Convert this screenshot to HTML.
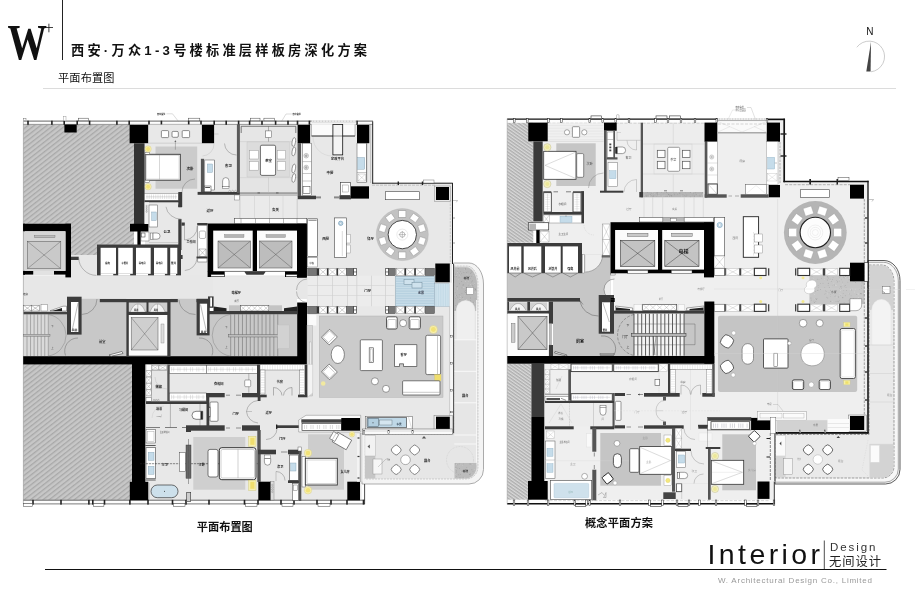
<!DOCTYPE html>
<html lang="zh"><head><meta charset="utf-8"><title>西安·万众1-3号楼标准层样板房深化方案</title>
<style>
html,body{margin:0;padding:0;background:#fff;}
body{width:923px;height:600px;overflow:hidden;font-family:"Liberation Sans","Noto Sans CJK SC",sans-serif;}
svg{display:block;}
#wrap{will-change:transform;width:923px;height:600px;}
svg text{font-family:"Liberation Sans","Noto Sans CJK SC",sans-serif;}
</style></head><body>
<div id="wrap"><svg width="923" height="600" viewBox="0 0 923 600">
<rect width="923" height="600" fill="#fff"/>
<defs>
<pattern id="hL" width="3.85" height="3.85" patternUnits="userSpaceOnUse" patternTransform="rotate(-38)">
<rect width="3.85" height="3.85" fill="#c7c7c7"/><line x1="0" y1="0.7" x2="3.85" y2="0.7" stroke="#a1a1a1" stroke-width="1.05"/></pattern>
<pattern id="hR" width="2.7" height="2.7" patternUnits="userSpaceOnUse" patternTransform="rotate(35)">
<rect width="2.7" height="2.7" fill="#d9d9d9"/><line x1="0" y1="0.7" x2="2.7" y2="0.7" stroke="#adadad" stroke-width="1.35"/></pattern>
</defs>
<g id="p00_header">
<text x="7.5" y="59.3" font-size="50" fill="#111" font-weight="bold" style="font-family:'Liberation Serif',serif" textLength="39.5" lengthAdjust="spacingAndGlyphs">W</text>
<line x1="45" y1="27.5" x2="53" y2="27.5" stroke="#111" stroke-width="0.8"/>
<line x1="48.9" y1="23.7" x2="48.9" y2="32.3" stroke="#111" stroke-width="0.8"/>
<line x1="62.5" y1="0" x2="62.5" y2="60" stroke="#222" stroke-width="1"/>
<text x="71" y="54.5" font-size="13.2" fill="#111" font-weight="bold" textLength="296" lengthAdjust="spacing">西安·万众1-3号楼标准层样板房深化方案</text>
<text x="58" y="82" font-size="11.2" fill="#111" textLength="56.5" lengthAdjust="spacing">平面布置图</text>
<line x1="43" y1="88.5" x2="896" y2="88.5" stroke="#dcdcdc" stroke-width="1"/>
<text x="866.2" y="34.8" font-size="10" fill="#111">N</text>
<path d="M 856.8 47.3 A 15.4 15.4 0 1 1 871 71.8" fill="none" stroke="#999" stroke-width="0.5"/>
<polygon points="871,42 870.6,71.5 866.3,71.5" fill="#444"/>
<text x="196.8" y="530.5" font-size="11.2" fill="#111" font-weight="bold" textLength="56" lengthAdjust="spacing">平面布置图</text>
<text x="585" y="527.3" font-size="11.2" fill="#111" font-weight="bold" textLength="68" lengthAdjust="spacing">概念平面方案</text>
<text x="707.5" y="564.3" font-size="28.5" fill="#111" textLength="112.5" lengthAdjust="spacing">Interior</text>
<line x1="45" y1="569.5" x2="886.5" y2="569.5" stroke="#111" stroke-width="1.2"/>
<line x1="824.3" y1="540.5" x2="824.3" y2="569" stroke="#222" stroke-width="0.8"/>
<text x="830" y="551" font-size="11.5" fill="#333" textLength="45.5" lengthAdjust="spacing">Design</text>
<text x="829" y="565.8" font-size="12.3" fill="#222" textLength="52" lengthAdjust="spacing">无间设计</text>
<text x="718" y="582.5" font-size="8" fill="#999" textLength="154" lengthAdjust="spacing">W. Architectural Design Co., Limited</text>
</g>
<g id="p10_left_base">
<rect x="145" y="122.5" width="228" height="101.5" fill="#e8e8e8"/>
<rect x="145" y="224" width="62.6" height="21" fill="#e8e8e8"/>
<rect x="181" y="244" width="26.6" height="32" fill="#e8e8e8"/>
<rect x="306.8" y="183" width="145.2" height="250" fill="#e8e8e8"/>
<rect x="145" y="364" width="216.5" height="138" fill="#e8e8e8"/>
<rect x="306" y="396" width="56" height="37" fill="#e8e8e8"/>
<rect x="129" y="124.4" width="20" height="0.8" fill="#dedede"/>
<rect x="23.5" y="275.4" width="283.5" height="23.6" fill="#e7e7e7"/>
<rect x="23.5" y="298" width="44.5" height="14" fill="#e7e7e7"/>
<rect x="213" y="277" width="84" height="35" fill="#e9e9e9"/>
<rect x="71" y="255" width="26" height="21" fill="#e7e7e7"/>
<polygon points="23.5,124.6 134,124.6 134,244.7 97,244.7 97,255 71,255 71,223.7 23.5,223.7" fill="url(#hL)"/>
<rect x="23.5" y="364" width="108.5" height="135.9" fill="url(#hL)"/>
<rect x="23.5" y="314" width="24.8" height="42.4" fill="#dadada"/>
<rect x="48.3" y="314" width="20.3" height="42.4" fill="#c8c8c8"/>
<rect x="68" y="298.8" width="58.3" height="57.6" fill="#c8c8c8"/>
<rect x="170.6" y="298.8" width="39.4" height="57.6" fill="#c8c8c8"/>
<rect x="209.6" y="314.3" width="87.7" height="42.1" fill="#c8c8c8"/>
<rect x="307.7" y="275.7" width="86.8" height="30.6" fill="#ececec"/>
<line x1="317.5" y1="275.7" x2="317.5" y2="306.3" stroke="#c4c4c4" stroke-width="0.5"/>
<line x1="332.5" y1="275.7" x2="332.5" y2="306.3" stroke="#c4c4c4" stroke-width="0.5"/>
<line x1="347.5" y1="275.7" x2="347.5" y2="306.3" stroke="#c4c4c4" stroke-width="0.5"/>
<line x1="356.8" y1="275.7" x2="356.8" y2="306.3" stroke="#c4c4c4" stroke-width="0.5"/>
<line x1="371.5" y1="275.7" x2="371.5" y2="306.3" stroke="#c4c4c4" stroke-width="0.5"/>
<line x1="385.5" y1="275.7" x2="385.5" y2="306.3" stroke="#c4c4c4" stroke-width="0.5"/>
<line x1="307.7" y1="285.5" x2="394.5" y2="285.5" stroke="#cfcfcf" stroke-width="0.5"/>
<line x1="307.7" y1="295.5" x2="394.5" y2="295.5" stroke="#cfcfcf" stroke-width="0.5"/>
<rect x="240" y="195.7" width="57.7" height="22.8" fill="#eaeaea"/>
<line x1="254.5" y1="195.7" x2="254.5" y2="218.5" stroke="#c4c4c4" stroke-width="0.4"/>
<line x1="269.5" y1="195.7" x2="269.5" y2="218.5" stroke="#c4c4c4" stroke-width="0.4"/>
<line x1="283" y1="195.7" x2="283" y2="218.5" stroke="#c4c4c4" stroke-width="0.4"/>
<rect x="240" y="124.5" width="57.7" height="71.2" fill="#e4e4e4"/>
<rect x="155.5" y="146.5" width="41.7" height="42.2" fill="#cbcbcb"/>
<rect x="319.3" y="316" width="123.7" height="81.4" fill="#cbcbcb" stroke="#aaa" stroke-width="0.4"/>
<rect x="193.3" y="437" width="52" height="52.7" fill="#cfcfcf"/>
<rect x="308" y="434.3" width="36" height="55.4" fill="#cdcdcd"/>
<path d="M 453.5 263 L 469 263 A 14.5 21 0 0 1 483.5 284 L 483.5 469.5 A 14.5 14.5 0 0 1 469 484 L 362 484 L 362 433.5 L 453.5 433.5 Z" fill="#f4f4f4" stroke="#8a8a8a" stroke-width="0.7"/>
<path d="M 453.7 266 L 467 266 A 11 18 0 0 1 478 284 L 478 467 A 12 12 0 0 1 466 479 L 364.5 479 L 364.5 434.5 L 453.7 434.5 Z" fill="#e6e6e6" stroke="#999" stroke-width="0.4" stroke-dasharray="2 1"/>
<path d="M 454.3 267.3 L 466 267.3 A 11 17 0 0 1 477 284 L 477 311 L 475 311 L 475 310 A 9.3 9.5 0 0 0 456.3 310 L 456.3 311 L 454.3 311 Z" fill="#b9b9b9"/>
<path d="M 456.3 340 L 456.3 310 A 9.3 9.5 0 0 1 475 310 L 475 340 Z" fill="#efefef" stroke="#ddd" stroke-width="0.4"/>
<rect x="466.8" y="287.5" width="6.7" height="6.8" fill="#fff" stroke="#777" stroke-width="0.4"/>
<circle cx="464.66" cy="291.87" r="0.44" fill="#9c9c9c"/>
<circle cx="458.94" cy="302.37" r="0.37" fill="#d6d6d6"/>
<circle cx="472.09" cy="271.85" r="0.35" fill="#8f8f8f"/>
<circle cx="463.44" cy="287.28" r="0.41" fill="#d6d6d6"/>
<circle cx="458.23" cy="268.45" r="0.38" fill="#8f8f8f"/>
<circle cx="455.58" cy="305.62" r="0.39" fill="#9c9c9c"/>
<circle cx="461.91" cy="293.21" r="0.33" fill="#8f8f8f"/>
<circle cx="476.51" cy="303.93" r="0.41" fill="#9c9c9c"/>
<circle cx="455.45" cy="292.02" r="0.32" fill="#8f8f8f"/>
<circle cx="473.26" cy="284.42" r="0.44" fill="#d6d6d6"/>
<circle cx="454.81" cy="276.82" r="0.44" fill="#9c9c9c"/>
<circle cx="462.99" cy="298.28" r="0.36" fill="#d6d6d6"/>
<circle cx="460.68" cy="271.55" r="0.35" fill="#9c9c9c"/>
<circle cx="471.33" cy="272.87" r="0.34" fill="#8f8f8f"/>
<circle cx="455.04" cy="287.79" r="0.37" fill="#d6d6d6"/>
<circle cx="458.96" cy="299.27" r="0.32" fill="#d6d6d6"/>
<circle cx="463.17" cy="284.78" r="0.45" fill="#8f8f8f"/>
<circle cx="472.31" cy="280.88" r="0.43" fill="#8f8f8f"/>
<circle cx="455.72" cy="274.09" r="0.37" fill="#8f8f8f"/>
<circle cx="471.64" cy="281.95" r="0.34" fill="#8f8f8f"/>
<circle cx="456.42" cy="276.78" r="0.4" fill="#8f8f8f"/>
<circle cx="467.91" cy="283.78" r="0.37" fill="#d6d6d6"/>
<circle cx="465.35" cy="292.51" r="0.43" fill="#8f8f8f"/>
<circle cx="468.47" cy="281.16" r="0.33" fill="#d6d6d6"/>
<circle cx="460.24" cy="275.96" r="0.41" fill="#d6d6d6"/>
<circle cx="463.99" cy="272.27" r="0.31" fill="#9c9c9c"/>
<circle cx="460" cy="298.1" r="0.34" fill="#d6d6d6"/>
<circle cx="465.5" cy="290.16" r="0.44" fill="#8f8f8f"/>
<circle cx="457.56" cy="288.41" r="0.4" fill="#d6d6d6"/>
<circle cx="468.19" cy="279.85" r="0.44" fill="#8f8f8f"/>
<circle cx="471.13" cy="270.77" r="0.36" fill="#8f8f8f"/>
<circle cx="456.12" cy="275.38" r="0.36" fill="#d6d6d6"/>
<circle cx="457.82" cy="287.16" r="0.35" fill="#d6d6d6"/>
<circle cx="457.86" cy="269.31" r="0.3" fill="#9c9c9c"/>
<circle cx="455.26" cy="295.16" r="0.37" fill="#d6d6d6"/>
<circle cx="461.58" cy="273.67" r="0.31" fill="#9c9c9c"/>
<circle cx="466.7" cy="299.49" r="0.44" fill="#d6d6d6"/>
<circle cx="470.87" cy="273.37" r="0.44" fill="#9c9c9c"/>
<circle cx="462.47" cy="297.26" r="0.44" fill="#9c9c9c"/>
<circle cx="465.7" cy="268.42" r="0.4" fill="#9c9c9c"/>
<circle cx="456.55" cy="295.29" r="0.45" fill="#9c9c9c"/>
<circle cx="470.67" cy="284.5" r="0.41" fill="#d6d6d6"/>
<circle cx="464.78" cy="287.69" r="0.38" fill="#d6d6d6"/>
<circle cx="459.82" cy="297.83" r="0.37" fill="#d6d6d6"/>
<circle cx="474.34" cy="283.62" r="0.32" fill="#d6d6d6"/>
<circle cx="459.22" cy="275.09" r="0.44" fill="#d6d6d6"/>
<circle cx="475.08" cy="289.23" r="0.34" fill="#9c9c9c"/>
<circle cx="469.32" cy="276.34" r="0.36" fill="#8f8f8f"/>
<circle cx="473.99" cy="284.33" r="0.39" fill="#9c9c9c"/>
<circle cx="459.38" cy="273.59" r="0.35" fill="#8f8f8f"/>
<circle cx="460.83" cy="275.07" r="0.37" fill="#9c9c9c"/>
<circle cx="474.98" cy="303.53" r="0.36" fill="#d6d6d6"/>
<circle cx="465.57" cy="281.36" r="0.43" fill="#d6d6d6"/>
<circle cx="464.66" cy="271.01" r="0.3" fill="#d6d6d6"/>
<circle cx="455.7" cy="298.27" r="0.39" fill="#9c9c9c"/>
<circle cx="468.77" cy="285.22" r="0.33" fill="#9c9c9c"/>
<circle cx="459.98" cy="273.86" r="0.31" fill="#d6d6d6"/>
<circle cx="457.31" cy="272.49" r="0.38" fill="#d6d6d6"/>
<circle cx="469.72" cy="276.37" r="0.37" fill="#8f8f8f"/>
<circle cx="470.37" cy="300.27" r="0.38" fill="#8f8f8f"/>
<circle cx="458.7" cy="279.51" r="0.35" fill="#d6d6d6"/>
<circle cx="475.44" cy="289.32" r="0.45" fill="#8f8f8f"/>
<circle cx="475.13" cy="298.86" r="0.32" fill="#9c9c9c"/>
<circle cx="454.95" cy="291.45" r="0.4" fill="#d6d6d6"/>
<circle cx="464.91" cy="295.81" r="0.33" fill="#d6d6d6"/>
<circle cx="473.68" cy="302.13" r="0.44" fill="#8f8f8f"/>
<circle cx="476.17" cy="309.83" r="0.38" fill="#9c9c9c"/>
<circle cx="460.51" cy="298.69" r="0.3" fill="#d6d6d6"/>
<circle cx="456.6" cy="286.76" r="0.38" fill="#9c9c9c"/>
<circle cx="465.43" cy="269.02" r="0.42" fill="#8f8f8f"/>
<circle cx="464.15" cy="269.31" r="0.38" fill="#d6d6d6"/>
<circle cx="471.98" cy="273.84" r="0.32" fill="#d6d6d6"/>
<circle cx="474.43" cy="290.08" r="0.4" fill="#9c9c9c"/>
<circle cx="475.42" cy="288.98" r="0.44" fill="#8f8f8f"/>
<circle cx="471.32" cy="286.7" r="0.38" fill="#d6d6d6"/>
<circle cx="467.04" cy="274.87" r="0.38" fill="#d6d6d6"/>
<circle cx="460.39" cy="296.67" r="0.44" fill="#d6d6d6"/>
<circle cx="475.91" cy="290.34" r="0.39" fill="#8f8f8f"/>
<circle cx="463.76" cy="272.71" r="0.3" fill="#9c9c9c"/>
<circle cx="455.41" cy="309.48" r="0.38" fill="#9c9c9c"/>
<circle cx="457.46" cy="271.81" r="0.33" fill="#d6d6d6"/>
<circle cx="472.25" cy="285.18" r="0.34" fill="#9c9c9c"/>
<circle cx="457.57" cy="286.45" r="0.42" fill="#9c9c9c"/>
<circle cx="466.24" cy="272.47" r="0.36" fill="#8f8f8f"/>
<circle cx="459.03" cy="277.57" r="0.4" fill="#9c9c9c"/>
<circle cx="470.57" cy="278.31" r="0.37" fill="#9c9c9c"/>
<circle cx="470.73" cy="273.08" r="0.38" fill="#9c9c9c"/>
<circle cx="470.45" cy="297.96" r="0.43" fill="#8f8f8f"/>
<circle cx="462.99" cy="285.58" r="0.38" fill="#8f8f8f"/>
<circle cx="466.44" cy="277.19" r="0.33" fill="#d6d6d6"/>
<circle cx="459.87" cy="299.65" r="0.42" fill="#8f8f8f"/>
<circle cx="461.69" cy="281.34" r="0.44" fill="#8f8f8f"/>
<circle cx="471.77" cy="276.17" r="0.31" fill="#8f8f8f"/>
<circle cx="457.69" cy="271.59" r="0.36" fill="#9c9c9c"/>
<circle cx="472.94" cy="285.93" r="0.42" fill="#8f8f8f"/>
<circle cx="459.17" cy="294.8" r="0.42" fill="#8f8f8f"/>
<circle cx="459.18" cy="297.14" r="0.44" fill="#9c9c9c"/>
<circle cx="457.32" cy="289.54" r="0.41" fill="#d6d6d6"/>
<circle cx="476.57" cy="303.62" r="0.42" fill="#9c9c9c"/>
<circle cx="457.11" cy="269.41" r="0.38" fill="#d6d6d6"/>
<circle cx="474.53" cy="288.49" r="0.33" fill="#8f8f8f"/>
<circle cx="476.39" cy="307.66" r="0.31" fill="#8f8f8f"/>
<circle cx="457.73" cy="297.08" r="0.31" fill="#8f8f8f"/>
<circle cx="461.92" cy="287.88" r="0.38" fill="#9c9c9c"/>
<circle cx="459.38" cy="283.85" r="0.4" fill="#8f8f8f"/>
<circle cx="473.2" cy="275.59" r="0.37" fill="#d6d6d6"/>
<circle cx="467.99" cy="271.88" r="0.42" fill="#9c9c9c"/>
<circle cx="474.27" cy="302.27" r="0.41" fill="#d6d6d6"/>
<circle cx="475.28" cy="292.3" r="0.33" fill="#d6d6d6"/>
<circle cx="476.22" cy="302.41" r="0.34" fill="#8f8f8f"/>
<line x1="454.3" y1="339.8" x2="476.5" y2="339.8" stroke="#fafafa" stroke-width="0.9"/>
<line x1="454.3" y1="371.3" x2="476.5" y2="371.3" stroke="#fafafa" stroke-width="0.9"/>
<line x1="454.3" y1="402.8" x2="476.5" y2="402.8" stroke="#fafafa" stroke-width="0.9"/>
<line x1="454.3" y1="435" x2="476.5" y2="435" stroke="#fafafa" stroke-width="0.9"/>
<line x1="454.3" y1="444" x2="476.5" y2="444" stroke="#fafafa" stroke-width="0.9"/>
<line x1="454.3" y1="462.8" x2="476.5" y2="462.8" stroke="#fafafa" stroke-width="0.9"/>
<line x1="476.5" y1="300" x2="476.5" y2="465" stroke="#fafafa" stroke-width="0.8"/>
<path d="M 454.5 462.8 L 476.5 462.8 L 476.5 467 A 11.5 11.5 0 0 1 465 478.5 L 454.5 478.5 Z" fill="#bcbcbc"/>
<circle cx="470.63" cy="474.71" r="0.42" fill="#9c9c9c"/>
<circle cx="457.8" cy="468.08" r="0.38" fill="#9c9c9c"/>
<circle cx="471.11" cy="474.53" r="0.36" fill="#d6d6d6"/>
<circle cx="458.88" cy="475" r="0.35" fill="#8f8f8f"/>
<circle cx="455.22" cy="468.46" r="0.4" fill="#d6d6d6"/>
<circle cx="456.04" cy="467.24" r="0.44" fill="#9c9c9c"/>
<circle cx="462.09" cy="472.96" r="0.39" fill="#d6d6d6"/>
<circle cx="456.61" cy="470.82" r="0.37" fill="#8f8f8f"/>
<circle cx="469.73" cy="474.47" r="0.45" fill="#8f8f8f"/>
<circle cx="457.41" cy="464.8" r="0.34" fill="#9c9c9c"/>
<circle cx="463.43" cy="463.95" r="0.33" fill="#9c9c9c"/>
<circle cx="455.23" cy="467.03" r="0.34" fill="#9c9c9c"/>
<circle cx="466.55" cy="470.72" r="0.45" fill="#d6d6d6"/>
<circle cx="472.77" cy="464.67" r="0.37" fill="#d6d6d6"/>
<circle cx="456.6" cy="472.04" r="0.41" fill="#8f8f8f"/>
<circle cx="463.11" cy="477.09" r="0.36" fill="#8f8f8f"/>
<circle cx="472.97" cy="471.22" r="0.39" fill="#9c9c9c"/>
<circle cx="474.85" cy="469.43" r="0.38" fill="#d6d6d6"/>
<circle cx="461.56" cy="471.05" r="0.37" fill="#9c9c9c"/>
<circle cx="466.77" cy="467.4" r="0.41" fill="#9c9c9c"/>
<circle cx="455.56" cy="474.63" r="0.39" fill="#d6d6d6"/>
<circle cx="458.29" cy="474.37" r="0.36" fill="#9c9c9c"/>
<circle cx="470.72" cy="463.94" r="0.45" fill="#9c9c9c"/>
<circle cx="456.54" cy="476.6" r="0.36" fill="#9c9c9c"/>
<circle cx="460.27" cy="474.38" r="0.31" fill="#8f8f8f"/>
<circle cx="464.84" cy="477.69" r="0.42" fill="#d6d6d6"/>
<circle cx="469.83" cy="463.95" r="0.36" fill="#8f8f8f"/>
<circle cx="459.28" cy="463.97" r="0.38" fill="#8f8f8f"/>
<circle cx="462.63" cy="465.27" r="0.36" fill="#d6d6d6"/>
<circle cx="460.5" cy="471.82" r="0.36" fill="#d6d6d6"/>
<circle cx="460.01" cy="464.89" r="0.43" fill="#d6d6d6"/>
<circle cx="468.12" cy="468.52" r="0.34" fill="#d6d6d6"/>
<circle cx="470.23" cy="473.55" r="0.33" fill="#9c9c9c"/>
<circle cx="470.82" cy="466.01" r="0.34" fill="#d6d6d6"/>
<circle cx="455.83" cy="464.1" r="0.34" fill="#9c9c9c"/>
<circle cx="455.56" cy="463.76" r="0.33" fill="#9c9c9c"/>
<circle cx="456.52" cy="464.48" r="0.4" fill="#d6d6d6"/>
<circle cx="459.93" cy="477.73" r="0.37" fill="#9c9c9c"/>
<circle cx="459.42" cy="468.29" r="0.41" fill="#8f8f8f"/>
<circle cx="471.85" cy="469.82" r="0.42" fill="#8f8f8f"/>
<circle cx="369.44" cy="472.57" r="0.3" fill="#a5a5a5"/>
<circle cx="373.1" cy="464.43" r="0.3" fill="#ddd"/>
<circle cx="373.36" cy="469.33" r="0.3" fill="#a5a5a5"/>
<circle cx="370.49" cy="472.54" r="0.3" fill="#999"/>
<circle cx="369.28" cy="464.44" r="0.3" fill="#999"/>
<circle cx="369.62" cy="463.47" r="0.3" fill="#ddd"/>
<circle cx="365.83" cy="468.63" r="0.3" fill="#a5a5a5"/>
<circle cx="373.15" cy="466.47" r="0.3" fill="#999"/>
<circle cx="365.76" cy="461.09" r="0.3" fill="#ddd"/>
<circle cx="371.04" cy="471.44" r="0.3" fill="#a5a5a5"/>
<circle cx="372.25" cy="471.42" r="0.3" fill="#a5a5a5"/>
<circle cx="373.82" cy="461.2" r="0.3" fill="#ddd"/>
<circle cx="372.26" cy="464.38" r="0.3" fill="#999"/>
<circle cx="368.22" cy="465.98" r="0.3" fill="#ddd"/>
<circle cx="374.19" cy="476.71" r="0.3" fill="#a5a5a5"/>
<circle cx="369.38" cy="473.77" r="0.3" fill="#a5a5a5"/>
<circle cx="369.58" cy="461.26" r="0.3" fill="#ddd"/>
<circle cx="373.95" cy="461.84" r="0.3" fill="#a5a5a5"/>
<circle cx="373.29" cy="457.02" r="0.3" fill="#ddd"/>
<circle cx="368.96" cy="464.83" r="0.3" fill="#999"/>
<circle cx="372.39" cy="464.42" r="0.3" fill="#a5a5a5"/>
<circle cx="370.41" cy="474.48" r="0.3" fill="#ddd"/>
<circle cx="366.77" cy="458.43" r="0.3" fill="#a5a5a5"/>
<circle cx="373.81" cy="462.55" r="0.3" fill="#999"/>
<circle cx="367.21" cy="457.74" r="0.3" fill="#999"/>
<circle cx="370.67" cy="477.28" r="0.3" fill="#ddd"/>
<circle cx="373.42" cy="465.59" r="0.3" fill="#ddd"/>
<circle cx="370.47" cy="473.44" r="0.3" fill="#999"/>
<circle cx="368.35" cy="462.38" r="0.3" fill="#999"/>
<circle cx="373.99" cy="458.32" r="0.3" fill="#ddd"/>
<rect x="364.7" y="456" width="10.6" height="22.5" fill="#c6c6c6"/>
<rect x="364.9" y="435.8" width="10.4" height="20.2" fill="#f2f2f2" stroke="#aaa" stroke-width="0.4"/>
<rect x="373" y="459" width="9" height="15" fill="#f6f6f6" stroke="#888" stroke-width="0.4"/>
<circle cx="460" cy="460" r="13.5" fill="none" stroke="#bbb" stroke-width="0.4" stroke-dasharray="0.8 0.8"/>
<rect x="395.5" y="276.3" width="39" height="30" fill="#b7d1e0" stroke="#7f97a6" stroke-width="0.4"/>
<line x1="396" y1="277.6" x2="434" y2="277.6" stroke="#d3e4ee" stroke-width="0.7"/>
<line x1="396" y1="280.05" x2="434" y2="280.05" stroke="#d3e4ee" stroke-width="0.7"/>
<line x1="396" y1="282.5" x2="434" y2="282.5" stroke="#d3e4ee" stroke-width="0.7"/>
<line x1="396" y1="284.95" x2="434" y2="284.95" stroke="#d3e4ee" stroke-width="0.7"/>
<line x1="396" y1="287.4" x2="434" y2="287.4" stroke="#d3e4ee" stroke-width="0.7"/>
<line x1="396" y1="289.85" x2="434" y2="289.85" stroke="#d3e4ee" stroke-width="0.7"/>
<line x1="396" y1="292.3" x2="434" y2="292.3" stroke="#d3e4ee" stroke-width="0.7"/>
<line x1="396" y1="294.75" x2="434" y2="294.75" stroke="#d3e4ee" stroke-width="0.7"/>
<line x1="396" y1="297.2" x2="434" y2="297.2" stroke="#d3e4ee" stroke-width="0.7"/>
<line x1="396" y1="299.65" x2="434" y2="299.65" stroke="#d3e4ee" stroke-width="0.7"/>
<line x1="396" y1="302.1" x2="434" y2="302.1" stroke="#d3e4ee" stroke-width="0.7"/>
<line x1="396" y1="304.55" x2="434" y2="304.55" stroke="#d3e4ee" stroke-width="0.7"/>
<rect x="434.5" y="283.8" width="15" height="22.5" fill="#cfe2ed" stroke="#8ea9b9" stroke-width="0.4"/>
<line x1="436" y1="283.8" x2="436" y2="306.3" stroke="#b6d0df" stroke-width="0.5"/>
<line x1="438.4" y1="283.8" x2="438.4" y2="306.3" stroke="#b6d0df" stroke-width="0.5"/>
<line x1="440.8" y1="283.8" x2="440.8" y2="306.3" stroke="#b6d0df" stroke-width="0.5"/>
<line x1="443.2" y1="283.8" x2="443.2" y2="306.3" stroke="#b6d0df" stroke-width="0.5"/>
<line x1="445.6" y1="283.8" x2="445.6" y2="306.3" stroke="#b6d0df" stroke-width="0.5"/>
<line x1="448" y1="283.8" x2="448" y2="306.3" stroke="#b6d0df" stroke-width="0.5"/>
<rect x="404" y="279.5" width="10" height="5" fill="#cfe2ed" stroke="#6f8b9c" stroke-width="0.5"/>
<rect x="412" y="282.5" width="10" height="5.5" fill="#cfe2ed" stroke="#6f8b9c" stroke-width="0.5"/>
</g>
<g id="p20_left_walls">
<rect x="23.3" y="120.6" width="349.7" height="4" fill="#fdfdfd"/>
<line x1="23.3" y1="121.1" x2="373" y2="121.1" stroke="#333" stroke-width="0.75"/>
<line x1="23.3" y1="124.4" x2="373" y2="124.4" stroke="#555" stroke-width="0.6"/>
<rect x="27.2" y="120.7" width="1.6" height="4.1" fill="#222"/>
<rect x="51.1" y="120.7" width="1.6" height="4.1" fill="#222"/>
<rect x="63.4" y="120.7" width="1.6" height="4.1" fill="#222"/>
<rect x="76.4" y="120.7" width="1.6" height="4.1" fill="#222"/>
<rect x="88.8" y="120.7" width="1.6" height="4.1" fill="#222"/>
<rect x="116.1" y="120.7" width="1.6" height="4.1" fill="#222"/>
<rect x="128.4" y="120.7" width="1.6" height="4.1" fill="#222"/>
<rect x="148.2" y="120.7" width="1.6" height="4.1" fill="#222"/>
<rect x="160.6" y="120.7" width="1.6" height="4.1" fill="#222"/>
<rect x="187.9" y="120.7" width="1.6" height="4.1" fill="#222"/>
<rect x="200.2" y="120.7" width="1.6" height="4.1" fill="#222"/>
<rect x="213.4" y="120.7" width="1.6" height="4.1" fill="#222"/>
<rect x="225.4" y="120.7" width="1.6" height="4.1" fill="#222"/>
<rect x="237.8" y="120.7" width="1.6" height="4.1" fill="#222"/>
<rect x="248.8" y="120.7" width="1.6" height="4.1" fill="#222"/>
<rect x="261.2" y="120.7" width="1.6" height="4.1" fill="#222"/>
<rect x="274.8" y="120.7" width="1.6" height="4.1" fill="#222"/>
<rect x="287.2" y="120.7" width="1.6" height="4.1" fill="#222"/>
<rect x="296.7" y="120.7" width="1.6" height="4.1" fill="#222"/>
<rect x="308.6" y="120.7" width="1.6" height="4.1" fill="#222"/>
<rect x="356.2" y="120.7" width="1.6" height="4.1" fill="#222"/>
<rect x="78.5" y="118.2" width="9.8" height="2.6" fill="#fff" stroke="#444" stroke-width="0.5"/>
<rect x="188.7" y="118.2" width="11.1" height="2.6" fill="#fff" stroke="#444" stroke-width="0.5"/>
<rect x="250.3" y="118.2" width="9.7" height="2.6" fill="#fff" stroke="#444" stroke-width="0.5"/>
<rect x="263.9" y="118.2" width="10.4" height="2.6" fill="#fff" stroke="#444" stroke-width="0.5"/>
<rect x="23.3" y="118.6" width="2.7" height="2.2" fill="#fff" stroke="#555" stroke-width="0.4"/>
<rect x="63.6" y="116.6" width="2.4" height="4.2" fill="#fff" stroke="#777" stroke-width="0.35"/>
<rect x="311.5" y="120.2" width="44.7" height="4.4" fill="#fff"/>
<line x1="311.5" y1="121.2" x2="356.2" y2="121.2" stroke="#777" stroke-width="0.5" stroke-dasharray="1 0.5"/>
<line x1="311.5" y1="122.8" x2="356.2" y2="122.8" stroke="#999" stroke-width="0.4"/>
<line x1="372.7" y1="121.4" x2="372.7" y2="183.6" stroke="#222" stroke-width="1"/>
<line x1="370.6" y1="124" x2="370.6" y2="183" stroke="#888" stroke-width="0.4"/>
<line x1="372.2" y1="183.2" x2="452.8" y2="183.2" stroke="#222" stroke-width="1"/>
<line x1="372" y1="185.2" x2="436" y2="185.2" stroke="#888" stroke-width="0.4" stroke-dasharray="3 1"/>
<rect x="397.6" y="181.5" width="1.4" height="3.5" fill="#222"/>
<rect x="421.8" y="181.5" width="1.4" height="3.5" fill="#222"/>
<rect x="423.3" y="180" width="10.7" height="3" fill="#fff" stroke="#555" stroke-width="0.4"/>
<line x1="452.5" y1="183" x2="452.5" y2="264" stroke="#222" stroke-width="1"/>
<line x1="450.3" y1="200" x2="450.3" y2="264" stroke="#999" stroke-width="0.4" stroke-dasharray="2.5 1"/>
<rect x="449.6" y="282.6" width="4.1" height="133.4" fill="#f6f6f6"/>
<line x1="453.6" y1="264" x2="453.6" y2="433" stroke="#222" stroke-width="0.8"/>
<line x1="449.6" y1="306" x2="449.6" y2="416" stroke="#999" stroke-width="0.4"/>
<rect x="450.6" y="335.5" width="2" height="1.6" fill="#fff" stroke="#333" stroke-width="0.4"/>
<rect x="450.6" y="362.5" width="2" height="1.6" fill="#fff" stroke="#333" stroke-width="0.4"/>
<rect x="450.6" y="389.5" width="2" height="1.6" fill="#fff" stroke="#333" stroke-width="0.4"/>
<rect x="450.6" y="411.2" width="2" height="1.6" fill="#fff" stroke="#333" stroke-width="0.4"/>
<rect x="23.3" y="499.9" width="341.5" height="4.3" fill="#fdfdfd"/>
<line x1="23.3" y1="500.2" x2="364.8" y2="500.2" stroke="#333" stroke-width="0.75"/>
<line x1="23.3" y1="503.9" x2="364.8" y2="503.9" stroke="#444" stroke-width="0.7"/>
<rect x="32.2" y="499.8" width="1.6" height="4.8" fill="#222"/>
<rect x="60.2" y="499.8" width="1.6" height="4.8" fill="#222"/>
<rect x="88.1" y="499.8" width="1.6" height="4.8" fill="#222"/>
<rect x="92" y="499.8" width="1.6" height="4.8" fill="#222"/>
<rect x="103.7" y="499.8" width="1.6" height="4.8" fill="#222"/>
<rect x="129.1" y="499.8" width="1.6" height="4.8" fill="#222"/>
<rect x="147.2" y="499.8" width="1.6" height="4.8" fill="#222"/>
<rect x="171.7" y="499.8" width="1.6" height="4.8" fill="#222"/>
<rect x="185.2" y="499.8" width="1.6" height="4.8" fill="#222"/>
<rect x="208.2" y="499.8" width="1.6" height="4.8" fill="#222"/>
<rect x="243.7" y="499.8" width="1.6" height="4.8" fill="#222"/>
<rect x="257.2" y="499.8" width="1.6" height="4.8" fill="#222"/>
<rect x="280.2" y="499.8" width="1.6" height="4.8" fill="#222"/>
<rect x="293.2" y="499.8" width="1.6" height="4.8" fill="#222"/>
<rect x="316.2" y="499.8" width="1.6" height="4.8" fill="#222"/>
<rect x="330.2" y="499.8" width="1.6" height="4.8" fill="#222"/>
<rect x="346.2" y="499.8" width="1.6" height="4.8" fill="#222"/>
<rect x="362.7" y="499.8" width="1.6" height="4.8" fill="#222"/>
<rect x="23.3" y="503.6" width="9.1" height="2.7" fill="#fff" stroke="#444" stroke-width="0.5"/>
<rect x="93.5" y="503.6" width="10.4" height="2.7" fill="#fff" stroke="#444" stroke-width="0.5"/>
<rect x="173.5" y="503.6" width="11.5" height="2.7" fill="#fff" stroke="#444" stroke-width="0.5"/>
<rect x="245.5" y="503.6" width="11.5" height="2.7" fill="#fff" stroke="#444" stroke-width="0.5"/>
<rect x="282" y="503.6" width="11" height="2.7" fill="#fff" stroke="#444" stroke-width="0.5"/>
<rect x="318" y="503.6" width="12" height="2.7" fill="#fff" stroke="#444" stroke-width="0.5"/>
<line x1="364.6" y1="484" x2="364.6" y2="504.2" stroke="#222" stroke-width="0.8"/>
<line x1="23.4" y1="121.5" x2="23.4" y2="504" stroke="#666" stroke-width="0.4"/>
<rect x="129.6" y="125" width="18.8" height="18.2" fill="#000"/>
<rect x="64.4" y="124.5" width="12.3" height="8" fill="#000"/>
<rect x="201.7" y="125" width="12.4" height="18.2" fill="#000"/>
<rect x="297.6" y="125" width="12.5" height="18.2" fill="#000"/>
<rect x="357" y="125" width="12.3" height="18.2" fill="#000"/>
<rect x="350.8" y="186.3" width="18.2" height="12.3" fill="#000"/>
<rect x="436" y="187" width="13" height="13" fill="#000"/>
<rect x="435.3" y="263.5" width="14.5" height="18.8" fill="#000"/>
<rect x="436" y="416.7" width="13.8" height="13.8" fill="#000"/>
<rect x="341.3" y="418" width="18.7" height="12.7" fill="#000"/>
<rect x="129.8" y="481.8" width="18.5" height="18.4" fill="#000"/>
<rect x="258.3" y="481.7" width="12.4" height="18.6" fill="#000"/>
<rect x="347.3" y="481.7" width="12.7" height="18.6" fill="#000"/>
<rect x="434" y="415.5" width="18.5" height="16.5" fill="none" stroke="#666" stroke-width="0.4"/>
<rect x="434.6" y="186" width="15.9" height="15.3" fill="none" stroke="#777" stroke-width="0.4"/>
<rect x="134" y="143.2" width="10.6" height="80.8" fill="#333"/>
<rect x="130" y="223.8" width="18.4" height="7.7" fill="#000"/>
<rect x="137.4" y="231" width="3.3" height="14" fill="#000"/>
<rect x="132" y="364" width="13.3" height="118" fill="#000"/>
<rect x="23.2" y="356.2" width="284.1" height="8.2" fill="#000"/>
<rect x="297.2" y="302.5" width="9.8" height="61.5" fill="#000"/>
<rect x="23.2" y="223.7" width="47.7" height="7.6" fill="#000"/>
<rect x="65.4" y="223.7" width="5.6" height="53.7" fill="#000"/>
<rect x="23.2" y="223.7" width="1.8" height="51.1" fill="#000"/>
<rect x="23.2" y="270.9" width="10.3" height="3.7" fill="#000"/>
<rect x="54" y="270.9" width="17" height="3.7" fill="#000"/>
<rect x="23.2" y="231.3" width="42.3" height="39.6" fill="#d5d5d5"/>
<rect x="33.5" y="270.9" width="20.5" height="4.1" fill="#e2e2e2"/>
<rect x="27.4" y="241.3" width="33.4" height="27.4" fill="#c9c9c9" stroke="#555" stroke-width="0.5"/>
<line x1="27.4" y1="241.3" x2="60.8" y2="268.7" stroke="#555" stroke-width="0.4"/>
<line x1="27.4" y1="268.7" x2="60.8" y2="241.3" stroke="#555" stroke-width="0.4"/>
<rect x="34.5" y="235.6" width="20.5" height="2.2" fill="#bbb" stroke="#555" stroke-width="0.3"/>
<rect x="71" y="256.7" width="7.7" height="3.3" fill="#3c3c3c"/>
<rect x="207.6" y="223.5" width="99.2" height="47.9" fill="#000"/>
<rect x="297" y="223.5" width="9.8" height="54.3" fill="#000"/>
<rect x="207.6" y="271" width="17.1" height="6" fill="#000"/>
<rect x="285" y="271" width="21.8" height="6" fill="#000"/>
<rect x="213.2" y="230.6" width="39.5" height="40.6" fill="#fbfbfb"/>
<rect x="257" y="230.6" width="40" height="40.6" fill="#fbfbfb"/>
<polygon points="244,271.2 266,271.2 263.5,274.8 246.5,274.8" fill="#3a3a3a"/>
<rect x="211" y="274.6" width="13.2" height="1.9" fill="#fff" stroke="#333" stroke-width="0.3"/>
<rect x="286" y="274.6" width="11" height="1.9" fill="#fff" stroke="#333" stroke-width="0.3"/>
<line x1="224.7" y1="271.4" x2="244" y2="271.4" stroke="#555" stroke-width="0.5"/>
<line x1="266" y1="271.4" x2="285" y2="271.4" stroke="#555" stroke-width="0.5"/>
<rect x="218" y="241" width="32.5" height="27" fill="#bdbdbd" stroke="#444" stroke-width="0.5"/>
<line x1="218" y1="241" x2="250.5" y2="268" stroke="#444" stroke-width="0.4"/>
<line x1="218" y1="268" x2="250.5" y2="241" stroke="#444" stroke-width="0.4"/>
<rect x="224.5" y="234.5" width="19.5" height="3" fill="#b5b5b5" stroke="#666" stroke-width="0.3"/>
<rect x="259.5" y="241" width="32.5" height="27" fill="#bdbdbd" stroke="#444" stroke-width="0.5"/>
<line x1="259.5" y1="241" x2="292" y2="268" stroke="#444" stroke-width="0.4"/>
<line x1="259.5" y1="268" x2="292" y2="241" stroke="#444" stroke-width="0.4"/>
<rect x="266" y="234.5" width="19.5" height="3" fill="#b5b5b5" stroke="#666" stroke-width="0.3"/>
<rect x="97" y="244.5" width="84" height="30.9" fill="#3c3c3c"/>
<rect x="100.6" y="247.8" width="15.4" height="26" fill="#fff"/>
<rect x="100.6" y="273.8" width="12.63" height="1.8" fill="#fff"/>
<rect x="118.2" y="247.8" width="14.6" height="26" fill="#fff"/>
<rect x="118.2" y="273.8" width="11.97" height="1.8" fill="#fff"/>
<rect x="136" y="247.8" width="14.7" height="26" fill="#fff"/>
<rect x="136" y="273.8" width="12.05" height="1.8" fill="#fff"/>
<rect x="154" y="247.8" width="13.3" height="26" fill="#fff"/>
<rect x="154" y="273.8" width="10.91" height="1.8" fill="#fff"/>
<rect x="170.2" y="247.8" width="7.1" height="26" fill="#fff"/>
<rect x="170.2" y="273.8" width="5.82" height="1.8" fill="#fff"/>
<rect x="67.3" y="299" width="13.7" height="3.2" fill="#3c3c3c"/>
<rect x="99.8" y="299" width="78" height="3.2" fill="#3c3c3c"/>
<rect x="196.5" y="299" width="12.3" height="3.2" fill="#3c3c3c"/>
<rect x="23.5" y="311.8" width="45.1" height="2.5" fill="#444"/>
<rect x="67" y="296.7" width="14.6" height="37.9" fill="#3c3c3c"/>
<rect x="71" y="302" width="7.4" height="30" fill="#fff"/>
<line x1="78" y1="303" x2="72" y2="331" stroke="#555" stroke-width="0.4"/>
<rect x="196.6" y="298.8" width="13" height="36.6" fill="#3c3c3c"/>
<rect x="199.8" y="303.7" width="7.3" height="29.3" fill="#fff"/>
<line x1="200.5" y1="304.5" x2="206.5" y2="332" stroke="#555" stroke-width="0.4"/>
<rect x="208" y="296.4" width="5.6" height="11.4" fill="#3c3c3c"/>
<rect x="210.2" y="297.5" width="1.8" height="9" fill="#fff"/>
<rect x="126.3" y="299" width="44.3" height="57.4" fill="#3c3c3c"/>
<rect x="128.8" y="315" width="38.5" height="40.7" fill="#fafafa"/>
<rect x="128.8" y="302.5" width="17.7" height="9.3" fill="#cfcfcf"/>
<rect x="148.5" y="302.5" width="18.8" height="9.3" fill="#cfcfcf"/>
<rect x="131.2" y="317.5" width="26.8" height="32.5" fill="#cfcfcf" stroke="#555" stroke-width="0.5"/>
<line x1="131.2" y1="317.5" x2="158" y2="350" stroke="#555" stroke-width="0.4"/>
<line x1="131.2" y1="350" x2="158" y2="317.5" stroke="#555" stroke-width="0.4"/>
<rect x="161" y="324" width="3" height="19" fill="#ddd" stroke="#666" stroke-width="0.3"/>
<path d="M 130.3 311.8 Q 133.8 303.5 137.8 304 Q 141.8 303.5 145.3 311.8" fill="#f2f2f2" stroke="#555" stroke-width="0.3"/>
<line x1="137.8" y1="304" x2="137.8" y2="311.8" stroke="#555" stroke-width="0.3"/>
<text x="134" y="311.2" font-size="2.2" fill="#111" font-weight="bold">风井</text>
<path d="M 150.0 311.8 Q 153.5 303.5 157.5 304 Q 161.5 303.5 165.0 311.8" fill="#f2f2f2" stroke="#555" stroke-width="0.3"/>
<line x1="157.5" y1="304" x2="157.5" y2="311.8" stroke="#555" stroke-width="0.3"/>
<text x="153.7" y="311.2" font-size="2.2" fill="#111" font-weight="bold">风井</text>
<text x="72" y="331.3" font-size="2.3" fill="#111" font-weight="bold" textLength="5.4" lengthAdjust="spacingAndGlyphs">风井</text>
<text x="200.8" y="332.5" font-size="2.3" fill="#111" font-weight="bold" textLength="5.4" lengthAdjust="spacingAndGlyphs">风井</text>
<rect x="208.8" y="311" width="88.5" height="3.3" fill="#3c3c3c"/>
<rect x="229" y="305.3" width="11.4" height="5.7" fill="#c4c4c4"/>
<rect x="269.7" y="305.3" width="12.3" height="5.7" fill="#c4c4c4"/>
<rect x="240.4" y="305.3" width="28.5" height="5.7" fill="#fff" stroke="#333" stroke-width="0.5"/>
<line x1="240.4" y1="305.3" x2="246.1" y2="311" stroke="#777" stroke-width="0.3"/>
<line x1="240.4" y1="311" x2="246.1" y2="305.3" stroke="#777" stroke-width="0.3"/>
<line x1="246.1" y1="305.3" x2="251.8" y2="311" stroke="#777" stroke-width="0.3"/>
<line x1="246.1" y1="311" x2="251.8" y2="305.3" stroke="#777" stroke-width="0.3"/>
<line x1="251.8" y1="305.3" x2="257.5" y2="311" stroke="#777" stroke-width="0.3"/>
<line x1="251.8" y1="311" x2="257.5" y2="305.3" stroke="#777" stroke-width="0.3"/>
<line x1="257.5" y1="305.3" x2="263.2" y2="311" stroke="#777" stroke-width="0.3"/>
<line x1="257.5" y1="311" x2="263.2" y2="305.3" stroke="#777" stroke-width="0.3"/>
<line x1="263.2" y1="305.3" x2="268.9" y2="311" stroke="#777" stroke-width="0.3"/>
<line x1="263.2" y1="311" x2="268.9" y2="305.3" stroke="#777" stroke-width="0.3"/>
<polygon points="213.6,306.5 226.5,308.2 226.5,311 213.6,311" fill="#222"/>
<polygon points="297,306.5 284,308.2 284,311 297,311" fill="#222"/>
<line x1="230.7" y1="314.3" x2="230.7" y2="356" stroke="#555" stroke-width="0.45"/>
<line x1="234.62" y1="314.3" x2="234.62" y2="356" stroke="#555" stroke-width="0.45"/>
<line x1="238.54" y1="314.3" x2="238.54" y2="356" stroke="#555" stroke-width="0.45"/>
<line x1="242.46" y1="314.3" x2="242.46" y2="356" stroke="#555" stroke-width="0.45"/>
<line x1="246.38" y1="314.3" x2="246.38" y2="356" stroke="#555" stroke-width="0.45"/>
<line x1="250.3" y1="314.3" x2="250.3" y2="356" stroke="#555" stroke-width="0.45"/>
<line x1="254.22" y1="314.3" x2="254.22" y2="356" stroke="#555" stroke-width="0.45"/>
<line x1="258.14" y1="314.3" x2="258.14" y2="356" stroke="#555" stroke-width="0.45"/>
<line x1="262.06" y1="314.3" x2="262.06" y2="356" stroke="#555" stroke-width="0.45"/>
<line x1="265.98" y1="314.3" x2="265.98" y2="356" stroke="#555" stroke-width="0.45"/>
<line x1="269.9" y1="314.3" x2="269.9" y2="356" stroke="#555" stroke-width="0.45"/>
<line x1="273.82" y1="314.3" x2="273.82" y2="356" stroke="#555" stroke-width="0.45"/>
<line x1="277.74" y1="314.3" x2="277.74" y2="356" stroke="#555" stroke-width="0.45"/>
<rect x="228.5" y="334.6" width="51.5" height="2.4" fill="#bdbdbd" stroke="#555" stroke-width="0.4"/>
<rect x="277.8" y="325" width="11.4" height="23.5" fill="#d2d2d2" stroke="#bbb" stroke-width="0.3"/>
<path d="M 230 314.5 A 21 21 0 0 0 230 356" fill="none" stroke="#777" stroke-width="0.4"/>
<line x1="27" y1="314.3" x2="27" y2="356" stroke="#666" stroke-width="0.45"/>
<line x1="30.55" y1="314.3" x2="30.55" y2="356" stroke="#666" stroke-width="0.45"/>
<line x1="34.1" y1="314.3" x2="34.1" y2="356" stroke="#666" stroke-width="0.45"/>
<line x1="37.65" y1="314.3" x2="37.65" y2="356" stroke="#666" stroke-width="0.45"/>
<line x1="41.2" y1="314.3" x2="41.2" y2="356" stroke="#666" stroke-width="0.45"/>
<line x1="44.75" y1="314.3" x2="44.75" y2="356" stroke="#666" stroke-width="0.45"/>
<line x1="48.3" y1="314.3" x2="48.3" y2="356" stroke="#666" stroke-width="0.45"/>
<rect x="23.5" y="334.2" width="26.5" height="2.2" fill="#bdbdbd" stroke="#666" stroke-width="0.4"/>
<path d="M 48.3 314.5 A 21 21 0 0 1 48.3 356" fill="none" stroke="#777" stroke-width="0.4"/>
<rect x="23.5" y="305.3" width="7.8" height="5.7" fill="#fff" stroke="#555" stroke-width="0.4"/>
<line x1="23.5" y1="305.3" x2="31.3" y2="311" stroke="#555" stroke-width="0.32"/>
<line x1="23.5" y1="311" x2="31.3" y2="305.3" stroke="#555" stroke-width="0.32"/>
<rect x="31.3" y="305.3" width="8.1" height="5.7" fill="#fff" stroke="#555" stroke-width="0.4"/>
<line x1="31.3" y1="305.3" x2="39.4" y2="311" stroke="#555" stroke-width="0.32"/>
<line x1="31.3" y1="311" x2="39.4" y2="305.3" stroke="#555" stroke-width="0.32"/>
<rect x="41" y="304.5" width="6.5" height="6.5" fill="#fff" stroke="#666" stroke-width="0.4"/>
<polygon points="50,310.8 63,306.2 66.5,306.2 66.5,311" fill="#fff" stroke="#333" stroke-width="0.4"/>
<polygon points="52,311 62,308 62,311" fill="#222"/>
</g>
<g id="p30_left_rooms_a">
<rect x="148.4" y="124.6" width="53.3" height="18.6" fill="#e8e8e8"/>
<line x1="148.4" y1="143.2" x2="201.7" y2="143.2" stroke="#aaa" stroke-width="0.4"/>
<rect x="161.4" y="130.6" width="7.2" height="7" fill="#fff" stroke="#444" stroke-width="0.6" rx="1"/>
<rect x="172" y="131.4" width="6.3" height="5.9" fill="#fff" stroke="#444" stroke-width="0.6" rx="1.2"/>
<rect x="182.2" y="130.6" width="7.4" height="7" fill="#fff" stroke="#444" stroke-width="0.6" rx="1"/>
<line x1="175.4" y1="140.6" x2="175.4" y2="149.7" stroke="#666" stroke-width="0.4"/>
<polygon points="174.4,142 175.4,140.2 176.4,142" fill="#666"/>
<rect x="145.2" y="154.3" width="35.1" height="25.9" fill="#fff" stroke="#333" stroke-width="0.9"/>
<rect x="146.8" y="155.6" width="32.2" height="23.4" fill="none" stroke="#999" stroke-width="0.3"/>
<line x1="159.5" y1="155" x2="159.5" y2="179.5" stroke="#999" stroke-width="0.4"/>
<rect x="145" y="152.3" width="4.5" height="2" fill="#fff" stroke="#444" stroke-width="0.4"/>
<rect x="145" y="180.2" width="4.5" height="2" fill="#fff" stroke="#444" stroke-width="0.4"/>
<circle cx="148.1" cy="149" r="3.2" fill="#f7efae" stroke="#cbbf66" stroke-width="0.3"/>
<circle cx="148.1" cy="149" r="1.98" fill="#f2e277"/>
<circle cx="148.1" cy="186.7" r="3.2" fill="#f7efae" stroke="#cbbf66" stroke-width="0.3"/>
<circle cx="148.1" cy="186.7" r="1.98" fill="#f2e277"/>
<text x="186.5" y="169.5" font-size="3.6" fill="#222" font-weight="bold">次卧</text>
<rect x="144.6" y="193.2" width="33.7" height="7.2" fill="#fff" stroke="#555" stroke-width="0.4"/>
<line x1="147" y1="194.5" x2="147" y2="199" stroke="#aaa" stroke-width="0.35"/>
<line x1="149.2" y1="194.5" x2="149.2" y2="199" stroke="#aaa" stroke-width="0.35"/>
<line x1="151.4" y1="194.5" x2="151.4" y2="199" stroke="#aaa" stroke-width="0.35"/>
<line x1="153.6" y1="194.5" x2="153.6" y2="199" stroke="#aaa" stroke-width="0.35"/>
<line x1="155.8" y1="194.5" x2="155.8" y2="199" stroke="#aaa" stroke-width="0.35"/>
<line x1="158" y1="194.5" x2="158" y2="199" stroke="#aaa" stroke-width="0.35"/>
<line x1="160.2" y1="194.5" x2="160.2" y2="199" stroke="#aaa" stroke-width="0.35"/>
<line x1="162.4" y1="194.5" x2="162.4" y2="199" stroke="#aaa" stroke-width="0.35"/>
<line x1="164.6" y1="194.5" x2="164.6" y2="199" stroke="#aaa" stroke-width="0.35"/>
<line x1="166.8" y1="194.5" x2="166.8" y2="199" stroke="#aaa" stroke-width="0.35"/>
<line x1="169" y1="194.5" x2="169" y2="199" stroke="#aaa" stroke-width="0.35"/>
<line x1="171.2" y1="194.5" x2="171.2" y2="199" stroke="#aaa" stroke-width="0.35"/>
<line x1="173.4" y1="194.5" x2="173.4" y2="199" stroke="#aaa" stroke-width="0.35"/>
<line x1="175.6" y1="194.5" x2="175.6" y2="199" stroke="#aaa" stroke-width="0.35"/>
<line x1="146" y1="196.8" x2="177" y2="196.8" stroke="#999" stroke-width="0.3"/>
<rect x="144.6" y="200.4" width="36.9" height="1.9" fill="#3c3c3c"/>
<rect x="178.3" y="192" width="3.9" height="15" fill="#3c3c3c"/>
<path d="M 182 192 A 13 13 0 0 1 195 179" fill="none" stroke="#666" stroke-width="0.4"/>
<rect x="144.6" y="202.3" width="4.4" height="21.7" fill="#f2f2f2"/>
<rect x="149" y="205" width="8.5" height="22" fill="#fff" stroke="#555" stroke-width="0.5"/>
<rect x="151.7" y="212" width="4.5" height="8.5" fill="#c5dcea" stroke="#7f9db0" stroke-width="0.4"/>
<circle cx="146.6" cy="206" r="0.7" fill="none" stroke="#555" stroke-width="0.3"/>
<circle cx="146.6" cy="207.9" r="0.7" fill="none" stroke="#555" stroke-width="0.3"/>
<circle cx="146.6" cy="209.8" r="0.7" fill="none" stroke="#555" stroke-width="0.3"/>
<circle cx="146.6" cy="211.7" r="0.7" fill="none" stroke="#555" stroke-width="0.3"/>
<path d="M 181.5 219.2 A 15.5 14 0 0 1 166 206.8" fill="none" stroke="#666" stroke-width="0.4"/>
<rect x="178.3" y="219.2" width="3.2" height="30.8" fill="#3c3c3c"/>
<rect x="178.3" y="204.5" width="3.5" height="2.8" fill="#3c3c3c"/>
<rect x="150.4" y="233" width="2.6" height="6.2" fill="#fff" stroke="#444" stroke-width="0.4"/>
<path d="M 153 233 L 157 233 A 3.1 3.1 0 0 1 157 239.2 L 153 239.2 Z" fill="#fff" stroke="#444" stroke-width="0.5"/>
<rect x="141" y="232" width="8" height="9" fill="#fff" stroke="#555" stroke-width="0.4"/>
<rect x="141.5" y="233" width="3.5" height="4" fill="#fff" stroke="#333" stroke-width="0.5"/>
<text x="163.5" y="233" font-size="3.4" fill="#222" font-weight="bold">公卫</text>
<line x1="149" y1="242.6" x2="178.3" y2="242.6" stroke="#999" stroke-width="0.4"/>
<text x="206.5" y="211.5" font-size="3.4" fill="#222" font-weight="bold">过厅</text>
<rect x="181.5" y="222.5" width="3.3" height="3.2" fill="#3c3c3c"/>
<rect x="197.2" y="223" width="10.4" height="2" fill="#3c3c3c"/>
<path d="M 184.5 240 A 13 13 0 0 0 197.2 226" fill="none" stroke="#666" stroke-width="0.4"/>
<line x1="184.5" y1="226" x2="184.5" y2="240" stroke="#666" stroke-width="0.4"/>
<rect x="197.8" y="225.7" width="9.2" height="36.3" fill="#fff" stroke="#555" stroke-width="0.5"/>
<rect x="199.3" y="231" width="6.3" height="7.5" fill="#fff" stroke="#777" stroke-width="0.5" rx="1.5"/>
<rect x="199" y="249" width="7" height="7.5" fill="#fff" stroke="#666" stroke-width="0.4"/>
<line x1="199" y1="249" x2="206" y2="256.5" stroke="#666" stroke-width="0.32"/>
<line x1="199" y1="256.5" x2="206" y2="249" stroke="#666" stroke-width="0.32"/>
<rect x="196.5" y="256.5" width="11.1" height="2" fill="#3c3c3c"/>
<path d="M 184.8 270.5 A 13 13 0 0 0 197 258.5" fill="none" stroke="#666" stroke-width="0.4"/>
<text x="186.4" y="243" font-size="3" fill="#222" font-weight="bold">工作间</text>
<rect x="181" y="255" width="1.6" height="4" fill="#3c3c3c"/>
<text x="105" y="263.5" font-size="2.6" fill="#111" font-weight="bold" textLength="5" lengthAdjust="spacingAndGlyphs">强电</text>
<text x="121.5" y="263.5" font-size="2.6" fill="#111" font-weight="bold" textLength="6.5" lengthAdjust="spacingAndGlyphs">水管井</text>
<text x="138.8" y="263.5" font-size="2.6" fill="#111" font-weight="bold" textLength="6.5" lengthAdjust="spacingAndGlyphs">弱电间</text>
<text x="156" y="263.5" font-size="2.6" fill="#111" font-weight="bold" textLength="6.5" lengthAdjust="spacingAndGlyphs">弱电间</text>
<text x="171" y="263.5" font-size="2.6" fill="#111" font-weight="bold" textLength="5" lengthAdjust="spacingAndGlyphs">管井</text>
<path d="M 78.7 258 A 18 18 0 0 0 96.5 275.4" fill="none" stroke="#666" stroke-width="0.4"/>
<rect x="200.9" y="158.8" width="3.2" height="33.2" fill="#555"/>
<rect x="197.6" y="191.9" width="42.3" height="2.9" fill="#3c3c3c"/>
<rect x="236.9" y="124.4" width="3" height="68.6" fill="#5a5a5a"/>
<rect x="204.8" y="160" width="9.7" height="30" fill="#fff" stroke="#555" stroke-width="0.5"/>
<rect x="207.4" y="164" width="5.1" height="8.4" fill="#c5dcea" stroke="#7f9db0" stroke-width="0.4"/>
<line x1="214.5" y1="160" x2="214.5" y2="190" stroke="#777" stroke-width="0.4"/>
<rect x="204.5" y="186" width="6.5" height="5.8" fill="#fff" stroke="#333" stroke-width="0.5"/>
<line x1="205.2" y1="187.5" x2="210" y2="187.5" stroke="#222" stroke-width="0.8"/>
<path d="M 222.6 187 L 222.6 181 A 3.2 3.4 0 0 1 229 181 L 229 187 Z" fill="#fff" stroke="#444" stroke-width="0.5"/>
<rect x="222.6" y="186.5" width="6.4" height="2.1" fill="#fff" stroke="#444" stroke-width="0.4"/>
<circle cx="229.7" cy="191.2" r="0.9" fill="#fff" stroke="#444" stroke-width="0.3"/>
<circle cx="232.6" cy="191.2" r="0.9" fill="#fff" stroke="#444" stroke-width="0.3"/>
<circle cx="235.5" cy="191.2" r="0.9" fill="#fff" stroke="#444" stroke-width="0.3"/>
<text x="225" y="166.5" font-size="3.4" fill="#222" font-weight="bold">客卫</text>
<path d="M 224.5 143.5 A 12 12 0 0 0 236.5 155" fill="none" stroke="#666" stroke-width="0.4"/>
<path d="M 214 143.5 A 12 12 0 0 1 202.5 156" fill="none" stroke="#aaa" stroke-width="0.3"/>
<line x1="214.2" y1="134" x2="218.5" y2="134" stroke="#888" stroke-width="0.3"/>
<rect x="234.7" y="195" width="4.6" height="5" fill="#fff" stroke="#666" stroke-width="0.4"/>
<rect x="241.2" y="126.3" width="54.6" height="15.3" fill="#e6e6e6"/>
<path d="M 241.2 133 L 241.2 126.3 L 295.8 126.3 L 295.8 133" fill="none" stroke="#333" stroke-width="0.6"/>
<rect x="247" y="141.9" width="42.3" height="35.1" fill="#dcdcdc" stroke="#c2c2c2" stroke-width="0.4"/>
<line x1="240" y1="141.6" x2="297.7" y2="141.6" stroke="#c2c2c2" stroke-width="0.4"/>
<line x1="240" y1="177.6" x2="297.7" y2="177.6" stroke="#c8c8c8" stroke-width="0.4"/>
<line x1="268.5" y1="126.3" x2="268.5" y2="131" stroke="#555" stroke-width="0.4"/>
<line x1="268.5" y1="137.4" x2="268.5" y2="141.6" stroke="#555" stroke-width="0.4"/>
<rect x="265.6" y="130.9" width="6.1" height="6.5" fill="#fff" stroke="#555" stroke-width="0.5"/>
<rect x="260.4" y="145.2" width="15.2" height="30.2" fill="#fff" stroke="#333" stroke-width="0.7" rx="1.5"/>
<rect x="249.6" y="150.4" width="8.8" height="8.6" fill="#fff" stroke="#999" stroke-width="0.5"/>
<rect x="249.6" y="161.4" width="8.8" height="8.8" fill="#fff" stroke="#999" stroke-width="0.5"/>
<rect x="277.2" y="150.4" width="8.4" height="8.6" fill="#fff" stroke="#999" stroke-width="0.5"/>
<rect x="277.2" y="161.4" width="8.4" height="8.8" fill="#fff" stroke="#999" stroke-width="0.5"/>
<text x="265.2" y="162.2" font-size="3.4" fill="#222" font-weight="bold">茶室</text>
<ellipse cx="293.8" cy="142" rx="1.7" ry="4.4" fill="#fff" stroke="#444" stroke-width="0.5" transform="rotate(8 293.8 142)"/>
<ellipse cx="293.8" cy="151.5" rx="1.7" ry="4.4" fill="#fff" stroke="#444" stroke-width="0.5" transform="rotate(8 293.8 151.5)"/>
<ellipse cx="293.8" cy="168.5" rx="1.7" ry="4.4" fill="#fff" stroke="#444" stroke-width="0.5" transform="rotate(8 293.8 168.5)"/>
<ellipse cx="293.8" cy="178" rx="1.7" ry="4.4" fill="#fff" stroke="#444" stroke-width="0.5" transform="rotate(8 293.8 178)"/>
<rect x="297.7" y="143.2" width="2.7" height="53.2" fill="#5a5a5a"/>
<rect x="297.7" y="195.7" width="18.3" height="3.5" fill="#3c3c3c"/>
<rect x="240" y="192.3" width="57.7" height="3.6" fill="#999"/>
<rect x="240" y="193.8" width="57.7" height="2.1" fill="#c4c4c4"/>
<line x1="257.5" y1="192.9" x2="260" y2="192.9" stroke="#333" stroke-width="0.6"/>
<line x1="276" y1="192.9" x2="278.5" y2="192.9" stroke="#333" stroke-width="0.6"/>
<line x1="268.5" y1="177.6" x2="268.5" y2="192.5" stroke="#bbb" stroke-width="0.4"/>
<line x1="239.9" y1="194.8" x2="239.9" y2="222" stroke="#888" stroke-width="0.3"/>
<line x1="297.2" y1="199" x2="297.2" y2="222" stroke="#888" stroke-width="0.3"/>
<text x="272" y="211" font-size="3.4" fill="#222" font-weight="bold">玄关</text>
<rect x="234.7" y="218.5" width="72.1" height="4.8" fill="#fff" stroke="#333" stroke-width="0.5"/>
<line x1="241" y1="218.5" x2="241" y2="223.3" stroke="#555" stroke-width="0.4"/>
<line x1="255.5" y1="218.5" x2="255.5" y2="223.3" stroke="#555" stroke-width="0.4"/>
<line x1="269.5" y1="218.5" x2="269.5" y2="223.3" stroke="#555" stroke-width="0.4"/>
<line x1="283.5" y1="218.5" x2="283.5" y2="223.3" stroke="#555" stroke-width="0.4"/>
<line x1="297" y1="218.5" x2="297" y2="223.3" stroke="#555" stroke-width="0.4"/>
<rect x="311.5" y="124.4" width="43.5" height="11.6" fill="#fbfbfb"/>
<line x1="311.5" y1="136" x2="355" y2="136" stroke="#111" stroke-width="0.9"/>
<rect x="332.9" y="124.4" width="9.8" height="30.5" fill="#f4f4f4" stroke="#111" stroke-width="0.8"/>
<line x1="332.9" y1="136" x2="342.7" y2="136" stroke="#222" stroke-width="0.5"/>
<line x1="311.5" y1="124.4" x2="311.5" y2="136" stroke="#666" stroke-width="0.4"/>
<line x1="355" y1="124.4" x2="355" y2="136" stroke="#666" stroke-width="0.4"/>
<path d="M 313 137 A 19 19 0 0 0 332 156" fill="none" stroke="#c8c8c8" stroke-width="0.4"/>
<rect x="302.4" y="143.2" width="9.1" height="52.2" fill="#fff" stroke="#555" stroke-width="0.5"/>
<rect x="297.8" y="143.2" width="3.2" height="52.8" fill="#5a5a5a"/>
<circle cx="306.2" cy="155.7" r="2.3" fill="#eee" stroke="#777" stroke-width="0.4"/>
<circle cx="306.2" cy="155.7" r="1" fill="#bbb" stroke="#666" stroke-width="0.3"/>
<circle cx="306.2" cy="167.5" r="2.3" fill="#eee" stroke="#777" stroke-width="0.4"/>
<circle cx="306.2" cy="167.5" r="1" fill="#bbb" stroke="#666" stroke-width="0.3"/>
<line x1="302.4" y1="161.6" x2="311.5" y2="161.6" stroke="#777" stroke-width="0.4"/>
<line x1="302.4" y1="173.5" x2="311.5" y2="173.5" stroke="#777" stroke-width="0.4"/>
<line x1="302.4" y1="181" x2="311.5" y2="181" stroke="#777" stroke-width="0.4"/>
<rect x="303" y="186.5" width="7" height="7" fill="#fff" stroke="#333" stroke-width="0.5"/>
<rect x="357" y="143.2" width="9.7" height="39.2" fill="#fff" stroke="#555" stroke-width="0.5"/>
<rect x="357.8" y="157.5" width="7" height="11.7" fill="#c5dcea" stroke="#7f9db0" stroke-width="0.4"/>
<line x1="357" y1="172.5" x2="366.7" y2="172.5" stroke="#777" stroke-width="0.4"/>
<rect x="358" y="174" width="7.5" height="7" fill="#fff" stroke="#888" stroke-width="0.3"/>
<line x1="358" y1="174" x2="365.5" y2="181" stroke="#888" stroke-width="0.24"/>
<line x1="358" y1="181" x2="365.5" y2="174" stroke="#888" stroke-width="0.24"/>
<line x1="366.7" y1="143" x2="366.7" y2="182.4" stroke="#555" stroke-width="0.5"/>
<rect x="340.4" y="182.4" width="10.1" height="13" fill="#fff" stroke="#333" stroke-width="0.6"/>
<rect x="342.5" y="185" width="6" height="7" fill="#fff" stroke="#777" stroke-width="0.4"/>
<rect x="339.4" y="195.4" width="11.6" height="3.9" fill="#3c3c3c"/>
<rect x="316" y="196.4" width="5" height="2" fill="#888"/>
<rect x="334" y="196.4" width="5.4" height="2" fill="#888"/>
<text x="331" y="160.3" font-size="3.2" fill="#222" font-weight="bold" textLength="13" lengthAdjust="spacingAndGlyphs">家政平台</text>
<text x="326.5" y="174.4" font-size="3.4" fill="#222" font-weight="bold">中厨</text>
<rect x="307.7" y="218.8" width="9.7" height="37.5" fill="#fff" stroke="#444" stroke-width="0.6"/>
<line x1="308.5" y1="220.3" x2="316.6" y2="220.3" stroke="#333" stroke-width="0.6"/>
<rect x="307.7" y="257.7" width="9.7" height="9.3" fill="#fff" stroke="#555" stroke-width="0.4"/>
<text x="309.2" y="263.6" font-size="2.4" fill="#333">冰箱</text>
<rect x="334.3" y="217.9" width="12.4" height="39.5" fill="#fff" stroke="#444" stroke-width="0.6"/>
<circle cx="340.7" cy="223.3" r="2.2" fill="#cfe3ee" stroke="#4d7fa0" stroke-width="0.5"/>
<circle cx="340.7" cy="223.3" r="1" fill="#fff" stroke="#4d7fa0" stroke-width="0.3"/>
<line x1="342.3" y1="231" x2="342.3" y2="256" stroke="#999" stroke-width="0.35"/>
<rect x="346.7" y="234.3" width="3.6" height="8.7" fill="#fff" stroke="#888" stroke-width="0.4"/>
<rect x="346.7" y="245" width="3.6" height="8" fill="#fff" stroke="#888" stroke-width="0.4"/>
<text x="322.2" y="240.4" font-size="3.4" fill="#222" font-weight="bold">西厨</text>
<text x="367" y="240.4" font-size="3.4" fill="#222" font-weight="bold">餐厅</text>
<rect x="385.3" y="191.7" width="34.3" height="8" fill="#fff" stroke="#444" stroke-width="0.6"/>
<circle cx="402.3" cy="234.6" r="26" fill="#c2c2c2" stroke="#b0b0b0" stroke-width="0.4"/>
<rect x="398.70" y="210.80" width="7.2" height="6.4" fill="#fff" stroke="#888" stroke-width="0.4" transform="rotate(0 402.30 214.00)"/>
<rect x="410.81" y="214.73" width="7.2" height="6.4" fill="#fff" stroke="#888" stroke-width="0.4" transform="rotate(36 414.41 217.93)"/>
<rect x="418.29" y="225.03" width="7.2" height="6.4" fill="#fff" stroke="#888" stroke-width="0.4" transform="rotate(72 421.89 228.23)"/>
<rect x="418.29" y="237.77" width="7.2" height="6.4" fill="#fff" stroke="#888" stroke-width="0.4" transform="rotate(108 421.89 240.97)"/>
<rect x="410.81" y="248.07" width="7.2" height="6.4" fill="#fff" stroke="#888" stroke-width="0.4" transform="rotate(144 414.41 251.27)"/>
<rect x="398.70" y="252.00" width="7.2" height="6.4" fill="#fff" stroke="#888" stroke-width="0.4" transform="rotate(180 402.30 255.20)"/>
<rect x="386.59" y="248.07" width="7.2" height="6.4" fill="#fff" stroke="#888" stroke-width="0.4" transform="rotate(216 390.19 251.27)"/>
<rect x="379.11" y="237.77" width="7.2" height="6.4" fill="#fff" stroke="#888" stroke-width="0.4" transform="rotate(252 382.71 240.97)"/>
<rect x="379.11" y="225.03" width="7.2" height="6.4" fill="#fff" stroke="#888" stroke-width="0.4" transform="rotate(288 382.71 228.23)"/>
<rect x="386.59" y="214.73" width="7.2" height="6.4" fill="#fff" stroke="#888" stroke-width="0.4" transform="rotate(324 390.19 217.93)"/>
<circle cx="402.3" cy="234.6" r="14.2" fill="#fff" stroke="#333" stroke-width="0.9"/>
<circle cx="402.3" cy="234.6" r="5.5" fill="none" stroke="#ccc" stroke-width="0.4"/>
<circle cx="402.3" cy="234.6" r="2.6" fill="none" stroke="#666" stroke-width="0.4"/>
<line x1="398.7" y1="234.6" x2="405.9" y2="234.6" stroke="#666" stroke-width="0.35"/>
<line x1="402.3" y1="231" x2="402.3" y2="238.2" stroke="#666" stroke-width="0.35"/>
<rect x="307.7" y="268.3" width="9.3" height="7.3" fill="#777" stroke="#333" stroke-width="0.4"/>
<rect x="319" y="268.3" width="8" height="7.3" fill="#fff" stroke="#777" stroke-width="0.4"/>
<line x1="319" y1="268.3" x2="327" y2="275.6" stroke="#777" stroke-width="0.32"/>
<line x1="319" y1="275.6" x2="327" y2="268.3" stroke="#777" stroke-width="0.32"/>
<rect x="328.3" y="268.3" width="8.3" height="7.3" fill="#fff" stroke="#777" stroke-width="0.4"/>
<line x1="328.3" y1="268.3" x2="336.6" y2="275.6" stroke="#777" stroke-width="0.32"/>
<line x1="328.3" y1="275.6" x2="336.6" y2="268.3" stroke="#777" stroke-width="0.32"/>
<rect x="338" y="268.3" width="8.3" height="7.3" fill="#fff" stroke="#777" stroke-width="0.4"/>
<line x1="338" y1="268.3" x2="346.3" y2="275.6" stroke="#777" stroke-width="0.32"/>
<line x1="338" y1="275.6" x2="346.3" y2="268.3" stroke="#777" stroke-width="0.32"/>
<rect x="317" y="268.3" width="2" height="7.3" fill="#333"/>
<rect x="327" y="268.3" width="1.3" height="7.3" fill="#333"/>
<rect x="336.6" y="268.3" width="1.4" height="7.3" fill="#333"/>
<rect x="346.3" y="268.3" width="7.4" height="7.3" fill="#777" stroke="#333" stroke-width="0.4"/>
<rect x="353.7" y="268.3" width="2.9" height="7.3" fill="#fff" stroke="#222" stroke-width="0.6"/>
<line x1="353.7" y1="271.95" x2="356.6" y2="271.95" stroke="#222" stroke-width="0.6"/>
<rect x="385.7" y="268.3" width="2.9" height="7.3" fill="#fff" stroke="#222" stroke-width="0.6"/>
<line x1="385.7" y1="271.95" x2="388.6" y2="271.95" stroke="#222" stroke-width="0.6"/>
<rect x="388.6" y="268.3" width="6.6" height="7.3" fill="#777" stroke="#333" stroke-width="0.4"/>
<rect x="396.3" y="268.3" width="8.2" height="7.3" fill="#fff" stroke="#777" stroke-width="0.4"/>
<line x1="396.3" y1="268.3" x2="404.5" y2="275.6" stroke="#777" stroke-width="0.32"/>
<line x1="396.3" y1="275.6" x2="404.5" y2="268.3" stroke="#777" stroke-width="0.32"/>
<rect x="406" y="268.3" width="8.3" height="7.3" fill="#fff" stroke="#777" stroke-width="0.4"/>
<line x1="406" y1="268.3" x2="414.3" y2="275.6" stroke="#777" stroke-width="0.32"/>
<line x1="406" y1="275.6" x2="414.3" y2="268.3" stroke="#777" stroke-width="0.32"/>
<rect x="415.8" y="268.3" width="8.5" height="7.3" fill="#fff" stroke="#777" stroke-width="0.4"/>
<line x1="415.8" y1="268.3" x2="424.3" y2="275.6" stroke="#777" stroke-width="0.32"/>
<line x1="415.8" y1="275.6" x2="424.3" y2="268.3" stroke="#777" stroke-width="0.32"/>
<rect x="404.5" y="268.3" width="1.5" height="7.3" fill="#333"/>
<rect x="414.3" y="268.3" width="1.5" height="7.3" fill="#333"/>
<rect x="425.2" y="268.3" width="9.3" height="7.3" fill="#777" stroke="#333" stroke-width="0.4"/>
<rect x="307.7" y="306.3" width="9.3" height="7.3" fill="#777" stroke="#333" stroke-width="0.4"/>
<rect x="319" y="306.3" width="8" height="7.3" fill="#fff" stroke="#777" stroke-width="0.4"/>
<line x1="319" y1="306.3" x2="327" y2="313.6" stroke="#777" stroke-width="0.32"/>
<line x1="319" y1="313.6" x2="327" y2="306.3" stroke="#777" stroke-width="0.32"/>
<rect x="328.3" y="306.3" width="8.3" height="7.3" fill="#fff" stroke="#777" stroke-width="0.4"/>
<line x1="328.3" y1="306.3" x2="336.6" y2="313.6" stroke="#777" stroke-width="0.32"/>
<line x1="328.3" y1="313.6" x2="336.6" y2="306.3" stroke="#777" stroke-width="0.32"/>
<rect x="338" y="306.3" width="8.3" height="7.3" fill="#fff" stroke="#777" stroke-width="0.4"/>
<line x1="338" y1="306.3" x2="346.3" y2="313.6" stroke="#777" stroke-width="0.32"/>
<line x1="338" y1="313.6" x2="346.3" y2="306.3" stroke="#777" stroke-width="0.32"/>
<rect x="317" y="306.3" width="2" height="7.3" fill="#333"/>
<rect x="327" y="306.3" width="1.3" height="7.3" fill="#333"/>
<rect x="336.6" y="306.3" width="1.4" height="7.3" fill="#333"/>
<rect x="346.3" y="306.3" width="7.4" height="7.3" fill="#777" stroke="#333" stroke-width="0.4"/>
<rect x="353.7" y="306.3" width="2.9" height="7.3" fill="#fff" stroke="#222" stroke-width="0.6"/>
<line x1="353.7" y1="309.95" x2="356.6" y2="309.95" stroke="#222" stroke-width="0.6"/>
<rect x="385.7" y="306.3" width="2.9" height="7.3" fill="#fff" stroke="#222" stroke-width="0.6"/>
<line x1="385.7" y1="309.95" x2="388.6" y2="309.95" stroke="#222" stroke-width="0.6"/>
<rect x="388.6" y="306.3" width="6.6" height="7.3" fill="#777" stroke="#333" stroke-width="0.4"/>
<rect x="396.3" y="306.3" width="8.2" height="7.3" fill="#fff" stroke="#777" stroke-width="0.4"/>
<line x1="396.3" y1="306.3" x2="404.5" y2="313.6" stroke="#777" stroke-width="0.32"/>
<line x1="396.3" y1="313.6" x2="404.5" y2="306.3" stroke="#777" stroke-width="0.32"/>
<rect x="406" y="306.3" width="8.3" height="7.3" fill="#fff" stroke="#777" stroke-width="0.4"/>
<line x1="406" y1="306.3" x2="414.3" y2="313.6" stroke="#777" stroke-width="0.32"/>
<line x1="406" y1="313.6" x2="414.3" y2="306.3" stroke="#777" stroke-width="0.32"/>
<rect x="415.8" y="306.3" width="8.5" height="7.3" fill="#fff" stroke="#777" stroke-width="0.4"/>
<line x1="415.8" y1="306.3" x2="424.3" y2="313.6" stroke="#777" stroke-width="0.32"/>
<line x1="415.8" y1="313.6" x2="424.3" y2="306.3" stroke="#777" stroke-width="0.32"/>
<rect x="404.5" y="306.3" width="1.5" height="7.3" fill="#333"/>
<rect x="414.3" y="306.3" width="1.5" height="7.3" fill="#333"/>
<rect x="425.2" y="306.3" width="9.3" height="7.3" fill="#777" stroke="#333" stroke-width="0.4"/>
<text x="364.3" y="292.3" font-size="3.4" fill="#222" font-weight="bold">门厅</text>
<text x="418" y="294" font-size="3" fill="#223" font-weight="bold">水景</text>
<text x="231.5" y="293.5" font-size="3.2" fill="#222" font-weight="bold">电梯厅</text>
<text x="234.5" y="301.5" font-size="2.2" fill="#555">前厅</text>
<path d="M 307 279 A 11 11 0 0 0 296.5 290" fill="none" stroke="#666" stroke-width="0.4"/>
<path d="M 307 302.5 A 11 11 0 0 1 296.5 291.5" fill="none" stroke="#666" stroke-width="0.4"/>
<text x="89" y="295" font-size="2.6" fill="#333" transform="translate(-66 0)">走廊</text>
<text x="99" y="343" font-size="3.2" fill="#222" font-weight="bold">前室</text>
<path d="M 81.6 314.5 A 15.5 15.5 0 0 0 97 299" fill="none" stroke="#555" stroke-width="0.4"/>
<path d="M 65.5 355.5 A 13 13 0 0 1 78 338" fill="none" stroke="#555" stroke-width="0.4"/>
<polygon points="109,355 122,351.5 123,353.5 111,356.2" fill="#fff" stroke="#222" stroke-width="0.5"/>
<path d="M 179 300 A 16 16 0 0 0 195.5 314.5" fill="none" stroke="#555" stroke-width="0.4"/>
<path d="M 199 338 A 13 13 0 0 1 212 355.5" fill="none" stroke="#555" stroke-width="0.4"/>
<text x="225" y="328" font-size="2.6" fill="#555">下</text>
<text x="225" y="348" font-size="2.6" fill="#555">上</text>
<text x="51" y="327" font-size="2.6" fill="#555">下</text>
<text x="51" y="348.5" font-size="2.6" fill="#555">上</text>
</g>
<g id="p31_left_rooms_b">
<rect x="308.3" y="315" width="8" height="10.5" fill="#fafafa"/>
<rect x="307" y="325.5" width="5.8" height="70.5" fill="#d6d6d6" stroke="#aaa" stroke-width="0.4"/>
<rect x="309.5" y="342" width="2" height="30" fill="#eee" stroke="#999" stroke-width="0.3"/>
<rect x="386.5" y="316.8" width="10.7" height="12.2" fill="#fff" stroke="#333" stroke-width="0.8" rx="1.5"/>
<rect x="387.8" y="319.5" width="8.1" height="9.5" fill="none" stroke="#777" stroke-width="0.4" rx="1"/>
<rect x="409.2" y="316.8" width="11.2" height="12.2" fill="#fff" stroke="#333" stroke-width="0.8" rx="1.5"/>
<rect x="410.5" y="319.5" width="8.6" height="9.5" fill="none" stroke="#777" stroke-width="0.4" rx="1"/>
<circle cx="403.1" cy="323.2" r="3.5" fill="#fff" stroke="#444" stroke-width="0.5"/>
<circle cx="433.4" cy="329.6" r="4" fill="#f7efae" stroke="#cbbf66" stroke-width="0.3"/>
<circle cx="433.4" cy="329.6" r="2.48" fill="#f2e277"/>
<rect x="425.8" y="335.3" width="14.8" height="39.3" fill="#fff" stroke="#444" stroke-width="0.7" rx="1.5"/>
<line x1="437.5" y1="336" x2="437.5" y2="374" stroke="#777" stroke-width="0.4"/>
<rect x="434.7" y="374.6" width="6.3" height="6.2" fill="#f0de6e" stroke="#d9c95a" stroke-width="0.3"/>
<rect x="402.6" y="380.8" width="37.4" height="14.2" fill="#fff" stroke="#444" stroke-width="0.7" rx="1"/>
<line x1="403" y1="392.3" x2="439.5" y2="392.3" stroke="#777" stroke-width="0.4"/>
<rect x="360.3" y="339.8" width="22.1" height="30.8" fill="#fff" stroke="#444" stroke-width="0.7" rx="1"/>
<rect x="369.2" y="347.8" width="4.3" height="14.6" fill="#fff" stroke="#444" stroke-width="0.6"/>
<rect x="370.4" y="349" width="1.9" height="12.2" fill="none" stroke="#777" stroke-width="0.3"/>
<path d="M 394.5 344.6 L 416.8 344.6 L 416.8 366.5 L 403.5 366.5 L 403.5 363.8 L 399.5 363.8 L 399.5 366.5 L 394.5 366.5 Z" fill="#fff" stroke="#444" stroke-width="0.7"/>
<text x="400.5" y="355.5" font-size="3.2" fill="#222" font-weight="bold">客厅</text>
<ellipse cx="337.8" cy="354.6" rx="6.6" ry="8.9" fill="#fff" stroke="#444" stroke-width="0.6"/>
<g transform="rotate(-45 329.40 337.10)"><rect x="323.65" y="331.60" width="11.50" height="11.00" rx="1" fill="#fff" stroke="#444" stroke-width="0.6"/><rect x="324.85" y="332.80" width="9.10" height="7.60" fill="none" stroke="#777" stroke-width="0.4"/></g>
<g transform="rotate(-135 329.40 371.90)"><rect x="323.65" y="366.40" width="11.50" height="11.00" rx="1" fill="#fff" stroke="#444" stroke-width="0.6"/><rect x="324.85" y="367.60" width="9.10" height="7.60" fill="none" stroke="#777" stroke-width="0.4"/></g>
<circle cx="374.9" cy="381.3" r="3.5" fill="#fff" stroke="#444" stroke-width="0.5"/>
<circle cx="386" cy="388.8" r="3.5" fill="#fff" stroke="#444" stroke-width="0.5"/>
<circle cx="323.2" cy="383.5" r="2.3" fill="#f1e9a0"/>
<rect x="146" y="364.7" width="21.3" height="36.6" fill="#e6e6e6"/>
<rect x="146" y="370.7" width="5.3" height="5.9" fill="#fff" stroke="#777" stroke-width="0.35"/>
<line x1="146" y1="370.7" x2="151.3" y2="376.6" stroke="#777" stroke-width="0.28"/>
<line x1="146" y1="376.6" x2="151.3" y2="370.7" stroke="#777" stroke-width="0.28"/>
<rect x="146" y="377.1" width="5.3" height="5.9" fill="#fff" stroke="#777" stroke-width="0.35"/>
<line x1="146" y1="377.1" x2="151.3" y2="383" stroke="#777" stroke-width="0.28"/>
<line x1="146" y1="383" x2="151.3" y2="377.1" stroke="#777" stroke-width="0.28"/>
<rect x="146" y="383.5" width="5.3" height="5.9" fill="#fff" stroke="#777" stroke-width="0.35"/>
<line x1="146" y1="383.5" x2="151.3" y2="389.4" stroke="#777" stroke-width="0.28"/>
<line x1="146" y1="389.4" x2="151.3" y2="383.5" stroke="#777" stroke-width="0.28"/>
<rect x="146" y="389.9" width="5.3" height="5.9" fill="#fff" stroke="#777" stroke-width="0.35"/>
<line x1="146" y1="389.9" x2="151.3" y2="395.8" stroke="#777" stroke-width="0.28"/>
<line x1="146" y1="395.8" x2="151.3" y2="389.9" stroke="#777" stroke-width="0.28"/>
<rect x="152" y="365.3" width="6.5" height="4.7" fill="#fff" stroke="#777" stroke-width="0.35"/>
<line x1="152" y1="365.3" x2="158.5" y2="370" stroke="#777" stroke-width="0.28"/>
<line x1="152" y1="370" x2="158.5" y2="365.3" stroke="#777" stroke-width="0.28"/>
<rect x="159" y="365.3" width="7.5" height="4.7" fill="#fff" stroke="#777" stroke-width="0.35"/>
<line x1="159" y1="365.3" x2="166.5" y2="370" stroke="#777" stroke-width="0.28"/>
<line x1="159" y1="370" x2="166.5" y2="365.3" stroke="#777" stroke-width="0.28"/>
<rect x="146" y="364.7" width="5.3" height="5.8" fill="#fff" stroke="#777" stroke-width="0.35"/>
<rect x="167.3" y="364.7" width="2.3" height="36.6" fill="#555"/>
<line x1="152" y1="370.2" x2="167" y2="370.2" stroke="#777" stroke-width="0.4"/>
<line x1="151.5" y1="370" x2="151.5" y2="397" stroke="#777" stroke-width="0.4"/>
<path d="M 155 377 A 12 12 0 0 0 167 389" fill="none" stroke="#aaa" stroke-width="0.3"/>
<text x="155.5" y="388" font-size="3.2" fill="#222" font-weight="bold">储藏</text>
<rect x="146" y="397.3" width="5.3" height="4" fill="#fff" stroke="#444" stroke-width="0.4"/>
<circle cx="154" cy="400.2" r="0.8" fill="#fff" stroke="#444" stroke-width="0.3"/>
<circle cx="156.2" cy="400.2" r="0.8" fill="#fff" stroke="#444" stroke-width="0.3"/>
<circle cx="158.4" cy="400.2" r="0.8" fill="#fff" stroke="#444" stroke-width="0.3"/>
<rect x="169.6" y="365.3" width="36.7" height="8" fill="#fff" stroke="#444" stroke-width="0.5"/>
<line x1="171.1" y1="369.3" x2="204.8" y2="369.3" stroke="#aaa" stroke-width="0.3"/>
<line x1="171.6" y1="367.1" x2="171.6" y2="371.5" stroke="#b5b5b5" stroke-width="0.35"/>
<line x1="173.7" y1="367.1" x2="173.7" y2="371.5" stroke="#b5b5b5" stroke-width="0.35"/>
<line x1="177.9" y1="367.1" x2="177.9" y2="371.5" stroke="#b5b5b5" stroke-width="0.35"/>
<line x1="180" y1="367.1" x2="180" y2="371.5" stroke="#b5b5b5" stroke-width="0.35"/>
<line x1="184.2" y1="367.1" x2="184.2" y2="371.5" stroke="#b5b5b5" stroke-width="0.35"/>
<line x1="186.3" y1="367.1" x2="186.3" y2="371.5" stroke="#b5b5b5" stroke-width="0.35"/>
<line x1="190.5" y1="367.1" x2="190.5" y2="371.5" stroke="#b5b5b5" stroke-width="0.35"/>
<line x1="192.6" y1="367.1" x2="192.6" y2="371.5" stroke="#b5b5b5" stroke-width="0.35"/>
<line x1="196.8" y1="367.1" x2="196.8" y2="371.5" stroke="#b5b5b5" stroke-width="0.35"/>
<line x1="198.9" y1="367.1" x2="198.9" y2="371.5" stroke="#b5b5b5" stroke-width="0.35"/>
<line x1="203.1" y1="367.1" x2="203.1" y2="371.5" stroke="#b5b5b5" stroke-width="0.35"/>
<rect x="206.3" y="365.3" width="51" height="8" fill="#fff" stroke="#444" stroke-width="0.5"/>
<line x1="207.8" y1="369.3" x2="255.8" y2="369.3" stroke="#aaa" stroke-width="0.3"/>
<line x1="208.3" y1="367.1" x2="208.3" y2="371.5" stroke="#b5b5b5" stroke-width="0.35"/>
<line x1="210.4" y1="367.1" x2="210.4" y2="371.5" stroke="#b5b5b5" stroke-width="0.35"/>
<line x1="214.6" y1="367.1" x2="214.6" y2="371.5" stroke="#b5b5b5" stroke-width="0.35"/>
<line x1="216.7" y1="367.1" x2="216.7" y2="371.5" stroke="#b5b5b5" stroke-width="0.35"/>
<line x1="220.9" y1="367.1" x2="220.9" y2="371.5" stroke="#b5b5b5" stroke-width="0.35"/>
<line x1="223" y1="367.1" x2="223" y2="371.5" stroke="#b5b5b5" stroke-width="0.35"/>
<line x1="227.2" y1="367.1" x2="227.2" y2="371.5" stroke="#b5b5b5" stroke-width="0.35"/>
<line x1="229.3" y1="367.1" x2="229.3" y2="371.5" stroke="#b5b5b5" stroke-width="0.35"/>
<line x1="233.5" y1="367.1" x2="233.5" y2="371.5" stroke="#b5b5b5" stroke-width="0.35"/>
<line x1="235.6" y1="367.1" x2="235.6" y2="371.5" stroke="#b5b5b5" stroke-width="0.35"/>
<line x1="239.8" y1="367.1" x2="239.8" y2="371.5" stroke="#b5b5b5" stroke-width="0.35"/>
<line x1="241.9" y1="367.1" x2="241.9" y2="371.5" stroke="#b5b5b5" stroke-width="0.35"/>
<line x1="246.1" y1="367.1" x2="246.1" y2="371.5" stroke="#b5b5b5" stroke-width="0.35"/>
<line x1="248.2" y1="367.1" x2="248.2" y2="371.5" stroke="#b5b5b5" stroke-width="0.35"/>
<line x1="252.4" y1="367.1" x2="252.4" y2="371.5" stroke="#b5b5b5" stroke-width="0.35"/>
<rect x="169.6" y="393" width="36.7" height="8" fill="#fff" stroke="#444" stroke-width="0.5"/>
<line x1="171.1" y1="397" x2="204.8" y2="397" stroke="#aaa" stroke-width="0.3"/>
<line x1="171.6" y1="394.8" x2="171.6" y2="399.2" stroke="#b5b5b5" stroke-width="0.35"/>
<line x1="173.7" y1="394.8" x2="173.7" y2="399.2" stroke="#b5b5b5" stroke-width="0.35"/>
<line x1="177.9" y1="394.8" x2="177.9" y2="399.2" stroke="#b5b5b5" stroke-width="0.35"/>
<line x1="180" y1="394.8" x2="180" y2="399.2" stroke="#b5b5b5" stroke-width="0.35"/>
<line x1="184.2" y1="394.8" x2="184.2" y2="399.2" stroke="#b5b5b5" stroke-width="0.35"/>
<line x1="186.3" y1="394.8" x2="186.3" y2="399.2" stroke="#b5b5b5" stroke-width="0.35"/>
<line x1="190.5" y1="394.8" x2="190.5" y2="399.2" stroke="#b5b5b5" stroke-width="0.35"/>
<line x1="192.6" y1="394.8" x2="192.6" y2="399.2" stroke="#b5b5b5" stroke-width="0.35"/>
<line x1="196.8" y1="394.8" x2="196.8" y2="399.2" stroke="#b5b5b5" stroke-width="0.35"/>
<line x1="198.9" y1="394.8" x2="198.9" y2="399.2" stroke="#b5b5b5" stroke-width="0.35"/>
<line x1="203.1" y1="394.8" x2="203.1" y2="399.2" stroke="#b5b5b5" stroke-width="0.35"/>
<line x1="248.8" y1="373.3" x2="248.8" y2="392.7" stroke="#666" stroke-width="0.4"/>
<rect x="244.7" y="380" width="6" height="6.7" fill="#fff" stroke="#555" stroke-width="0.5" rx="1"/>
<text x="214" y="384.5" font-size="3.2" fill="#222" font-weight="bold">衣帽间</text>
<rect x="206.3" y="393" width="18.4" height="4.3" fill="#3c3c3c"/>
<rect x="242" y="393" width="16.7" height="4.3" fill="#3c3c3c"/>
<rect x="257" y="364.7" width="1.7" height="32.3" fill="#3c3c3c"/>
<line x1="226" y1="395.2" x2="230" y2="395.2" stroke="#333" stroke-width="0.5"/>
<line x1="236" y1="395.2" x2="241" y2="395.2" stroke="#333" stroke-width="0.5"/>
<rect x="206.3" y="393" width="3" height="35.7" fill="#3c3c3c"/>
<rect x="146" y="401.3" width="61" height="2.7" fill="#3c3c3c"/>
<rect x="146" y="404" width="60.3" height="23.3" fill="#e8e8e8"/>
<line x1="170.4" y1="404" x2="170.4" y2="427.3" stroke="#666" stroke-width="0.4"/>
<line x1="200" y1="404" x2="200" y2="427.3" stroke="#777" stroke-width="0.4"/>
<path d="M 202.7 411.3 L 196 411.3 A 4 4 0 0 0 196 419.3 L 202.7 419.3 Z" fill="#fff" stroke="#333" stroke-width="0.6"/>
<rect x="200.5" y="411.3" width="2.2" height="8" fill="#222"/>
<text x="156" y="410" font-size="3" fill="#222" font-weight="bold">淋浴</text>
<text x="179" y="411" font-size="3" fill="#222" font-weight="bold">马桶间</text>
<text x="156.5" y="417" font-size="1.8" fill="#666">3.08㎡</text>
<path d="M 152 418 A 12 12 0 0 1 164 406" fill="none" stroke="#bbb" stroke-width="0.3"/>
<line x1="146" y1="427.5" x2="160" y2="427.5" stroke="#333" stroke-width="0.6"/>
<line x1="165" y1="427.5" x2="177" y2="427.5" stroke="#333" stroke-width="0.6"/>
<line x1="182" y1="427.5" x2="190" y2="427.5" stroke="#333" stroke-width="0.6"/>
<rect x="186" y="425.3" width="38.7" height="5.4" fill="#3c3c3c"/>
<rect x="242" y="425.3" width="18" height="5.4" fill="#3c3c3c"/>
<rect x="186" y="428" width="5" height="4" fill="#3c3c3c"/>
<line x1="226" y1="428" x2="230" y2="428" stroke="#333" stroke-width="0.5"/>
<line x1="236" y1="428" x2="241" y2="428" stroke="#333" stroke-width="0.5"/>
<rect x="210" y="402" width="8" height="19.3" fill="#fff" stroke="#444" stroke-width="0.6" rx="1"/>
<rect x="209" y="407" width="1.6" height="10" fill="#ddd" stroke="#444" stroke-width="0.4"/>
<text x="232.5" y="414.5" font-size="3.2" fill="#222" font-weight="bold">门厅</text>
<path d="M 258 400.5 A 12.5 12.5 0 0 0 246.5 411.5 A 12.5 12.5 0 0 0 258 423" fill="none" stroke="#666" stroke-width="0.4"/>
<line x1="246.5" y1="411.5" x2="252" y2="411.5" stroke="#666" stroke-width="0.3"/>
<rect x="146" y="429.7" width="9.3" height="13.3" fill="#fff" stroke="#444" stroke-width="0.5"/>
<rect x="147.3" y="431.5" width="6.7" height="10" fill="#fff" stroke="#999" stroke-width="0.4"/>
<rect x="146" y="447.7" width="9.7" height="30.6" fill="#fff" stroke="#444" stroke-width="0.6"/>
<rect x="148.3" y="452.3" width="5.7" height="8" fill="#c5dcea" stroke="#7f9db0" stroke-width="0.4"/>
<rect x="148.3" y="466.3" width="5.7" height="8" fill="#c5dcea" stroke="#7f9db0" stroke-width="0.4"/>
<line x1="145.3" y1="445.5" x2="155.7" y2="445.5" stroke="#333" stroke-width="0.8"/>
<line x1="145.3" y1="480" x2="155.7" y2="480" stroke="#333" stroke-width="0.8"/>
<text x="160" y="432.5" font-size="1.9" fill="#555">主卧淋浴间</text>
<line x1="140" y1="463.7" x2="260" y2="463.7" stroke="#222" stroke-width="0.5" stroke-dasharray="2.2 0.8"/>
<text x="161.5" y="466.3" font-size="3.2" fill="#222" font-weight="bold">主卫</text>
<text x="198.5" y="466.3" font-size="3.2" fill="#222" font-weight="bold">主卧</text>
<rect x="151" y="485" width="27" height="12.7" fill="#cde0eb" stroke="#333" stroke-width="0.7" rx="6.3"/>
<circle cx="164.5" cy="491.3" r="0.5" fill="#222"/>
<line x1="149.5" y1="483" x2="149.5" y2="499" stroke="#999" stroke-width="0.3"/>
<rect x="186" y="445" width="5" height="33.3" fill="#666" stroke="#333" stroke-width="0.4"/>
<line x1="188.5" y1="445.5" x2="188.5" y2="478" stroke="#333" stroke-width="0.3" stroke-dasharray="0.6 0.6"/>
<line x1="188.5" y1="439" x2="188.5" y2="445" stroke="#333" stroke-width="0.4"/>
<line x1="188.5" y1="478.3" x2="188.5" y2="484" stroke="#333" stroke-width="0.4"/>
<rect x="179.3" y="452.3" width="6" height="19.4" fill="#fff" stroke="#444" stroke-width="0.5"/>
<rect x="186.7" y="492.3" width="4" height="9.4" fill="#ccc" stroke="#333" stroke-width="0.6"/>
<rect x="208" y="449.4" width="10" height="27.6" fill="#fff" stroke="#444" stroke-width="0.7" rx="2"/>
<rect x="219.3" y="447.7" width="36.7" height="32" fill="#fff" stroke="#333" stroke-width="1" rx="2.5"/>
<rect x="221" y="449.5" width="33.5" height="28.5" fill="none" stroke="#888" stroke-width="0.4" rx="1.5"/>
<line x1="238" y1="449.5" x2="238" y2="478" stroke="#888" stroke-width="0.4"/>
<rect x="248.7" y="436.3" width="7.3" height="10" fill="#f6efb0" stroke="#cfc56a" stroke-width="0.4"/>
<rect x="250.3" y="437.8" width="4.2" height="7" fill="#f0de6e"/>
<rect x="248.7" y="480.3" width="7.3" height="10" fill="#f6efb0" stroke="#cfc56a" stroke-width="0.4"/>
<rect x="250.3" y="481.8" width="4.2" height="7" fill="#f0de6e"/>
<rect x="257.3" y="430" width="3.4" height="52" fill="#555"/>
<rect x="257.7" y="364.7" width="2.3" height="32.3" fill="#3c3c3c"/>
<rect x="260" y="364.7" width="44.7" height="5.3" fill="#fff" stroke="#555" stroke-width="0.4"/>
<rect x="260.4" y="370" width="4.6" height="24" fill="#fff" stroke="#555" stroke-width="0.4"/>
<rect x="299.6" y="370" width="5.1" height="24.7" fill="#fff" stroke="#555" stroke-width="0.4"/>
<line x1="262.5" y1="364.7" x2="262.5" y2="370" stroke="#bbb" stroke-width="0.3"/>
<line x1="265" y1="364.7" x2="265" y2="370" stroke="#bbb" stroke-width="0.3"/>
<line x1="267.5" y1="364.7" x2="267.5" y2="370" stroke="#bbb" stroke-width="0.3"/>
<line x1="270" y1="364.7" x2="270" y2="370" stroke="#bbb" stroke-width="0.3"/>
<line x1="272.5" y1="364.7" x2="272.5" y2="370" stroke="#bbb" stroke-width="0.3"/>
<line x1="275" y1="364.7" x2="275" y2="370" stroke="#bbb" stroke-width="0.3"/>
<line x1="277.5" y1="364.7" x2="277.5" y2="370" stroke="#bbb" stroke-width="0.3"/>
<line x1="280" y1="364.7" x2="280" y2="370" stroke="#bbb" stroke-width="0.3"/>
<line x1="282.5" y1="364.7" x2="282.5" y2="370" stroke="#bbb" stroke-width="0.3"/>
<line x1="285" y1="364.7" x2="285" y2="370" stroke="#bbb" stroke-width="0.3"/>
<line x1="287.5" y1="364.7" x2="287.5" y2="370" stroke="#bbb" stroke-width="0.3"/>
<line x1="290" y1="364.7" x2="290" y2="370" stroke="#bbb" stroke-width="0.3"/>
<line x1="292.5" y1="364.7" x2="292.5" y2="370" stroke="#bbb" stroke-width="0.3"/>
<line x1="295" y1="364.7" x2="295" y2="370" stroke="#bbb" stroke-width="0.3"/>
<line x1="297.5" y1="364.7" x2="297.5" y2="370" stroke="#bbb" stroke-width="0.3"/>
<line x1="300" y1="364.7" x2="300" y2="370" stroke="#bbb" stroke-width="0.3"/>
<line x1="302.5" y1="364.7" x2="302.5" y2="370" stroke="#bbb" stroke-width="0.3"/>
<line x1="260.4" y1="372.5" x2="265" y2="372.5" stroke="#bbb" stroke-width="0.3"/>
<line x1="299.6" y1="372.5" x2="304.7" y2="372.5" stroke="#bbb" stroke-width="0.3"/>
<line x1="260.4" y1="375" x2="265" y2="375" stroke="#bbb" stroke-width="0.3"/>
<line x1="299.6" y1="375" x2="304.7" y2="375" stroke="#bbb" stroke-width="0.3"/>
<line x1="260.4" y1="377.5" x2="265" y2="377.5" stroke="#bbb" stroke-width="0.3"/>
<line x1="299.6" y1="377.5" x2="304.7" y2="377.5" stroke="#bbb" stroke-width="0.3"/>
<line x1="260.4" y1="380" x2="265" y2="380" stroke="#bbb" stroke-width="0.3"/>
<line x1="299.6" y1="380" x2="304.7" y2="380" stroke="#bbb" stroke-width="0.3"/>
<line x1="260.4" y1="382.5" x2="265" y2="382.5" stroke="#bbb" stroke-width="0.3"/>
<line x1="299.6" y1="382.5" x2="304.7" y2="382.5" stroke="#bbb" stroke-width="0.3"/>
<line x1="260.4" y1="385" x2="265" y2="385" stroke="#bbb" stroke-width="0.3"/>
<line x1="299.6" y1="385" x2="304.7" y2="385" stroke="#bbb" stroke-width="0.3"/>
<line x1="260.4" y1="387.5" x2="265" y2="387.5" stroke="#bbb" stroke-width="0.3"/>
<line x1="299.6" y1="387.5" x2="304.7" y2="387.5" stroke="#bbb" stroke-width="0.3"/>
<line x1="260.4" y1="390" x2="265" y2="390" stroke="#bbb" stroke-width="0.3"/>
<line x1="299.6" y1="390" x2="304.7" y2="390" stroke="#bbb" stroke-width="0.3"/>
<line x1="260.4" y1="392.5" x2="265" y2="392.5" stroke="#bbb" stroke-width="0.3"/>
<line x1="299.6" y1="392.5" x2="304.7" y2="392.5" stroke="#bbb" stroke-width="0.3"/>
<rect x="305" y="364.7" width="2.6" height="32" fill="#3c3c3c"/>
<rect x="260" y="394.7" width="6.7" height="2.6" fill="#3c3c3c"/>
<rect x="298" y="394.7" width="9.6" height="2.6" fill="#3c3c3c"/>
<rect x="257.7" y="397" width="2.8" height="4" fill="#3c3c3c"/>
<text x="276.5" y="383" font-size="3.2" fill="#222" font-weight="bold">书房</text>
<path d="M 273.5 395.5 L 273.5 387.5 A 8.5 8.5 0 0 1 282 395.5" fill="none" stroke="#555" stroke-width="0.4"/>
<path d="M 292 395.5 L 292 387.5 A 8.5 8.5 0 0 0 283.5 395.5" fill="none" stroke="#555" stroke-width="0.4"/>
<polygon points="307.6,364.4 312.7,364.4 312.7,393 307.6,397" fill="#f4f4f4" stroke="#bbb" stroke-width="0.3"/>
<text x="265.5" y="413.5" font-size="3.2" fill="#222" font-weight="bold">过厅</text>
<polygon points="298.7,420 306,415.3 360.7,415.3 360.7,432 298.7,432" fill="#fbfbfb" stroke="#666" stroke-width="0.4"/>
<rect x="301.3" y="419.3" width="40.7" height="3.4" fill="#444"/>
<rect x="302" y="423.3" width="39.3" height="7.4" fill="#fff" stroke="#222" stroke-width="0.6"/>
<line x1="304.5" y1="425" x2="304.5" y2="429" stroke="#999" stroke-width="0.35"/>
<line x1="306.65" y1="425" x2="306.65" y2="429" stroke="#999" stroke-width="0.35"/>
<line x1="310.95" y1="425" x2="310.95" y2="429" stroke="#999" stroke-width="0.35"/>
<line x1="313.1" y1="425" x2="313.1" y2="429" stroke="#999" stroke-width="0.35"/>
<line x1="317.4" y1="425" x2="317.4" y2="429" stroke="#999" stroke-width="0.35"/>
<line x1="319.55" y1="425" x2="319.55" y2="429" stroke="#999" stroke-width="0.35"/>
<line x1="323.85" y1="425" x2="323.85" y2="429" stroke="#999" stroke-width="0.35"/>
<line x1="326" y1="425" x2="326" y2="429" stroke="#999" stroke-width="0.35"/>
<line x1="330.3" y1="425" x2="330.3" y2="429" stroke="#999" stroke-width="0.35"/>
<line x1="332.45" y1="425" x2="332.45" y2="429" stroke="#999" stroke-width="0.35"/>
<line x1="336.75" y1="425" x2="336.75" y2="429" stroke="#999" stroke-width="0.35"/>
<line x1="338.9" y1="425" x2="338.9" y2="429" stroke="#999" stroke-width="0.35"/>
<rect x="341.3" y="418" width="18.7" height="12.7" fill="#000"/>
<rect x="276" y="425.3" width="22.7" height="2.7" fill="#3c3c3c"/>
<rect x="276" y="424.5" width="1.3" height="4.5" fill="#222"/>
<path d="M 277 428.5 A 11 11 0 0 1 266 439.5" fill="none" stroke="#666" stroke-width="0.4"/>
<text x="279" y="440" font-size="3.2" fill="#222" font-weight="bold">门厅</text>
<rect x="258" y="449.7" width="18" height="4.6" fill="#3c3c3c"/>
<rect x="288" y="449.7" width="13.3" height="4.6" fill="#3c3c3c"/>
<line x1="281" y1="452" x2="287.5" y2="452" stroke="#333" stroke-width="0.5"/>
<rect x="264.4" y="455" width="6.3" height="3.5" fill="#fff" stroke="#444" stroke-width="0.4"/>
<path d="M 264.4 458.5 L 264.4 462 A 3.15 3.2 0 0 0 270.7 462 L 270.7 458.5 Z" fill="#fff" stroke="#444" stroke-width="0.5"/>
<rect x="270.7" y="481.7" width="3.3" height="18.3" fill="#ddd" stroke="#555" stroke-width="0.3"/>
<circle cx="272.3" cy="485" r="0.7" fill="#fff" stroke="#444" stroke-width="0.3"/>
<circle cx="272.3" cy="487.3" r="0.7" fill="#fff" stroke="#444" stroke-width="0.3"/>
<circle cx="272.3" cy="489.6" r="0.7" fill="#fff" stroke="#444" stroke-width="0.3"/>
<circle cx="272.3" cy="491.9" r="0.7" fill="#fff" stroke="#444" stroke-width="0.3"/>
<text x="277" y="467.5" font-size="3.2" fill="#222" font-weight="bold">次卫</text>
<path d="M 276 471.5 A 9 9 0 0 1 285 480.5" fill="none" stroke="#666" stroke-width="0.4"/>
<line x1="276" y1="471.5" x2="276" y2="481" stroke="#666" stroke-width="0.3"/>
<rect x="289.3" y="455" width="9.4" height="25.3" fill="#fff" stroke="#444" stroke-width="0.6"/>
<rect x="290.7" y="463" width="5.3" height="8" fill="#c5dcea" stroke="#7f9db0" stroke-width="0.4"/>
<rect x="288" y="480.3" width="13" height="2.7" fill="#3c3c3c"/>
<rect x="292.7" y="483.7" width="6" height="16.6" fill="#fff" stroke="#444" stroke-width="0.5"/>
<rect x="293.8" y="485" width="3.7" height="5.5" fill="#fff" stroke="#555" stroke-width="0.4"/>
<rect x="298.7" y="447.7" width="2.6" height="53.3" fill="#555"/>
<rect x="298" y="447" width="3.8" height="4" fill="#fff" stroke="#444" stroke-width="0.4"/>
<rect x="302" y="456.3" width="3.3" height="30.7" fill="#fff" stroke="#555" stroke-width="0.5"/>
<rect x="305.3" y="458.3" width="32" height="26.7" fill="#fff" stroke="#333" stroke-width="0.9"/>
<rect x="307" y="460" width="29" height="23.3" fill="none" stroke="#999" stroke-width="0.4"/>
<circle cx="308" cy="453" r="3.7" fill="#f7efae" stroke="#cbbf66" stroke-width="0.3"/>
<circle cx="308" cy="453" r="2.29" fill="#f2e277"/>
<circle cx="308" cy="490.3" r="3.7" fill="#f7efae" stroke="#cbbf66" stroke-width="0.3"/>
<circle cx="308" cy="490.3" r="2.29" fill="#f2e277"/>
<text x="340.5" y="472.5" font-size="3" fill="#222" font-weight="bold">女儿房</text>
<g transform="rotate(30 342 441)"><rect x="334" y="435.5" width="16" height="11" fill="#fff" stroke="#444" stroke-width="0.6"/><rect x="330" y="437" width="6" height="8" fill="#fff" stroke="#444" stroke-width="0.5"/><line x1="333" y1="437" x2="333" y2="445" stroke="#666" stroke-width="0.3"/></g>
<circle cx="352" cy="434.3" r="2.7" fill="#f7efae" stroke="#cbbf66" stroke-width="0.3"/>
<circle cx="352" cy="434.3" r="1.67" fill="#f2e277"/>
<rect x="357" y="434" width="7.7" height="47.7" fill="#f3f3f3"/>
<line x1="360.3" y1="433" x2="360.3" y2="482" stroke="#555" stroke-width="0.5"/>
<line x1="361.8" y1="433" x2="361.8" y2="482" stroke="#999" stroke-width="0.4"/>
<rect x="357.5" y="437.4" width="2" height="1.2" fill="#333"/>
<rect x="357.5" y="455.9" width="2" height="1.2" fill="#333"/>
<rect x="357.5" y="477.4" width="2" height="1.2" fill="#333"/>
<rect x="365.5" y="416.3" width="47.2" height="12.7" fill="#fff" stroke="#555" stroke-width="0.5"/>
<rect x="367" y="417.7" width="39.7" height="9.8" fill="#bfd8e7" stroke="#333" stroke-width="0.6"/>
<rect x="368" y="418.6" width="10.5" height="8" fill="#b3cfe0" stroke="#4a5a66" stroke-width="0.5"/>
<rect x="379.5" y="420" width="12.5" height="5" fill="#d5e6f0" stroke="#5a6a76" stroke-width="0.4"/>
<circle cx="373" cy="422.7" r="0.5" fill="#222"/>
<text x="396.5" y="424.5" font-size="2.6" fill="#123" font-weight="bold">水景</text>
<line x1="408.5" y1="417" x2="411.5" y2="428" stroke="#999" stroke-width="0.3"/>
<rect x="362.5" y="429" width="90" height="5.3" fill="#fafafa" stroke="#555" stroke-width="0.5"/>
<line x1="362.5" y1="431" x2="452.5" y2="431" stroke="#888" stroke-width="0.3"/>
<rect x="363.2" y="430.3" width="1.6" height="3.5" fill="#fff" stroke="#333" stroke-width="0.4"/>
<rect x="387.9" y="430.3" width="1.6" height="3.5" fill="#fff" stroke="#333" stroke-width="0.4"/>
<rect x="411.9" y="430.3" width="1.6" height="3.5" fill="#fff" stroke="#333" stroke-width="0.4"/>
<polygon points="421.8,438.5 424,436 426.2,438.5" fill="#555"/>
<polygon points="367.5,446.5 369.8,444.5 369.8,448.5" fill="#555"/>
<circle cx="405.5" cy="459.8" r="4.8" fill="#fff" stroke="#666" stroke-width="0.5"/>
<rect x="392.00" y="445.80" width="8.4" height="8.4" rx="2.6" fill="#fff" stroke="#444" stroke-width="0.6" transform="rotate(45 396.20 450.00)"/>
<rect x="410.50" y="445.80" width="8.4" height="8.4" rx="2.6" fill="#fff" stroke="#444" stroke-width="0.6" transform="rotate(45 414.70 450.00)"/>
<rect x="392.00" y="465.30" width="8.4" height="8.4" rx="2.6" fill="#fff" stroke="#444" stroke-width="0.6" transform="rotate(45 396.20 469.50)"/>
<rect x="410.50" y="465.30" width="8.4" height="8.4" rx="2.6" fill="#fff" stroke="#444" stroke-width="0.6" transform="rotate(45 414.70 469.50)"/>
<text x="424" y="461.5" font-size="3.2" fill="#222" font-weight="bold">露台</text>
<text x="462.5" y="471.5" font-size="2.8" fill="#222" font-weight="bold">花池</text>
<text x="462" y="396.5" font-size="3.2" fill="#222" font-weight="bold">露台</text>
<text x="463.5" y="279" font-size="2.8" fill="#222" font-weight="bold">花池</text>
<path d="M 378 467 L 386 459 L 389 459" fill="none" stroke="#777" stroke-width="0.3"/>
<text x="387" y="459.5" font-size="1.6" fill="#555">洗衣</text>
</g>
<g id="p40_right_base">
<rect x="542.7" y="121" width="241.3" height="101.7" fill="#efefef"/>
<rect x="542.7" y="222" width="68" height="21" fill="#efefef"/>
<rect x="582" y="243" width="28.7" height="31" fill="#efefef"/>
<rect x="714" y="182" width="154" height="251" fill="#efefef"/>
<rect x="544.3" y="363.6" width="230.2" height="137.4" fill="#efefef"/>
<rect x="714" y="391" width="61" height="42" fill="#efefef"/>
<rect x="507.3" y="273.3" width="103.4" height="24.9" fill="#c6c6c6"/>
<rect x="582" y="254.7" width="28.7" height="19.3" fill="#c6c6c6"/>
<path d="M 585.3 254.7 L 602.6 254.7 A 17.3 17.3 0 0 1 585.3 272 Z" fill="#efefef"/>
<rect x="613" y="273.3" width="101" height="37.7" fill="#efefef"/>
<path d="M 610.7 274 L 614.5 274 L 614.5 279 A 10.5 10.5 0 0 0 604 289.5 A 10.5 10.5 0 0 0 614.5 300 L 614.5 302 L 599 302 L 599 298 L 610.7 298 Z" fill="#ededed"/>
<rect x="507.3" y="122.6" width="26" height="120.1" fill="url(#hR)"/>
<rect x="507.3" y="363.6" width="24.1" height="136.2" fill="url(#hR)"/>
<rect x="553" y="301.7" width="46.3" height="54.3" fill="#c6c6c6"/>
<rect x="599" y="333" width="14" height="23" fill="#c6c6c6"/>
<rect x="579" y="297.5" width="21" height="5" fill="#c6c6c6"/>
<rect x="612.7" y="313.7" width="91.6" height="42.3" fill="#c6c6c6"/>
<rect x="556.3" y="143.3" width="39.4" height="42.7" fill="#c5c5c5"/>
<rect x="718" y="315.7" width="139.2" height="76.2" fill="#c5c5c5" rx="1.8"/>
<rect x="600.3" y="433" width="60.7" height="52.7" fill="#c5c5c5"/>
<rect x="722.3" y="434.3" width="33.7" height="56" fill="#c5c5c5"/>
<rect x="643" y="122.7" width="61.3" height="69.3" fill="#ededed"/>
<rect x="643" y="192" width="60.3" height="5.3" fill="#b4b4b4"/>
<circle cx="657.66" cy="194.85" r="0.35" fill="#999"/>
<circle cx="698" cy="194.53" r="0.35" fill="#d0d0d0"/>
<circle cx="647.4" cy="192.46" r="0.35" fill="#999"/>
<circle cx="658.93" cy="193.45" r="0.35" fill="#d0d0d0"/>
<circle cx="671.48" cy="196.16" r="0.35" fill="#999"/>
<circle cx="667.13" cy="196.27" r="0.35" fill="#8a8a8a"/>
<circle cx="681.27" cy="196.31" r="0.35" fill="#d0d0d0"/>
<circle cx="666.7" cy="192.47" r="0.35" fill="#8a8a8a"/>
<circle cx="652.98" cy="196.71" r="0.35" fill="#8a8a8a"/>
<circle cx="661.43" cy="192.54" r="0.35" fill="#999"/>
<circle cx="671.63" cy="195.63" r="0.35" fill="#999"/>
<circle cx="685.99" cy="196.54" r="0.35" fill="#999"/>
<circle cx="686.82" cy="195" r="0.35" fill="#8a8a8a"/>
<circle cx="695.79" cy="192.84" r="0.35" fill="#8a8a8a"/>
<circle cx="672.95" cy="193.56" r="0.35" fill="#d0d0d0"/>
<circle cx="669.45" cy="195.22" r="0.35" fill="#999"/>
<circle cx="668.56" cy="196.15" r="0.35" fill="#d0d0d0"/>
<circle cx="664.38" cy="195.03" r="0.35" fill="#d0d0d0"/>
<circle cx="657.33" cy="193.92" r="0.35" fill="#8a8a8a"/>
<circle cx="694.46" cy="196.86" r="0.35" fill="#d0d0d0"/>
<circle cx="684.89" cy="195.54" r="0.35" fill="#999"/>
<circle cx="700.9" cy="196.47" r="0.35" fill="#d0d0d0"/>
<circle cx="649.69" cy="195.35" r="0.35" fill="#d0d0d0"/>
<circle cx="692.98" cy="194.98" r="0.35" fill="#999"/>
<circle cx="650.9" cy="194.57" r="0.35" fill="#d0d0d0"/>
<circle cx="702.39" cy="192.8" r="0.35" fill="#8a8a8a"/>
<circle cx="667.92" cy="193.08" r="0.35" fill="#999"/>
<circle cx="668.91" cy="194.27" r="0.35" fill="#8a8a8a"/>
<circle cx="646.13" cy="195.17" r="0.35" fill="#8a8a8a"/>
<circle cx="665.98" cy="195.04" r="0.35" fill="#d0d0d0"/>
<circle cx="695.91" cy="196.81" r="0.35" fill="#d0d0d0"/>
<circle cx="657.54" cy="192.56" r="0.35" fill="#8a8a8a"/>
<circle cx="648.08" cy="195.1" r="0.35" fill="#8a8a8a"/>
<circle cx="699.96" cy="196.77" r="0.35" fill="#999"/>
<circle cx="679.82" cy="193.1" r="0.35" fill="#8a8a8a"/>
<circle cx="701.8" cy="193.93" r="0.35" fill="#999"/>
<circle cx="700.54" cy="196.43" r="0.35" fill="#999"/>
<circle cx="665.92" cy="196.31" r="0.35" fill="#999"/>
<circle cx="681.81" cy="195.08" r="0.35" fill="#d0d0d0"/>
<circle cx="649.6" cy="196.78" r="0.35" fill="#d0d0d0"/>
<circle cx="659.64" cy="195.25" r="0.35" fill="#d0d0d0"/>
<circle cx="657.64" cy="193.75" r="0.35" fill="#999"/>
<circle cx="674.51" cy="194.87" r="0.35" fill="#8a8a8a"/>
<circle cx="690.41" cy="196.84" r="0.35" fill="#999"/>
<circle cx="644.69" cy="195.17" r="0.35" fill="#d0d0d0"/>
<circle cx="651.43" cy="195.25" r="0.35" fill="#999"/>
<circle cx="671.24" cy="195.46" r="0.35" fill="#999"/>
<circle cx="679.73" cy="193.66" r="0.35" fill="#999"/>
<circle cx="644.82" cy="192.67" r="0.35" fill="#d0d0d0"/>
<circle cx="644.76" cy="194.06" r="0.35" fill="#d0d0d0"/>
<circle cx="670.65" cy="195.07" r="0.35" fill="#999"/>
<circle cx="654.06" cy="193.23" r="0.35" fill="#999"/>
<circle cx="693.71" cy="193.59" r="0.35" fill="#999"/>
<circle cx="649.74" cy="196.06" r="0.35" fill="#d0d0d0"/>
<circle cx="684.18" cy="192.99" r="0.35" fill="#d0d0d0"/>
<circle cx="656.74" cy="196.02" r="0.35" fill="#8a8a8a"/>
<circle cx="663" cy="195.45" r="0.35" fill="#d0d0d0"/>
<circle cx="685.03" cy="192.86" r="0.35" fill="#999"/>
<circle cx="699.97" cy="195.44" r="0.35" fill="#8a8a8a"/>
<circle cx="669.59" cy="196.25" r="0.35" fill="#8a8a8a"/>
<circle cx="648.26" cy="195.74" r="0.35" fill="#8a8a8a"/>
<circle cx="696.15" cy="194.43" r="0.35" fill="#8a8a8a"/>
<circle cx="690.33" cy="192.55" r="0.35" fill="#8a8a8a"/>
<circle cx="662.25" cy="196.16" r="0.35" fill="#d0d0d0"/>
<circle cx="654.42" cy="193.65" r="0.35" fill="#d0d0d0"/>
<circle cx="648.59" cy="195.19" r="0.35" fill="#d0d0d0"/>
<circle cx="651.22" cy="193.71" r="0.35" fill="#999"/>
<circle cx="671.15" cy="195.25" r="0.35" fill="#999"/>
<circle cx="668.48" cy="194.24" r="0.35" fill="#999"/>
<circle cx="652.78" cy="192.42" r="0.35" fill="#d0d0d0"/>
<circle cx="702.22" cy="194.35" r="0.35" fill="#d0d0d0"/>
<circle cx="656.71" cy="195.75" r="0.35" fill="#d0d0d0"/>
<circle cx="688.01" cy="196.74" r="0.35" fill="#d0d0d0"/>
<circle cx="663.79" cy="193.42" r="0.35" fill="#8a8a8a"/>
<circle cx="694.55" cy="196.77" r="0.35" fill="#8a8a8a"/>
<circle cx="691.71" cy="192.6" r="0.35" fill="#d0d0d0"/>
<circle cx="673.98" cy="193.29" r="0.35" fill="#999"/>
<circle cx="677.83" cy="192.46" r="0.35" fill="#d0d0d0"/>
<circle cx="650.69" cy="194.66" r="0.35" fill="#8a8a8a"/>
<circle cx="682.94" cy="194.76" r="0.35" fill="#999"/>
<circle cx="646.67" cy="196.51" r="0.35" fill="#8a8a8a"/>
<circle cx="663.81" cy="193.54" r="0.35" fill="#d0d0d0"/>
<circle cx="671.89" cy="195.92" r="0.35" fill="#999"/>
<circle cx="656.64" cy="192.95" r="0.35" fill="#8a8a8a"/>
<circle cx="653.69" cy="195.96" r="0.35" fill="#8a8a8a"/>
<circle cx="692.5" cy="192.43" r="0.35" fill="#d0d0d0"/>
<circle cx="677.47" cy="194.2" r="0.35" fill="#999"/>
<circle cx="658.27" cy="195.18" r="0.35" fill="#d0d0d0"/>
<circle cx="668.67" cy="194.53" r="0.35" fill="#8a8a8a"/>
<circle cx="694.49" cy="195.89" r="0.35" fill="#8a8a8a"/>
<rect x="809.4" y="275.3" width="54.9" height="28.7" fill="#c6c6c6"/>
<circle cx="827.29" cy="279.99" r="0.43" fill="#9a9a9a"/>
<circle cx="854.15" cy="278.42" r="0.42" fill="#dcdcdc"/>
<circle cx="821.39" cy="278.19" r="0.38" fill="#9a9a9a"/>
<circle cx="814.7" cy="287.6" r="0.47" fill="#9a9a9a"/>
<circle cx="860.96" cy="293.33" r="0.42" fill="#9a9a9a"/>
<circle cx="840.96" cy="286.83" r="0.5" fill="#9a9a9a"/>
<circle cx="839.86" cy="279.5" r="0.38" fill="#dcdcdc"/>
<circle cx="816.16" cy="284.38" r="0.46" fill="#9a9a9a"/>
<circle cx="815.37" cy="291.68" r="0.34" fill="#9a9a9a"/>
<circle cx="839.38" cy="277.55" r="0.31" fill="#9a9a9a"/>
<circle cx="836.61" cy="290.58" r="0.46" fill="#a8a8a8"/>
<circle cx="841.42" cy="288.4" r="0.36" fill="#9a9a9a"/>
<circle cx="847.55" cy="282.59" r="0.41" fill="#dcdcdc"/>
<circle cx="836.54" cy="285.35" r="0.39" fill="#dcdcdc"/>
<circle cx="862.73" cy="279.08" r="0.38" fill="#a8a8a8"/>
<circle cx="818.01" cy="289.39" r="0.31" fill="#dcdcdc"/>
<circle cx="813.99" cy="291.31" r="0.46" fill="#a8a8a8"/>
<circle cx="828.17" cy="285.53" r="0.4" fill="#a8a8a8"/>
<circle cx="813.51" cy="278.4" r="0.35" fill="#dcdcdc"/>
<circle cx="845.66" cy="277.49" r="0.44" fill="#dcdcdc"/>
<circle cx="841.01" cy="294.74" r="0.39" fill="#dcdcdc"/>
<circle cx="830.63" cy="294.39" r="0.3" fill="#a8a8a8"/>
<circle cx="829" cy="292.78" r="0.4" fill="#9a9a9a"/>
<circle cx="851.28" cy="279.4" r="0.35" fill="#a8a8a8"/>
<circle cx="859.31" cy="289.6" r="0.33" fill="#a8a8a8"/>
<circle cx="839.47" cy="300.36" r="0.46" fill="#dcdcdc"/>
<circle cx="824.83" cy="287.35" r="0.37" fill="#a8a8a8"/>
<circle cx="861.52" cy="280" r="0.34" fill="#9a9a9a"/>
<circle cx="845.36" cy="276.14" r="0.47" fill="#9a9a9a"/>
<circle cx="823.99" cy="275.91" r="0.38" fill="#a8a8a8"/>
<circle cx="842.73" cy="284.66" r="0.33" fill="#dcdcdc"/>
<circle cx="861.11" cy="294.01" r="0.45" fill="#a8a8a8"/>
<circle cx="858.37" cy="297.48" r="0.47" fill="#dcdcdc"/>
<circle cx="830.99" cy="286.89" r="0.32" fill="#dcdcdc"/>
<circle cx="831.42" cy="281.1" r="0.5" fill="#a8a8a8"/>
<circle cx="818.56" cy="285.25" r="0.31" fill="#9a9a9a"/>
<circle cx="840.41" cy="290.72" r="0.49" fill="#dcdcdc"/>
<circle cx="811.18" cy="300.11" r="0.42" fill="#9a9a9a"/>
<circle cx="844.06" cy="302.36" r="0.42" fill="#a8a8a8"/>
<circle cx="816.43" cy="299.4" r="0.5" fill="#a8a8a8"/>
<circle cx="835.74" cy="284.47" r="0.33" fill="#dcdcdc"/>
<circle cx="828.3" cy="283.16" r="0.47" fill="#9a9a9a"/>
<circle cx="837.68" cy="281.5" r="0.49" fill="#a8a8a8"/>
<circle cx="817.72" cy="290.9" r="0.31" fill="#dcdcdc"/>
<circle cx="825.9" cy="293.67" r="0.32" fill="#a8a8a8"/>
<circle cx="837.79" cy="301.05" r="0.37" fill="#9a9a9a"/>
<circle cx="838.56" cy="297.46" r="0.37" fill="#9a9a9a"/>
<circle cx="842.91" cy="297.72" r="0.45" fill="#9a9a9a"/>
<circle cx="853.33" cy="298.55" r="0.45" fill="#9a9a9a"/>
<circle cx="820.6" cy="289.5" r="0.45" fill="#9a9a9a"/>
<circle cx="852.47" cy="288.93" r="0.34" fill="#dcdcdc"/>
<circle cx="861.45" cy="288.23" r="0.49" fill="#a8a8a8"/>
<circle cx="861.37" cy="285.94" r="0.34" fill="#9a9a9a"/>
<circle cx="835.18" cy="285.19" r="0.4" fill="#dcdcdc"/>
<circle cx="855.18" cy="289.13" r="0.43" fill="#dcdcdc"/>
<circle cx="814.38" cy="294.16" r="0.48" fill="#dcdcdc"/>
<circle cx="850.31" cy="289.09" r="0.34" fill="#dcdcdc"/>
<circle cx="827.76" cy="298.06" r="0.49" fill="#a8a8a8"/>
<circle cx="834.81" cy="296.47" r="0.32" fill="#9a9a9a"/>
<circle cx="818.98" cy="279.33" r="0.33" fill="#a8a8a8"/>
<circle cx="853.35" cy="279.86" r="0.47" fill="#a8a8a8"/>
<circle cx="845.29" cy="285.54" r="0.41" fill="#9a9a9a"/>
<circle cx="810.96" cy="298.02" r="0.45" fill="#9a9a9a"/>
<circle cx="838.24" cy="301.75" r="0.39" fill="#9a9a9a"/>
<circle cx="854.41" cy="281.67" r="0.35" fill="#a8a8a8"/>
<circle cx="836.86" cy="297.03" r="0.37" fill="#dcdcdc"/>
<circle cx="832.43" cy="279.44" r="0.48" fill="#a8a8a8"/>
<circle cx="858.28" cy="294.22" r="0.46" fill="#dcdcdc"/>
<circle cx="832.51" cy="301.31" r="0.4" fill="#dcdcdc"/>
<circle cx="818" cy="289.99" r="0.47" fill="#9a9a9a"/>
<circle cx="842.66" cy="297.37" r="0.33" fill="#9a9a9a"/>
<circle cx="835.37" cy="295.96" r="0.41" fill="#a8a8a8"/>
<circle cx="846.65" cy="290.55" r="0.4" fill="#9a9a9a"/>
<circle cx="857.49" cy="277.38" r="0.34" fill="#9a9a9a"/>
<circle cx="851.5" cy="289.91" r="0.41" fill="#9a9a9a"/>
<circle cx="833.74" cy="292.83" r="0.4" fill="#dcdcdc"/>
<circle cx="820.57" cy="283.51" r="0.4" fill="#a8a8a8"/>
<circle cx="837.22" cy="282.68" r="0.4" fill="#a8a8a8"/>
<circle cx="859.63" cy="300.62" r="0.34" fill="#a8a8a8"/>
<circle cx="817.21" cy="279.18" r="0.39" fill="#9a9a9a"/>
<circle cx="846.04" cy="287.71" r="0.34" fill="#a8a8a8"/>
<circle cx="852.13" cy="300.74" r="0.33" fill="#dcdcdc"/>
<circle cx="844.55" cy="285.98" r="0.35" fill="#9a9a9a"/>
<circle cx="862.05" cy="281.9" r="0.49" fill="#a8a8a8"/>
<circle cx="857.59" cy="280.33" r="0.43" fill="#9a9a9a"/>
<circle cx="818.52" cy="287.8" r="0.4" fill="#a8a8a8"/>
<circle cx="832.55" cy="285.71" r="0.32" fill="#a8a8a8"/>
<circle cx="810.85" cy="291.2" r="0.39" fill="#9a9a9a"/>
<circle cx="830.55" cy="290.18" r="0.36" fill="#9a9a9a"/>
<circle cx="815.89" cy="301.34" r="0.35" fill="#9a9a9a"/>
<circle cx="814.34" cy="283.36" r="0.48" fill="#9a9a9a"/>
<circle cx="824.4" cy="279.4" r="0.38" fill="#dcdcdc"/>
<circle cx="854.02" cy="282.99" r="0.33" fill="#dcdcdc"/>
<circle cx="840.61" cy="295.27" r="0.32" fill="#9a9a9a"/>
<circle cx="852.98" cy="280.9" r="0.48" fill="#a8a8a8"/>
<circle cx="860.47" cy="293.44" r="0.46" fill="#9a9a9a"/>
<circle cx="842.64" cy="281.98" r="0.35" fill="#9a9a9a"/>
<circle cx="834.3" cy="285.23" r="0.41" fill="#a8a8a8"/>
<circle cx="843.37" cy="277" r="0.44" fill="#9a9a9a"/>
<circle cx="862.14" cy="283.08" r="0.34" fill="#a8a8a8"/>
<circle cx="843.75" cy="290.56" r="0.34" fill="#a8a8a8"/>
<circle cx="836.8" cy="280.75" r="0.37" fill="#9a9a9a"/>
<circle cx="863.5" cy="276.83" r="0.3" fill="#dcdcdc"/>
<circle cx="839.56" cy="281.07" r="0.39" fill="#a8a8a8"/>
<circle cx="815.54" cy="298.57" r="0.39" fill="#a8a8a8"/>
<circle cx="839.28" cy="300.51" r="0.49" fill="#a8a8a8"/>
<circle cx="846.94" cy="303.11" r="0.37" fill="#dcdcdc"/>
<circle cx="849.16" cy="279.68" r="0.5" fill="#9a9a9a"/>
<circle cx="855" cy="276.2" r="0.43" fill="#a8a8a8"/>
<circle cx="833.06" cy="277.34" r="0.43" fill="#a8a8a8"/>
<circle cx="856.81" cy="294.44" r="0.36" fill="#9a9a9a"/>
<circle cx="847.21" cy="277.06" r="0.34" fill="#a8a8a8"/>
<circle cx="833.87" cy="283.12" r="0.49" fill="#dcdcdc"/>
<circle cx="827.27" cy="276.76" r="0.48" fill="#9a9a9a"/>
<circle cx="829.06" cy="275.83" r="0.38" fill="#a8a8a8"/>
<circle cx="824.86" cy="294.04" r="0.35" fill="#9a9a9a"/>
<circle cx="814.71" cy="298.51" r="0.33" fill="#dcdcdc"/>
<circle cx="812.05" cy="276.43" r="0.36" fill="#9a9a9a"/>
<circle cx="814.36" cy="302.42" r="0.47" fill="#9a9a9a"/>
<circle cx="845.31" cy="295.7" r="0.48" fill="#a8a8a8"/>
<circle cx="851.07" cy="295.83" r="0.4" fill="#a8a8a8"/>
<circle cx="848.9" cy="293.68" r="0.31" fill="#dcdcdc"/>
<circle cx="857.96" cy="293.24" r="0.45" fill="#dcdcdc"/>
<circle cx="817.32" cy="290.36" r="0.4" fill="#9a9a9a"/>
<circle cx="854.43" cy="292.04" r="0.48" fill="#dcdcdc"/>
<circle cx="861.43" cy="293.67" r="0.32" fill="#9a9a9a"/>
<circle cx="816.99" cy="285.83" r="0.32" fill="#a8a8a8"/>
<circle cx="839.96" cy="293.25" r="0.43" fill="#dcdcdc"/>
<circle cx="823.01" cy="283.13" r="0.39" fill="#9a9a9a"/>
<circle cx="850.21" cy="289.78" r="0.41" fill="#dcdcdc"/>
<circle cx="838.2" cy="296.53" r="0.39" fill="#9a9a9a"/>
<circle cx="855.49" cy="282.33" r="0.45" fill="#9a9a9a"/>
<circle cx="849.75" cy="302.93" r="0.4" fill="#a8a8a8"/>
<circle cx="813.94" cy="301.11" r="0.36" fill="#9a9a9a"/>
<circle cx="843.12" cy="293.67" r="0.32" fill="#9a9a9a"/>
<circle cx="827.72" cy="293.91" r="0.44" fill="#dcdcdc"/>
<circle cx="840.46" cy="276.15" r="0.31" fill="#a8a8a8"/>
<circle cx="862.32" cy="278.57" r="0.34" fill="#a8a8a8"/>
<circle cx="825.51" cy="290.16" r="0.39" fill="#a8a8a8"/>
<circle cx="851.23" cy="303.41" r="0.41" fill="#a8a8a8"/>
<circle cx="862.62" cy="301.83" r="0.3" fill="#a8a8a8"/>
<circle cx="813.93" cy="289.88" r="0.5" fill="#a8a8a8"/>
<circle cx="830.69" cy="301.28" r="0.49" fill="#9a9a9a"/>
<circle cx="841.2" cy="279.74" r="0.4" fill="#a8a8a8"/>
<circle cx="816.96" cy="298.6" r="0.4" fill="#9a9a9a"/>
<circle cx="847.78" cy="282.23" r="0.48" fill="#a8a8a8"/>
<circle cx="831.08" cy="280.22" r="0.49" fill="#dcdcdc"/>
<circle cx="834.14" cy="284.19" r="0.33" fill="#a8a8a8"/>
<circle cx="830.11" cy="279.16" r="0.37" fill="#a8a8a8"/>
<circle cx="850.34" cy="299.13" r="0.32" fill="#9a9a9a"/>
<circle cx="848.3" cy="300.86" r="0.36" fill="#a8a8a8"/>
<circle cx="813.31" cy="286.65" r="0.47" fill="#9a9a9a"/>
<circle cx="829.28" cy="287.7" r="0.36" fill="#9a9a9a"/>
<circle cx="824.95" cy="277.23" r="0.43" fill="#dcdcdc"/>
<circle cx="860.32" cy="282.73" r="0.35" fill="#dcdcdc"/>
<circle cx="826.84" cy="297.29" r="0.46" fill="#a8a8a8"/>
<circle cx="857.55" cy="298.37" r="0.43" fill="#dcdcdc"/>
<circle cx="839.46" cy="295.8" r="0.31" fill="#dcdcdc"/>
<circle cx="831.99" cy="292.89" r="0.33" fill="#a8a8a8"/>
<circle cx="836.02" cy="301.15" r="0.41" fill="#9a9a9a"/>
<circle cx="835.3" cy="285.35" r="0.36" fill="#dcdcdc"/>
<circle cx="849.69" cy="293.95" r="0.38" fill="#9a9a9a"/>
<circle cx="826.05" cy="291.29" r="0.38" fill="#9a9a9a"/>
<circle cx="844.53" cy="277.89" r="0.4" fill="#a8a8a8"/>
<circle cx="839.52" cy="288.39" r="0.37" fill="#a8a8a8"/>
<circle cx="832.88" cy="291.03" r="0.35" fill="#9a9a9a"/>
<circle cx="828.27" cy="278.33" r="0.35" fill="#a8a8a8"/>
<circle cx="853.51" cy="281.42" r="0.3" fill="#a8a8a8"/>
<circle cx="830.47" cy="296.53" r="0.34" fill="#a8a8a8"/>
<circle cx="828.06" cy="277.53" r="0.36" fill="#a8a8a8"/>
<path d="M 868 260.5 L 884 260.5 A 16 20 0 0 1 900 280.5 L 900 469.5 A 14.5 14.5 0 0 1 885.5 484 L 775 484 L 775 433.5 L 868 433.5 Z" fill="#f7f7f7" stroke="#333" stroke-width="0.8"/>
<path d="M 868.5 262.3 L 883.5 262.3 A 14.8 18.5 0 0 1 898.3 280.8 L 898.3 469 A 13.2 13.2 0 0 1 885 482.2 L 775 482.2" fill="none" stroke="#555" stroke-width="0.5"/>
<path d="M 869 265 L 882 265 A 12 17 0 0 1 894 282 L 894 466.5 A 11.5 11.5 0 0 1 882.5 478 L 775.8 478 L 775.8 434.5 L 869 434.5 Z" fill="#eaeaea" stroke="#444" stroke-width="0.5" stroke-dasharray="2.6 1.1"/>
<path d="M 869.5 265.5 L 882 265.5 A 11.5 16.5 0 0 1 893.5 282 L 893.5 310 L 891 310 A 9.6 10.5 0 0 0 871.7 310 L 869.5 310 Z" fill="#d2d2d2"/>
<path d="M 871.7 345 L 871.7 310 A 9.65 10.7 0 0 1 891 310 L 891 345 Z" fill="#f3f3f3" stroke="#e0e0e0" stroke-width="0.4"/>
<rect x="882.3" y="286.4" width="7.7" height="6.9" fill="#fff" stroke="#666" stroke-width="0.5"/>
<line x1="882.8" y1="291.5" x2="885" y2="293" stroke="#333" stroke-width="0.5"/>
<line x1="869.5" y1="345" x2="893.5" y2="345" stroke="#cfcfcf" stroke-width="0.5"/>
<line x1="869.5" y1="373.5" x2="893.5" y2="373.5" stroke="#cfcfcf" stroke-width="0.5"/>
<line x1="869.5" y1="402" x2="893.5" y2="402" stroke="#cfcfcf" stroke-width="0.5"/>
<line x1="869.5" y1="444.3" x2="893.5" y2="444.3" stroke="#cfcfcf" stroke-width="0.5"/>
<path d="M 869.5 444.3 L 893.5 444.3 L 893.5 466 A 11.5 11.5 0 0 1 882 477.5 L 869.5 477.5 Z" fill="#d3d3d3"/>
<rect x="870.5" y="445.2" width="8.9" height="17" fill="#fbfbfb" stroke="#ddd" stroke-width="0.4"/>
<rect x="775.8" y="435.7" width="9.8" height="20.3" fill="#fafafa" stroke="#bbb" stroke-width="0.4"/>
<rect x="775.8" y="456" width="9.8" height="21" fill="#d6d6d6"/>
<rect x="783.8" y="458.6" width="8.9" height="15.8" fill="#f4f4f4" stroke="#888" stroke-width="0.4"/>
<path d="M 868 440 L 862 470 L 868 476" fill="none" stroke="#ccc" stroke-width="0.3" stroke-dasharray="1.5 1"/>
</g>
<g id="p50_right_walls">
<rect x="507.2" y="119.8" width="210.3" height="2.8" fill="#fdfdfd"/>
<line x1="507.2" y1="119.15" x2="717.5" y2="119.15" stroke="#111" stroke-width="1.35"/>
<line x1="766.5" y1="119.4" x2="785" y2="119.4" stroke="#111" stroke-width="1.7"/>
<line x1="717.5" y1="119" x2="766.5" y2="119" stroke="#555" stroke-width="0.5" stroke-dasharray="1 0.6"/>
<line x1="717.5" y1="120.6" x2="766.5" y2="120.6" stroke="#555" stroke-width="0.5"/>
<line x1="548" y1="123.2" x2="704" y2="123.2" stroke="#aaa" stroke-width="0.45" stroke-dasharray="3 1.5"/>
<rect x="513.5" y="118.6" width="1.6" height="4" fill="#fff" stroke="#222" stroke-width="0.5"/>
<rect x="526.5" y="118.6" width="1.6" height="4" fill="#fff" stroke="#222" stroke-width="0.5"/>
<rect x="547.6" y="118.6" width="1.6" height="4" fill="#fff" stroke="#222" stroke-width="0.5"/>
<rect x="560.6" y="118.6" width="1.6" height="4" fill="#fff" stroke="#222" stroke-width="0.5"/>
<rect x="588.9" y="118.6" width="1.6" height="4" fill="#fff" stroke="#222" stroke-width="0.5"/>
<rect x="601.9" y="118.6" width="1.6" height="4" fill="#fff" stroke="#222" stroke-width="0.5"/>
<rect x="614.9" y="118.6" width="1.6" height="4" fill="#fff" stroke="#222" stroke-width="0.5"/>
<rect x="628.2" y="118.6" width="1.6" height="4" fill="#fff" stroke="#222" stroke-width="0.5"/>
<rect x="654.7" y="118.6" width="1.6" height="4" fill="#fff" stroke="#222" stroke-width="0.5"/>
<rect x="667.2" y="118.6" width="1.6" height="4" fill="#fff" stroke="#222" stroke-width="0.5"/>
<rect x="680.2" y="118.6" width="1.6" height="4" fill="#fff" stroke="#222" stroke-width="0.5"/>
<rect x="694.2" y="118.6" width="1.6" height="4" fill="#fff" stroke="#222" stroke-width="0.5"/>
<rect x="716" y="118.6" width="1.6" height="4" fill="#fff" stroke="#222" stroke-width="0.5"/>
<rect x="766.2" y="118.6" width="1.6" height="4" fill="#fff" stroke="#222" stroke-width="0.5"/>
<rect x="591" y="115.9" width="10.4" height="2.7" fill="#fff" stroke="#333" stroke-width="0.6"/>
<rect x="656" y="115.9" width="11" height="2.7" fill="#fff" stroke="#333" stroke-width="0.6"/>
<rect x="669.5" y="115.9" width="11" height="2.7" fill="#fff" stroke="#333" stroke-width="0.6"/>
<rect x="616.5" y="114.6" width="2.5" height="4" fill="#fff" stroke="#777" stroke-width="0.4" rx="1"/>
<line x1="784.2" y1="118.7" x2="784.2" y2="182.2" stroke="#111" stroke-width="1.7"/>
<line x1="783.4" y1="181.5" x2="868.6" y2="181.5" stroke="#111" stroke-width="1.5"/>
<line x1="780" y1="142" x2="780" y2="184" stroke="#777" stroke-width="0.5" stroke-dasharray="2.5 1"/>
<line x1="785" y1="184.7" x2="850" y2="184.7" stroke="#777" stroke-width="0.5" stroke-dasharray="3 1.2"/>
<rect x="809.3" y="179" width="1.7" height="5.5" fill="#222"/>
<rect x="836.5" y="179" width="1.5" height="5.5" fill="#222"/>
<rect x="838" y="177.5" width="11" height="3" fill="#fff" stroke="#444" stroke-width="0.5"/>
<rect x="780.5" y="133.3" width="6" height="1.4" fill="#222"/>
<rect x="780.5" y="155.3" width="6" height="1.4" fill="#222"/>
<line x1="868" y1="180.8" x2="868" y2="433.6" stroke="#111" stroke-width="1.3"/>
<line x1="864.3" y1="199" x2="864.3" y2="416" stroke="#555" stroke-width="0.5" stroke-dasharray="2.6 1.2"/>
<rect x="865" y="217.3" width="2.5" height="1.4" fill="#333"/>
<rect x="865" y="242.3" width="2.5" height="1.4" fill="#333"/>
<rect x="865" y="317.3" width="2.5" height="1.4" fill="#333"/>
<rect x="865" y="345.3" width="2.5" height="1.4" fill="#333"/>
<rect x="865" y="371.3" width="2.5" height="1.4" fill="#333"/>
<rect x="865" y="399.3" width="2.5" height="1.4" fill="#333"/>
<rect x="507.2" y="499.9" width="267.3" height="3.3" fill="#fdfdfd"/>
<line x1="507.2" y1="503.7" x2="774.8" y2="503.7" stroke="#111" stroke-width="1.35"/>
<line x1="545" y1="500.6" x2="770" y2="500.6" stroke="#999" stroke-width="0.4" stroke-dasharray="3 1.5"/>
<rect x="513.2" y="500" width="1.6" height="5.6" fill="#fff" stroke="#222" stroke-width="0.5"/>
<rect x="527.2" y="500" width="1.6" height="5.6" fill="#fff" stroke="#222" stroke-width="0.5"/>
<rect x="547.3" y="500" width="1.6" height="5.6" fill="#fff" stroke="#222" stroke-width="0.5"/>
<rect x="574" y="500" width="1.6" height="5.6" fill="#fff" stroke="#222" stroke-width="0.5"/>
<rect x="585.7" y="500" width="1.6" height="5.6" fill="#fff" stroke="#222" stroke-width="0.5"/>
<rect x="588.9" y="500" width="1.6" height="5.6" fill="#fff" stroke="#222" stroke-width="0.5"/>
<rect x="619.2" y="500" width="1.6" height="5.6" fill="#fff" stroke="#222" stroke-width="0.5"/>
<rect x="648.7" y="500" width="1.6" height="5.6" fill="#fff" stroke="#222" stroke-width="0.5"/>
<rect x="661.7" y="500" width="1.6" height="5.6" fill="#fff" stroke="#222" stroke-width="0.5"/>
<rect x="676.2" y="500" width="1.6" height="5.6" fill="#fff" stroke="#222" stroke-width="0.5"/>
<rect x="688.2" y="500" width="1.6" height="5.6" fill="#fff" stroke="#222" stroke-width="0.5"/>
<rect x="698.7" y="500" width="1.6" height="5.6" fill="#fff" stroke="#222" stroke-width="0.5"/>
<rect x="715.2" y="500" width="1.6" height="5.6" fill="#fff" stroke="#222" stroke-width="0.5"/>
<rect x="744.7" y="500" width="1.6" height="5.6" fill="#fff" stroke="#222" stroke-width="0.5"/>
<rect x="757.2" y="500" width="1.6" height="5.6" fill="#fff" stroke="#222" stroke-width="0.5"/>
<rect x="773.2" y="500" width="1.6" height="5.6" fill="#fff" stroke="#222" stroke-width="0.5"/>
<rect x="575.4" y="504.4" width="10.4" height="2.3" fill="#fff" stroke="#333" stroke-width="0.6"/>
<rect x="650.5" y="504.4" width="11" height="2.3" fill="#fff" stroke="#333" stroke-width="0.6"/>
<rect x="678" y="504.4" width="10" height="2.3" fill="#fff" stroke="#333" stroke-width="0.6"/>
<rect x="746.5" y="504.4" width="10.5" height="2.3" fill="#fff" stroke="#333" stroke-width="0.6"/>
<line x1="774.3" y1="481" x2="774.3" y2="504.3" stroke="#222" stroke-width="0.9"/>
<line x1="507.2" y1="118.6" x2="507.2" y2="504.3" stroke="#777" stroke-width="0.4"/>
<rect x="769.5" y="430" width="5.5" height="51.5" fill="#f6f6f6"/>
<line x1="774.8" y1="433" x2="774.8" y2="481" stroke="#222" stroke-width="0.8"/>
<line x1="770.3" y1="433" x2="770.3" y2="481" stroke="#333" stroke-width="0.6" stroke-dasharray="3 1"/>
<rect x="766.5" y="438" width="3.5" height="1" fill="#222"/>
<rect x="766.5" y="456.5" width="3.5" height="1" fill="#222"/>
<line x1="774.9" y1="432.7" x2="868.7" y2="432.7" stroke="#111" stroke-width="1.5"/>
<rect x="528.3" y="122.6" width="19.4" height="18.7" fill="#000"/>
<rect x="604" y="122.6" width="12.7" height="8.1" fill="#000"/>
<rect x="704.5" y="122.6" width="12.8" height="19.2" fill="#000"/>
<rect x="766.7" y="122.6" width="13.3" height="19.1" fill="#000"/>
<rect x="768.7" y="185" width="11.3" height="12.3" fill="#000"/>
<rect x="850" y="184.7" width="14" height="13.9" fill="#000"/>
<rect x="850" y="262.7" width="14.3" height="18.6" fill="#000"/>
<rect x="850" y="416" width="14.2" height="14" fill="#000"/>
<rect x="751" y="417.9" width="19.4" height="12.1" fill="#000"/>
<rect x="757.5" y="481.5" width="12" height="17.4" fill="#000"/>
<rect x="848.5" y="415" width="18" height="16.5" fill="none" stroke="#555" stroke-width="0.4"/>
<rect x="864.3" y="262.7" width="3.7" height="18.6" fill="#fff" stroke="#222" stroke-width="0.6"/>
<rect x="533.3" y="141.3" width="9.4" height="80.2" fill="#3a3a3a"/>
<rect x="536.3" y="230" width="3.4" height="13" fill="#000"/>
<rect x="531.4" y="363.6" width="12.9" height="53.4" fill="#3a3a3a"/>
<rect x="531.4" y="417" width="12.9" height="65" fill="#000"/>
<rect x="528" y="481" width="19.7" height="18.7" fill="#000"/>
<rect x="507.3" y="356" width="207" height="7.7" fill="#000"/>
<rect x="704.3" y="301.5" width="10" height="62.2" fill="#000"/>
<rect x="610.5" y="222.2" width="103.5" height="51.1" fill="#000"/>
<rect x="704" y="222.2" width="10" height="55.2" fill="#000"/>
<rect x="615.1" y="230" width="42.9" height="39.6" fill="#fcfcfc"/>
<rect x="662.2" y="230" width="41.8" height="39.6" fill="#fcfcfc"/>
<rect x="627.8" y="270.3" width="20.2" height="3.3" fill="#fafafa" stroke="#333" stroke-width="0.4"/>
<rect x="671.3" y="270.3" width="20.7" height="3.3" fill="#fafafa" stroke="#333" stroke-width="0.4"/>
<rect x="610.5" y="273.3" width="4.6" height="1.7" fill="#fff" stroke="#444" stroke-width="0.4"/>
<rect x="620.6" y="240.4" width="34.2" height="26" fill="#c3c3c3" stroke="#333" stroke-width="0.6"/>
<line x1="620.6" y1="240.4" x2="654.8" y2="266.4" stroke="#333" stroke-width="0.45"/>
<line x1="620.6" y1="266.4" x2="654.8" y2="240.4" stroke="#333" stroke-width="0.45"/>
<rect x="627.4" y="233.2" width="20.6" height="3.3" fill="#c9c9c9" stroke="#555" stroke-width="0.4"/>
<rect x="664.8" y="240.4" width="34.2" height="26" fill="#c3c3c3" stroke="#333" stroke-width="0.6"/>
<line x1="664.8" y1="240.4" x2="699" y2="266.4" stroke="#333" stroke-width="0.45"/>
<line x1="664.8" y1="266.4" x2="699" y2="240.4" stroke="#333" stroke-width="0.45"/>
<rect x="671.6" y="233.2" width="20.6" height="3.3" fill="#c9c9c9" stroke="#555" stroke-width="0.4"/>
<text x="678.5" y="253" font-size="5" fill="#222" font-weight="bold">电梯</text>
<rect x="507.3" y="243" width="74.7" height="30.3" fill="#3c3c3c"/>
<rect x="509" y="246.4" width="12.3" height="26.9" fill="#fff"/>
<line x1="509" y1="273" x2="521.3" y2="273" stroke="#444" stroke-width="0.5"/>
<line x1="509.5" y1="273.3" x2="515.15" y2="277" stroke="#444" stroke-width="0.4"/>
<line x1="520.8" y1="273.3" x2="515.15" y2="277" stroke="#444" stroke-width="0.4"/>
<rect x="523.7" y="246.4" width="17.6" height="26.9" fill="#fff"/>
<line x1="523.7" y1="273" x2="541.3" y2="273" stroke="#444" stroke-width="0.5"/>
<line x1="524.2" y1="273.3" x2="532.5" y2="277" stroke="#444" stroke-width="0.4"/>
<line x1="540.8" y1="273.3" x2="532.5" y2="277" stroke="#444" stroke-width="0.4"/>
<rect x="545" y="246.4" width="15.7" height="26.9" fill="#fff"/>
<line x1="545" y1="273" x2="560.7" y2="273" stroke="#444" stroke-width="0.5"/>
<line x1="545.5" y1="273.3" x2="552.85" y2="277" stroke="#444" stroke-width="0.4"/>
<line x1="560.2" y1="273.3" x2="552.85" y2="277" stroke="#444" stroke-width="0.4"/>
<rect x="562.7" y="246.4" width="15.3" height="26.9" fill="#fff"/>
<line x1="562.7" y1="273" x2="578" y2="273" stroke="#444" stroke-width="0.5"/>
<line x1="563.2" y1="273.3" x2="570.35" y2="277" stroke="#444" stroke-width="0.4"/>
<line x1="577.5" y1="273.3" x2="570.35" y2="277" stroke="#444" stroke-width="0.4"/>
<text x="510.6" y="269.8" font-size="3.1" fill="#111" font-weight="bold" textLength="8.8" lengthAdjust="spacingAndGlyphs">风井前</text>
<text x="528" y="269.8" font-size="3.1" fill="#111" font-weight="bold" textLength="8.8" lengthAdjust="spacingAndGlyphs">风井后</text>
<text x="548.4" y="269.8" font-size="3.1" fill="#111" font-weight="bold" textLength="8.8" lengthAdjust="spacingAndGlyphs">水管井</text>
<text x="567.2" y="269.8" font-size="3.1" fill="#111" font-weight="bold" textLength="6" lengthAdjust="spacingAndGlyphs">强电</text>
<rect x="507.3" y="298" width="72.7" height="3.7" fill="#3c3c3c"/>
<rect x="507.3" y="310.7" width="45.4" height="3" fill="#3c3c3c"/>
<rect x="548.7" y="301.7" width="4.3" height="22" fill="#3c3c3c"/>
<rect x="548.7" y="345" width="4.3" height="11" fill="#3c3c3c"/>
<rect x="549.2" y="323.7" width="2.3" height="21.3" fill="#bdbdbd" stroke="#777" stroke-width="0.3"/>
<rect x="509" y="302.3" width="18.3" height="8" fill="#d0d0d0"/>
<rect x="530" y="302.3" width="17.3" height="8" fill="#d0d0d0"/>
<rect x="527.3" y="301.7" width="2.7" height="9" fill="#3c3c3c"/>
<rect x="507.3" y="301.7" width="1.7" height="9" fill="#3c3c3c"/>
<path d="M 510.0 310.3 Q 514.0 303 518.0 303.5 Q 522.0 303 526.0 310.3" fill="#f4f4f4" stroke="#555" stroke-width="0.3"/>
<path d="M 531.0 310.3 Q 535.0 303 539.0 303.5 Q 543.0 303 547.0 310.3" fill="#f4f4f4" stroke="#555" stroke-width="0.3"/>
<text x="515" y="309.8" font-size="2.4" fill="#222" font-weight="bold">风井</text>
<text x="536" y="309.8" font-size="2.4" fill="#222" font-weight="bold">风井</text>
<rect x="508" y="313.7" width="40.7" height="42.2" fill="#fcfcfc"/>
<rect x="518" y="316.3" width="29" height="33.4" fill="#c9c9c9" stroke="#444" stroke-width="0.6"/>
<line x1="518" y1="316.3" x2="547" y2="349.7" stroke="#444" stroke-width="0.45"/>
<line x1="518" y1="349.7" x2="547" y2="316.3" stroke="#444" stroke-width="0.45"/>
<rect x="511.3" y="323.3" width="3.7" height="19" fill="#ccc" stroke="#666" stroke-width="0.4"/>
<rect x="598.7" y="295" width="15.3" height="38.7" fill="#3c3c3c"/>
<rect x="602" y="302.3" width="8" height="29.4" fill="#fff"/>
<line x1="603" y1="303" x2="609.3" y2="322" stroke="#666" stroke-width="0.4"/>
<text x="602.8" y="330.5" font-size="2.2" fill="#111" font-weight="bold">管井</text>
<rect x="610.7" y="298" width="4" height="4" fill="#000"/>
<rect x="612" y="310.6" width="92.7" height="3.1" fill="#3c3c3c"/>
<rect x="642.7" y="304.3" width="34" height="6.3" fill="#fff" stroke="#333" stroke-width="0.6"/>
<line x1="642.7" y1="304.3" x2="649.5" y2="310.6" stroke="#888" stroke-width="0.3"/>
<line x1="642.7" y1="310.6" x2="649.5" y2="304.3" stroke="#888" stroke-width="0.3"/>
<line x1="649.5" y1="304.3" x2="656.3" y2="310.6" stroke="#888" stroke-width="0.3"/>
<line x1="649.5" y1="310.6" x2="656.3" y2="304.3" stroke="#888" stroke-width="0.3"/>
<line x1="656.3" y1="304.3" x2="663.1" y2="310.6" stroke="#888" stroke-width="0.3"/>
<line x1="656.3" y1="310.6" x2="663.1" y2="304.3" stroke="#888" stroke-width="0.3"/>
<line x1="663.1" y1="304.3" x2="669.9" y2="310.6" stroke="#888" stroke-width="0.3"/>
<line x1="663.1" y1="310.6" x2="669.9" y2="304.3" stroke="#888" stroke-width="0.3"/>
<line x1="669.9" y1="304.3" x2="676.7" y2="310.6" stroke="#888" stroke-width="0.3"/>
<line x1="669.9" y1="310.6" x2="676.7" y2="304.3" stroke="#888" stroke-width="0.3"/>
<rect x="634" y="304.3" width="8" height="6.3" fill="#fafafa" stroke="#aaa" stroke-width="0.3"/>
<rect x="678" y="304.3" width="6.7" height="6.3" fill="#fafafa" stroke="#aaa" stroke-width="0.3"/>
<polygon points="615.5,306 632.7,308 632.7,310.6 615.5,310.6" fill="#fff" stroke="#222" stroke-width="0.4"/>
<polygon points="616,307.5 630,309 630,310.6 616,310.6" fill="#222"/>
<polygon points="704,306 686.7,308 686.7,310.6 704,310.6" fill="#fff" stroke="#222" stroke-width="0.4"/>
<polygon points="703.5,307.5 689.5,309 689.5,310.6 703.5,310.6" fill="#222"/>
<rect x="634" y="313.7" width="50" height="42" fill="#f4f4f4"/>
<line x1="634" y1="313.7" x2="634" y2="355.7" stroke="#333" stroke-width="0.8"/>
<line x1="637.85" y1="313.7" x2="637.85" y2="355.7" stroke="#333" stroke-width="0.8"/>
<line x1="641.7" y1="313.7" x2="641.7" y2="355.7" stroke="#333" stroke-width="0.8"/>
<line x1="645.55" y1="313.7" x2="645.55" y2="355.7" stroke="#333" stroke-width="0.8"/>
<line x1="649.4" y1="313.7" x2="649.4" y2="355.7" stroke="#333" stroke-width="0.8"/>
<line x1="653.25" y1="313.7" x2="653.25" y2="355.7" stroke="#333" stroke-width="0.8"/>
<line x1="657.1" y1="313.7" x2="657.1" y2="355.7" stroke="#333" stroke-width="0.8"/>
<line x1="660.95" y1="313.7" x2="660.95" y2="355.7" stroke="#333" stroke-width="0.8"/>
<line x1="664.8" y1="313.7" x2="664.8" y2="355.7" stroke="#333" stroke-width="0.8"/>
<line x1="668.65" y1="313.7" x2="668.65" y2="355.7" stroke="#333" stroke-width="0.8"/>
<line x1="672.5" y1="313.7" x2="672.5" y2="355.7" stroke="#333" stroke-width="0.8"/>
<line x1="676.35" y1="313.7" x2="676.35" y2="355.7" stroke="#333" stroke-width="0.8"/>
<line x1="680.2" y1="313.7" x2="680.2" y2="355.7" stroke="#333" stroke-width="0.8"/>
<line x1="684.05" y1="313.7" x2="684.05" y2="355.7" stroke="#333" stroke-width="0.8"/>
<line x1="634" y1="324" x2="684" y2="324" stroke="#555" stroke-width="0.4"/>
<line x1="634" y1="344.8" x2="684" y2="344.8" stroke="#555" stroke-width="0.4"/>
<rect x="631.7" y="333.3" width="54.3" height="3" fill="#b5b5b5" stroke="#333" stroke-width="0.5"/>
<path d="M 684.3 324 L 695 324 L 695 344.7 L 684.3 344.7" fill="none" stroke="#555" stroke-width="0.4"/>
<path d="M 634 314.5 A 21 21 0 0 0 634 355.5" fill="none" stroke="#444" stroke-width="0.4" stroke-dasharray="3 1.4"/>
<line x1="653" y1="336" x2="655" y2="355" stroke="#333" stroke-width="0.4"/>
<line x1="656" y1="336" x2="654" y2="355" stroke="#333" stroke-width="0.4"/>
<text x="626.5" y="325.5" font-size="2.8" fill="#222">下</text>
<text x="626.5" y="348" font-size="2.8" fill="#222">上</text>
<text x="622" y="338" font-size="3" fill="#222">门厅</text>
</g>
<g id="p60_right_rooms_a">
<rect x="548" y="123.3" width="55.5" height="18" fill="#f0f0f0"/>
<line x1="548" y1="125.5" x2="603.5" y2="125.5" stroke="#dcdcdc" stroke-width="0.4"/>
<line x1="548" y1="128.3" x2="603.5" y2="128.3" stroke="#dcdcdc" stroke-width="0.4"/>
<line x1="548" y1="131.1" x2="603.5" y2="131.1" stroke="#dcdcdc" stroke-width="0.4"/>
<line x1="548" y1="133.9" x2="603.5" y2="133.9" stroke="#dcdcdc" stroke-width="0.4"/>
<line x1="548" y1="136.7" x2="603.5" y2="136.7" stroke="#dcdcdc" stroke-width="0.4"/>
<line x1="548" y1="139.5" x2="603.5" y2="139.5" stroke="#dcdcdc" stroke-width="0.4"/>
<line x1="548" y1="141.3" x2="603.5" y2="141.3" stroke="#bbb" stroke-width="0.4"/>
<rect x="572.4" y="126.7" width="7.2" height="10.6" fill="#fff" stroke="#555" stroke-width="0.6" rx="0.8"/>
<circle cx="567" cy="132.3" r="2.6" fill="#fff" stroke="#555" stroke-width="0.5"/>
<circle cx="584.3" cy="132.3" r="2.6" fill="#fff" stroke="#555" stroke-width="0.5"/>
<rect x="543.7" y="151.3" width="32.3" height="28" fill="#fff" stroke="#333" stroke-width="0.8"/>
<path d="M 576 152 L 545 165.3 L 576 178.6" fill="none" stroke="#999" stroke-width="0.35"/>
<rect x="576.7" y="153.6" width="7" height="23.7" fill="#fff" stroke="#444" stroke-width="0.6" rx="1.2"/>
<circle cx="547.3" cy="147.3" r="3.7" fill="#f3f0bd" stroke="#b9b48a" stroke-width="0.4"/>
<circle cx="547.3" cy="147.3" r="2.04" fill="#ece79a"/>
<circle cx="547.3" cy="184" r="3.7" fill="#f3f0bd" stroke="#b9b48a" stroke-width="0.4"/>
<circle cx="547.3" cy="184" r="2.04" fill="#ece79a"/>
<text x="586.5" y="165" font-size="3.2" fill="#555">次卧</text>
<path d="M 603.5 173 A 15 15 0 0 0 588.5 188" fill="none" stroke="#777" stroke-width="0.4"/>
<rect x="543.3" y="191.3" width="8" height="1.4" fill="#3c3c3c"/>
<rect x="573" y="191.3" width="11" height="1.4" fill="#3c3c3c"/>
<line x1="553.5" y1="191.8" x2="558" y2="191.8" stroke="#333" stroke-width="0.6"/>
<line x1="566" y1="191.8" x2="571" y2="191.8" stroke="#333" stroke-width="0.6"/>
<rect x="543.7" y="192.7" width="7.6" height="19.3" fill="#fff" stroke="#333" stroke-width="0.8"/>
<line x1="547.5" y1="194" x2="547.5" y2="211" stroke="#aaa" stroke-width="0.3"/>
<line x1="545.2" y1="195" x2="549.8" y2="195" stroke="#bbb" stroke-width="0.3"/>
<line x1="545.2" y1="197.3" x2="549.8" y2="197.3" stroke="#bbb" stroke-width="0.3"/>
<line x1="545.2" y1="199.6" x2="549.8" y2="199.6" stroke="#bbb" stroke-width="0.3"/>
<line x1="545.2" y1="201.9" x2="549.8" y2="201.9" stroke="#bbb" stroke-width="0.3"/>
<line x1="545.2" y1="204.2" x2="549.8" y2="204.2" stroke="#bbb" stroke-width="0.3"/>
<line x1="545.2" y1="206.5" x2="549.8" y2="206.5" stroke="#bbb" stroke-width="0.3"/>
<line x1="545.2" y1="208.8" x2="549.8" y2="208.8" stroke="#bbb" stroke-width="0.3"/>
<rect x="573" y="192.7" width="8" height="19.3" fill="#fff" stroke="#333" stroke-width="0.8"/>
<line x1="577" y1="194" x2="577" y2="211" stroke="#aaa" stroke-width="0.3"/>
<line x1="574.5" y1="195" x2="579.5" y2="195" stroke="#bbb" stroke-width="0.3"/>
<line x1="574.5" y1="197.3" x2="579.5" y2="197.3" stroke="#bbb" stroke-width="0.3"/>
<line x1="574.5" y1="199.6" x2="579.5" y2="199.6" stroke="#bbb" stroke-width="0.3"/>
<line x1="574.5" y1="201.9" x2="579.5" y2="201.9" stroke="#bbb" stroke-width="0.3"/>
<line x1="574.5" y1="204.2" x2="579.5" y2="204.2" stroke="#bbb" stroke-width="0.3"/>
<line x1="574.5" y1="206.5" x2="579.5" y2="206.5" stroke="#bbb" stroke-width="0.3"/>
<line x1="574.5" y1="208.8" x2="579.5" y2="208.8" stroke="#bbb" stroke-width="0.3"/>
<rect x="543.3" y="212" width="38.7" height="2.7" fill="#3c3c3c"/>
<rect x="581.3" y="191.3" width="2.7" height="32" fill="#3c3c3c"/>
<text x="558.5" y="204.7" font-size="2.6" fill="#555">衣帽间</text>
<rect x="543.3" y="215" width="38" height="8" fill="#fff" stroke="#666" stroke-width="0.4"/>
<rect x="543.3" y="215" width="6" height="8" fill="#fff" stroke="#888" stroke-width="0.35"/>
<line x1="543.3" y1="215" x2="549.3" y2="223" stroke="#888" stroke-width="0.28"/>
<line x1="543.3" y1="223" x2="549.3" y2="215" stroke="#888" stroke-width="0.28"/>
<rect x="560" y="216.3" width="12" height="6.1" fill="#c5dcea" stroke="#8fb0c4" stroke-width="0.4"/>
<line x1="566" y1="214.7" x2="566" y2="217" stroke="#777" stroke-width="0.4"/>
<rect x="528.3" y="222.7" width="20.4" height="7.3" fill="#fff" stroke="#333" stroke-width="0.7"/>
<rect x="529.3" y="223.7" width="6.7" height="5.3" fill="#b5b5b5"/>
<rect x="540" y="231.3" width="9" height="10.7" fill="#fff" stroke="#888" stroke-width="0.35"/>
<line x1="540" y1="231.3" x2="549" y2="242" stroke="#888" stroke-width="0.28"/>
<line x1="540" y1="242" x2="549" y2="231.3" stroke="#888" stroke-width="0.28"/>
<text x="558.5" y="235" font-size="2.4" fill="#666">主卫生间</text>
<path d="M 584 225 A 10 10 0 0 0 594 235" fill="none" stroke="#bbb" stroke-width="0.3" stroke-dasharray="1 0.8"/>
<rect x="602.7" y="224" width="7.3" height="31.3" fill="#fff" stroke="#777" stroke-width="0.4"/>
<line x1="602.7" y1="224" x2="610" y2="239.5" stroke="#999" stroke-width="0.3"/>
<line x1="602.7" y1="239.5" x2="610" y2="224" stroke="#999" stroke-width="0.3"/>
<line x1="602.7" y1="239.5" x2="610" y2="255" stroke="#999" stroke-width="0.3"/>
<line x1="602.7" y1="255" x2="610" y2="239.5" stroke="#999" stroke-width="0.3"/>
<line x1="602.7" y1="239.5" x2="610" y2="239.5" stroke="#777" stroke-width="0.4"/>
<rect x="601.7" y="255.3" width="9" height="2.2" fill="#666"/>
<path d="M 602.6 254.7 A 17.3 17.3 0 0 1 585.3 272" fill="none" stroke="#555" stroke-width="0.4"/>
<rect x="582.5" y="254.5" width="1.8" height="18.5" fill="#fff" stroke="#555" stroke-width="0.3"/>
<path d="M 614.5 279 A 10.5 10.5 0 0 0 604 289.5" fill="none" stroke="#444" stroke-width="0.4"/>
<path d="M 614.5 300 A 10.5 10.5 0 0 1 604 289.5" fill="none" stroke="#444" stroke-width="0.4"/>
<path d="M 580 300.5 A 18 18 0 0 0 598.5 316" fill="none" stroke="#444" stroke-width="0.4"/>
<path d="M 580 300.5 L 583 304.5" fill="none" stroke="#444" stroke-width="0.4"/>
<path d="M 601 336 A 13 13 0 0 1 614 355" fill="none" stroke="#444" stroke-width="0.4"/>
<rect x="600" y="353.8" width="14" height="1.8" fill="#999" stroke="#444" stroke-width="0.3"/>
<polygon points="555,351.5 567,355 566.5,356 554.6,353" fill="#fff" stroke="#222" stroke-width="0.5"/>
<text x="576" y="343" font-size="4" fill="#222" font-weight="bold">前室</text>
<text x="697.5" y="290" font-size="2.4" fill="#888">电梯厅</text>
<text x="659" y="300.3" font-size="2" fill="#888">前厅</text>
<rect x="604" y="130.7" width="2.7" height="61.3" fill="#555"/>
<rect x="613.3" y="130.7" width="1.7" height="27.3" fill="#555"/>
<rect x="607.3" y="132" width="6" height="25.3" fill="#fff" stroke="#666" stroke-width="0.4"/>
<rect x="609.3" y="143.5" width="2" height="1.8" fill="#444"/>
<rect x="609.3" y="146.5" width="2" height="1.8" fill="#444"/>
<rect x="609.3" y="149.5" width="2" height="1.8" fill="#444"/>
<line x1="607.3" y1="139.5" x2="613.3" y2="139.5" stroke="#777" stroke-width="0.4"/>
<rect x="606.7" y="157.3" width="10.8" height="2.2" fill="#555"/>
<rect x="608" y="162.7" width="9.3" height="24" fill="#fff" stroke="#777" stroke-width="0.5"/>
<rect x="609.6" y="170.7" width="6.4" height="8" fill="#c5dcea" stroke="#8fb0c4" stroke-width="0.4"/>
<rect x="600" y="190.7" width="23.3" height="2" fill="#3c3c3c"/>
<path d="M 616 147 L 622.5 147 A 3.1 3.3 0 0 1 622.5 153.6 L 616 153.6 Z" fill="#fff" stroke="#444" stroke-width="0.5"/>
<rect x="615.3" y="147" width="2.2" height="6.6" fill="#222"/>
<line x1="617" y1="140.3" x2="640.5" y2="140.3" stroke="#999" stroke-width="0.4"/>
<line x1="617" y1="131.5" x2="617" y2="140.3" stroke="#999" stroke-width="0.4"/>
<line x1="617" y1="132.5" x2="621" y2="132.5" stroke="#999" stroke-width="0.3"/>
<path d="M 627 140.5 A 9.5 9.5 0 0 0 636.5 150" fill="none" stroke="#888" stroke-width="0.35"/>
<line x1="636.5" y1="140.5" x2="636.5" y2="150" stroke="#888" stroke-width="0.35"/>
<path d="M 624 192 A 12.5 12.5 0 0 1 636.5 179.5" fill="none" stroke="#888" stroke-width="0.35"/>
<line x1="636.5" y1="179.5" x2="636.5" y2="192" stroke="#888" stroke-width="0.35"/>
<text x="625.5" y="159" font-size="3" fill="#666">客卫</text>
<rect x="640.7" y="122.7" width="2.3" height="74.6" fill="#555"/>
<rect x="639.3" y="192" width="3.7" height="5.3" fill="#3c3c3c"/>
<text x="672" y="210" font-size="2.6" fill="#888">玄关</text>
<text x="626" y="210" font-size="2.8" fill="#888">过厅</text>
<line x1="643" y1="144" x2="704.3" y2="144" stroke="#cfcfcf" stroke-width="0.5"/>
<line x1="643" y1="174" x2="704.3" y2="174" stroke="#cfcfcf" stroke-width="0.5"/>
<line x1="673.3" y1="122.7" x2="673.3" y2="144" stroke="#cfcfcf" stroke-width="0.5"/>
<line x1="673.3" y1="174" x2="673.3" y2="192" stroke="#cfcfcf" stroke-width="0.5"/>
<rect x="654" y="144" width="38" height="30" fill="none" stroke="#d2d2d2" stroke-width="0.5"/>
<rect x="667.7" y="147.3" width="12" height="24" fill="#fff" stroke="#777" stroke-width="0.7" rx="1.2"/>
<rect x="657.3" y="150.3" width="7.7" height="7.3" fill="#fff" stroke="#555" stroke-width="0.7"/>
<rect x="657.3" y="161.3" width="7.7" height="7.4" fill="#fff" stroke="#555" stroke-width="0.7"/>
<rect x="682.4" y="150.3" width="7.6" height="7.3" fill="#fff" stroke="#555" stroke-width="0.7"/>
<rect x="682.4" y="161.3" width="7.6" height="7.4" fill="#fff" stroke="#555" stroke-width="0.7"/>
<text x="670.3" y="161" font-size="3" fill="#666">茶室</text>
<line x1="664" y1="190.8" x2="667" y2="190.8" stroke="#333" stroke-width="0.6"/>
<line x1="680" y1="190.8" x2="683" y2="190.8" stroke="#333" stroke-width="0.6"/>
<line x1="644" y1="197.3" x2="644" y2="217.3" stroke="#c2c2c2" stroke-width="0.4"/>
<line x1="652.7" y1="197.3" x2="652.7" y2="217.3" stroke="#c2c2c2" stroke-width="0.4"/>
<line x1="662.7" y1="197.3" x2="662.7" y2="217.3" stroke="#c2c2c2" stroke-width="0.4"/>
<line x1="684.3" y1="197.3" x2="684.3" y2="217.3" stroke="#c2c2c2" stroke-width="0.4"/>
<line x1="694" y1="197.3" x2="694" y2="217.3" stroke="#c2c2c2" stroke-width="0.4"/>
<line x1="703.3" y1="197.3" x2="703.3" y2="217.3" stroke="#c2c2c2" stroke-width="0.4"/>
<rect x="639.6" y="217.6" width="73.7" height="4.4" fill="#fff" stroke="#333" stroke-width="0.5"/>
<rect x="662.7" y="217.6" width="21.6" height="4.4" fill="#bbb"/>
<rect x="670.5" y="218.3" width="6" height="3.3" fill="#fff" stroke="#555" stroke-width="0.4"/>
<line x1="662.7" y1="217.6" x2="662.7" y2="222" stroke="#333" stroke-width="0.4"/>
<line x1="684.3" y1="217.6" x2="684.3" y2="222" stroke="#333" stroke-width="0.4"/>
<rect x="718" y="121.2" width="48.4" height="10.8" fill="#fafafa"/>
<line x1="718" y1="132.7" x2="766.4" y2="132.7" stroke="#aaa" stroke-width="1.6"/>
<path d="M 718 121.5 L 742 132 L 766.4 121.5 M 718 132 L 730 126.5 M 766.4 132 L 754 126.5" fill="none" stroke="#ccc" stroke-width="0.35"/>
<line x1="718" y1="124" x2="766.4" y2="124" stroke="#999" stroke-width="0.4" stroke-dasharray="3 1.5"/>
<rect x="704.7" y="141.8" width="2.6" height="55.7" fill="#555"/>
<rect x="707.3" y="141.8" width="10" height="42.2" fill="#fff" stroke="#777" stroke-width="0.4"/>
<circle cx="711.7" cy="157" r="2.1" fill="#e4e4e4" stroke="#999" stroke-width="0.4"/>
<circle cx="711.7" cy="157" r="0.9" fill="#bbb"/>
<circle cx="711.7" cy="169" r="2.1" fill="#e4e4e4" stroke="#999" stroke-width="0.4"/>
<circle cx="711.7" cy="169" r="0.9" fill="#bbb"/>
<line x1="707.3" y1="163" x2="717.3" y2="163" stroke="#999" stroke-width="0.3"/>
<line x1="707.3" y1="175" x2="717.3" y2="175" stroke="#999" stroke-width="0.3"/>
<rect x="708" y="184" width="9.3" height="10.3" fill="#fff" stroke="#333" stroke-width="0.9"/>
<line x1="708" y1="184" x2="717.3" y2="194.3" stroke="#888" stroke-width="0.3"/>
<rect x="704.7" y="194.3" width="22" height="3.4" fill="#555"/>
<rect x="740.7" y="194.3" width="28" height="3.4" fill="#555"/>
<line x1="728.5" y1="196" x2="732" y2="196" stroke="#444" stroke-width="0.4"/>
<line x1="735" y1="196" x2="739" y2="196" stroke="#444" stroke-width="0.4"/>
<rect x="766.7" y="141.7" width="11.3" height="43" fill="#fff" stroke="#888" stroke-width="0.4"/>
<rect x="767.7" y="157.3" width="7" height="11.7" fill="#c5dcea" stroke="#8fb0c4" stroke-width="0.4"/>
<line x1="774.7" y1="163" x2="777" y2="163" stroke="#666" stroke-width="0.4"/>
<rect x="767.2" y="173.5" width="9.8" height="7.5" fill="#fff" stroke="#aaa" stroke-width="0.3"/>
<line x1="767.2" y1="173.5" x2="777" y2="181" stroke="#aaa" stroke-width="0.24"/>
<line x1="767.2" y1="181" x2="777" y2="173.5" stroke="#aaa" stroke-width="0.24"/>
<rect x="745.3" y="184.7" width="21.4" height="9.6" fill="#fff" stroke="#555" stroke-width="0.5"/>
<path d="M 746 194 L 756 185.5 L 766 194" fill="none" stroke="#ccc" stroke-width="0.3"/>
<text x="739.5" y="161.8" font-size="2.8" fill="#777">厨房</text>
<rect x="714.4" y="217.3" width="10.3" height="38.7" fill="#fff" stroke="#444" stroke-width="0.6"/>
<circle cx="719.7" cy="225" r="2.6" fill="#d5e6f0" stroke="#5d8fb0" stroke-width="0.5"/>
<circle cx="719.7" cy="225" r="1.3" fill="#fff" stroke="#5d8fb0" stroke-width="0.3"/>
<rect x="714.4" y="256" width="10.3" height="12" fill="#fff" stroke="#888" stroke-width="0.35"/>
<line x1="714.4" y1="256" x2="724.7" y2="268" stroke="#888" stroke-width="0.28"/>
<line x1="714.4" y1="268" x2="724.7" y2="256" stroke="#888" stroke-width="0.28"/>
<rect x="743.3" y="216.7" width="15.3" height="40.6" fill="#fff" stroke="#222" stroke-width="0.9"/>
<rect x="754.5" y="234" width="8.2" height="8" fill="#fff" stroke="#777" stroke-width="0.4"/>
<rect x="754.5" y="245" width="8.2" height="8" fill="#fff" stroke="#777" stroke-width="0.4"/>
<line x1="753.5" y1="232" x2="753.5" y2="256" stroke="#999" stroke-width="0.3" stroke-dasharray="0.8 0.6"/>
<text x="732.5" y="239" font-size="2.8" fill="#777">西厨</text>
<text x="786" y="238" font-size="2.8" fill="#999">餐厅</text>
<rect x="800.3" y="189.7" width="29.2" height="7.6" fill="#fff" stroke="#444" stroke-width="0.6"/>
<circle cx="815.3" cy="232.5" r="31.4" fill="#b5b5b5"/>
<rect x="817.95" y="207.10" width="8.6" height="8" fill="#fff" stroke="#9a9a9a" stroke-width="0.4" transform="rotate(18 822.25 211.10)"/>
<rect x="829.20" y="215.27" width="8.6" height="8" fill="#fff" stroke="#9a9a9a" stroke-width="0.4" transform="rotate(54 833.50 219.27)"/>
<rect x="833.50" y="228.50" width="8.6" height="8" fill="#fff" stroke="#9a9a9a" stroke-width="0.4" transform="rotate(90 837.80 232.50)"/>
<rect x="829.20" y="241.73" width="8.6" height="8" fill="#fff" stroke="#9a9a9a" stroke-width="0.4" transform="rotate(126 833.50 245.73)"/>
<rect x="817.95" y="249.90" width="8.6" height="8" fill="#fff" stroke="#9a9a9a" stroke-width="0.4" transform="rotate(162 822.25 253.90)"/>
<rect x="804.05" y="249.90" width="8.6" height="8" fill="#fff" stroke="#9a9a9a" stroke-width="0.4" transform="rotate(198 808.35 253.90)"/>
<rect x="792.80" y="241.73" width="8.6" height="8" fill="#fff" stroke="#9a9a9a" stroke-width="0.4" transform="rotate(234 797.10 245.73)"/>
<rect x="788.50" y="228.50" width="8.6" height="8" fill="#fff" stroke="#9a9a9a" stroke-width="0.4" transform="rotate(270 792.80 232.50)"/>
<rect x="792.80" y="215.27" width="8.6" height="8" fill="#fff" stroke="#9a9a9a" stroke-width="0.4" transform="rotate(306 797.10 219.27)"/>
<rect x="804.05" y="207.10" width="8.6" height="8" fill="#fff" stroke="#9a9a9a" stroke-width="0.4" transform="rotate(342 808.35 211.10)"/>
<circle cx="815.3" cy="232.5" r="15.2" fill="#fdfdfd" stroke="#222" stroke-width="1.1"/>
<circle cx="815.3" cy="232.5" r="3" fill="none" stroke="#e2e2e2" stroke-width="0.5"/>
<circle cx="815.3" cy="232.5" r="5.2" fill="none" stroke="#e2e2e2" stroke-width="0.5"/>
<circle cx="815.3" cy="232.5" r="7.5" fill="none" stroke="#e2e2e2" stroke-width="0.5"/>
<rect x="714.4" y="268.3" width="10.9" height="7.2" fill="#fff" stroke="#444" stroke-width="0.5"/>
<rect x="724.3" y="268.3" width="1.3" height="7.2" fill="#333"/>
<rect x="726.3" y="268.3" width="13" height="7.2" fill="#fff" stroke="#999" stroke-width="0.35"/>
<line x1="726.3" y1="268.3" x2="739.3" y2="275.5" stroke="#999" stroke-width="0.28"/>
<line x1="726.3" y1="275.5" x2="739.3" y2="268.3" stroke="#999" stroke-width="0.28"/>
<rect x="739.3" y="268.3" width="2" height="7.2" fill="#444"/>
<rect x="741.3" y="268.3" width="12.7" height="7.2" fill="#fff" stroke="#999" stroke-width="0.35"/>
<line x1="741.3" y1="268.3" x2="754" y2="275.5" stroke="#999" stroke-width="0.28"/>
<line x1="741.3" y1="275.5" x2="754" y2="268.3" stroke="#999" stroke-width="0.28"/>
<rect x="754.4" y="268.3" width="11.6" height="7.2" fill="#fff" stroke="#333" stroke-width="1.1"/>
<rect x="768" y="268.3" width="1.3" height="7.2" fill="#444"/>
<rect x="795" y="268.3" width="1.3" height="7.2" fill="#444"/>
<rect x="797.8" y="268.3" width="11.8" height="7.2" fill="#fff" stroke="#333" stroke-width="1.1"/>
<rect x="810.6" y="268.3" width="12.1" height="7.2" fill="#fff" stroke="#999" stroke-width="0.35"/>
<line x1="810.6" y1="268.3" x2="822.7" y2="275.5" stroke="#999" stroke-width="0.28"/>
<line x1="810.6" y1="275.5" x2="822.7" y2="268.3" stroke="#999" stroke-width="0.28"/>
<rect x="822.9" y="268.3" width="2.3" height="7.2" fill="#444"/>
<rect x="825.4" y="268.3" width="12.3" height="7.2" fill="#fff" stroke="#999" stroke-width="0.35"/>
<line x1="825.4" y1="268.3" x2="837.7" y2="275.5" stroke="#999" stroke-width="0.28"/>
<line x1="825.4" y1="275.5" x2="837.7" y2="268.3" stroke="#999" stroke-width="0.28"/>
<rect x="839.7" y="268.3" width="10" height="7.2" fill="#fff" stroke="#333" stroke-width="1.1"/>
<rect x="714.4" y="304.2" width="10.9" height="7.2" fill="#fff" stroke="#444" stroke-width="0.5"/>
<rect x="724.3" y="304.2" width="1.3" height="7.2" fill="#333"/>
<rect x="726.3" y="304.2" width="13" height="7.2" fill="#fff" stroke="#999" stroke-width="0.35"/>
<line x1="726.3" y1="304.2" x2="739.3" y2="311.4" stroke="#999" stroke-width="0.28"/>
<line x1="726.3" y1="311.4" x2="739.3" y2="304.2" stroke="#999" stroke-width="0.28"/>
<rect x="739.3" y="304.2" width="2" height="7.2" fill="#444"/>
<rect x="741.3" y="304.2" width="12.7" height="7.2" fill="#fff" stroke="#999" stroke-width="0.35"/>
<line x1="741.3" y1="304.2" x2="754" y2="311.4" stroke="#999" stroke-width="0.28"/>
<line x1="741.3" y1="311.4" x2="754" y2="304.2" stroke="#999" stroke-width="0.28"/>
<rect x="754.4" y="304.2" width="11.6" height="7.2" fill="#fff" stroke="#333" stroke-width="1.1"/>
<rect x="768" y="304.2" width="1.3" height="7.2" fill="#444"/>
<rect x="795" y="304.2" width="1.3" height="7.2" fill="#444"/>
<rect x="797.8" y="304.2" width="11.8" height="7.2" fill="#fff" stroke="#333" stroke-width="1.1"/>
<rect x="810.6" y="304.2" width="12.1" height="7.2" fill="#fff" stroke="#999" stroke-width="0.35"/>
<line x1="810.6" y1="304.2" x2="822.7" y2="311.4" stroke="#999" stroke-width="0.28"/>
<line x1="810.6" y1="311.4" x2="822.7" y2="304.2" stroke="#999" stroke-width="0.28"/>
<rect x="822.9" y="304.2" width="2.3" height="7.2" fill="#444"/>
<rect x="825.4" y="304.2" width="12.3" height="7.2" fill="#fff" stroke="#999" stroke-width="0.35"/>
<line x1="825.4" y1="304.2" x2="837.7" y2="311.4" stroke="#999" stroke-width="0.28"/>
<line x1="825.4" y1="311.4" x2="837.7" y2="304.2" stroke="#999" stroke-width="0.28"/>
<rect x="839.7" y="304.2" width="10" height="7.2" fill="#fff" stroke="#333" stroke-width="1.1"/>
<circle cx="760.7" cy="277.7" r="1.5" fill="#f3e98f"/>
<circle cx="760.7" cy="301.6" r="1.5" fill="#f3e98f"/>
<circle cx="803" cy="277.7" r="1.5" fill="#f3e98f"/>
<circle cx="803" cy="301.6" r="1.5" fill="#f3e98f"/>
<path d="M 809.5 280.5 Q 815 279 816.5 283 Q 817.5 286 814.5 288 Q 816 292 811 293.5 Q 806 294.5 804.5 291 Q 803.5 288 806.5 286.5 Q 805.5 282 809.5 280.5 Z" fill="#fff" stroke="#aaa" stroke-width="0.4"/>
<path d="M 850 310.7 L 850 298.7 L 861.7 298.7 L 861.7 305 A 5.7 5.7 0 0 1 856 310.7 Z" fill="#fff" stroke="#666" stroke-width="0.5"/>
<text x="831" y="293.3" font-size="2.8" fill="#666">水景</text>
<text x="778" y="290.5" font-size="2.6" fill="#999">门厅</text>
<line x1="777.6" y1="199" x2="777.6" y2="433" stroke="#c9c9c9" stroke-width="0.35"/>
<line x1="714" y1="289" x2="868" y2="289" stroke="#d9d9d9" stroke-width="0.35"/>
</g>
<g id="p61_right_rooms_b">
<rect x="840.2" y="328.5" width="15.2" height="50" fill="#fff" stroke="#333" stroke-width="0.8" rx="1.8"/>
<rect x="841.6" y="330" width="12.4" height="47" fill="none" stroke="#bbb" stroke-width="0.3" rx="1.2"/>
<rect x="843.8" y="322.3" width="6.2" height="4.5" fill="#f6f0a8" stroke="#d9cf6a" stroke-width="0.3"/>
<rect x="845.3" y="323.3" width="3.2" height="2.5" fill="#efe06a"/>
<rect x="843.8" y="380.3" width="6.2" height="4.4" fill="#f6f0a8" stroke="#d9cf6a" stroke-width="0.3"/>
<rect x="845.3" y="381.3" width="3.2" height="2.5" fill="#efe06a"/>
<path d="M 812.6 342.8 C 820.5 342.5 824.5 348 824.2 354.8 C 824 361.5 818.5 366.2 811.5 365.8 C 804.5 365.4 800.8 360 801 353.8 C 801.3 347 806 343 812.6 342.8 Z" fill="#fff" stroke="#777" stroke-width="0.5"/>
<rect x="763.5" y="338.9" width="24.5" height="29.2" fill="#fff" stroke="#333" stroke-width="0.8" rx="0.8"/>
<rect x="773.9" y="353.2" width="3.5" height="13.2" fill="#fff" stroke="#555" stroke-width="0.5"/>
<circle cx="789.4" cy="343.3" r="1.8" fill="#fff" stroke="#888" stroke-width="0.4"/>
<rect x="742.1" y="343.6" width="11.4" height="20.6" fill="#fff" stroke="#555" stroke-width="0.6" rx="5.7"/>
<rect x="721.25" y="335.65" width="11.50" height="11.50" rx="3.80" fill="#fff" stroke="#333" stroke-width="0.7" transform="rotate(35 727.00 341.40)"/>
<rect x="721.25" y="361.15" width="11.50" height="11.50" rx="3.80" fill="#fff" stroke="#333" stroke-width="0.7" transform="rotate(-35 727.00 366.90)"/>
<circle cx="733.7" cy="333" r="2.1" fill="#fff" stroke="#999" stroke-width="0.4"/>
<circle cx="733.2" cy="375" r="2.1" fill="#fff" stroke="#999" stroke-width="0.4"/>
<circle cx="803.1" cy="323.2" r="3.8" fill="#fff" stroke="#555" stroke-width="0.5"/>
<circle cx="819.7" cy="323.2" r="3.5" fill="#fff" stroke="#555" stroke-width="0.5"/>
<rect x="792.4" y="379.9" width="11.3" height="9.6" fill="#fff" stroke="#333" stroke-width="0.9" rx="1.6"/>
<rect x="793.6" y="381.3" width="8.9" height="8.2" fill="none" stroke="#999" stroke-width="0.3" rx="1"/>
<rect x="819.2" y="379.9" width="11.2" height="9.6" fill="#fff" stroke="#333" stroke-width="0.9" rx="1.6"/>
<rect x="820.4" y="381.3" width="8.8" height="8.2" fill="none" stroke="#999" stroke-width="0.3" rx="1"/>
<circle cx="811.3" cy="384.7" r="2.6" fill="#fff" stroke="#888" stroke-width="0.4"/>
<text x="809" y="340.5" font-size="2.6" fill="#888">客厅</text>
<line x1="714" y1="353.5" x2="868" y2="353.5" stroke="#d4d4d4" stroke-width="0.35"/>
<rect x="757.5" y="411.3" width="49" height="8.9" fill="#fbfbfb" stroke="#999" stroke-width="0.5"/>
<rect x="760" y="413.5" width="22" height="4.5" fill="none" stroke="#aaa" stroke-width="0.4"/>
<rect x="783.5" y="413.5" width="20.5" height="4.5" fill="none" stroke="#aaa" stroke-width="0.4"/>
<text x="767" y="405" font-size="2.2" fill="#777">电视</text>
<path d="M 773 404.5 L 778 404.5 L 783 411" fill="none" stroke="#999" stroke-width="0.3"/>
<rect x="776.6" y="420.2" width="51" height="11.6" fill="#d2d2d2"/>
<rect x="827.6" y="419" width="21.4" height="12.8" fill="#fbfbfb"/>
<line x1="827.6" y1="423.5" x2="849" y2="423.5" stroke="#ccc" stroke-width="0.4"/>
<line x1="827.6" y1="427.5" x2="849" y2="427.5" stroke="#ccc" stroke-width="0.4"/>
<text x="813" y="426" font-size="2.6" fill="#777">水景</text>
<rect x="799.3" y="430" width="1.4" height="3" fill="#fff" stroke="#222" stroke-width="0.4"/>
<rect x="824.3" y="430" width="1.4" height="3" fill="#fff" stroke="#222" stroke-width="0.4"/>
<rect x="770.4" y="417.5" width="5.4" height="16" fill="#fff" stroke="#555" stroke-width="0.4"/>
<rect x="545" y="364" width="24" height="30" fill="#efefef"/>
<rect x="545" y="369.5" width="4.7" height="4.7" fill="#fff" stroke="#999" stroke-width="0.3"/>
<line x1="545" y1="369.5" x2="549.7" y2="374.2" stroke="#999" stroke-width="0.24"/>
<line x1="545" y1="374.2" x2="549.7" y2="369.5" stroke="#999" stroke-width="0.24"/>
<rect x="545" y="374.4" width="4.7" height="4.7" fill="#fff" stroke="#999" stroke-width="0.3"/>
<line x1="545" y1="374.4" x2="549.7" y2="379.1" stroke="#999" stroke-width="0.24"/>
<line x1="545" y1="379.1" x2="549.7" y2="374.4" stroke="#999" stroke-width="0.24"/>
<rect x="545" y="379.3" width="4.7" height="4.7" fill="#fff" stroke="#999" stroke-width="0.3"/>
<line x1="545" y1="379.3" x2="549.7" y2="384" stroke="#999" stroke-width="0.24"/>
<line x1="545" y1="384" x2="549.7" y2="379.3" stroke="#999" stroke-width="0.24"/>
<rect x="545" y="384.2" width="4.7" height="4.7" fill="#fff" stroke="#999" stroke-width="0.3"/>
<line x1="545" y1="384.2" x2="549.7" y2="388.9" stroke="#999" stroke-width="0.24"/>
<line x1="545" y1="388.9" x2="549.7" y2="384.2" stroke="#999" stroke-width="0.24"/>
<rect x="545" y="389.1" width="4.7" height="4.7" fill="#fff" stroke="#999" stroke-width="0.3"/>
<line x1="545" y1="389.1" x2="549.7" y2="393.8" stroke="#999" stroke-width="0.24"/>
<line x1="545" y1="393.8" x2="549.7" y2="389.1" stroke="#999" stroke-width="0.24"/>
<rect x="551" y="364" width="8" height="5.3" fill="#fff" stroke="#999" stroke-width="0.3"/>
<line x1="551" y1="364" x2="559" y2="369.3" stroke="#999" stroke-width="0.24"/>
<line x1="551" y1="369.3" x2="559" y2="364" stroke="#999" stroke-width="0.24"/>
<rect x="559" y="364" width="9" height="5.3" fill="#fff" stroke="#999" stroke-width="0.3"/>
<line x1="559" y1="364" x2="568" y2="369.3" stroke="#999" stroke-width="0.24"/>
<line x1="559" y1="369.3" x2="568" y2="364" stroke="#999" stroke-width="0.24"/>
<line x1="550" y1="369.5" x2="568.3" y2="369.5" stroke="#888" stroke-width="0.4"/>
<line x1="550" y1="369.5" x2="550" y2="394" stroke="#888" stroke-width="0.4"/>
<path d="M 556 389 L 562 376 " fill="none" stroke="#bbb" stroke-width="0.3"/>
<text x="556" y="381" font-size="2.6" fill="#888">储藏</text>
<line x1="545" y1="394.3" x2="569" y2="394.3" stroke="#555" stroke-width="0.6"/>
<rect x="568.3" y="369.3" width="2.7" height="31.4" fill="#555"/>
<rect x="571" y="364" width="41.3" height="7.6" fill="#fff" stroke="#333" stroke-width="0.9"/>
<line x1="573" y1="367.8" x2="610.3" y2="367.8" stroke="#aaa" stroke-width="0.3"/>
<line x1="573.5" y1="366" x2="573.5" y2="369.6" stroke="#aab" stroke-width="0.35"/>
<line x1="575.6" y1="366" x2="575.6" y2="369.6" stroke="#aab" stroke-width="0.35"/>
<line x1="577.7" y1="366" x2="577.7" y2="369.6" stroke="#aab" stroke-width="0.35"/>
<line x1="581.9" y1="366" x2="581.9" y2="369.6" stroke="#aab" stroke-width="0.35"/>
<line x1="584" y1="366" x2="584" y2="369.6" stroke="#aab" stroke-width="0.35"/>
<line x1="586.1" y1="366" x2="586.1" y2="369.6" stroke="#aab" stroke-width="0.35"/>
<line x1="590.3" y1="366" x2="590.3" y2="369.6" stroke="#aab" stroke-width="0.35"/>
<line x1="592.4" y1="366" x2="592.4" y2="369.6" stroke="#aab" stroke-width="0.35"/>
<line x1="594.5" y1="366" x2="594.5" y2="369.6" stroke="#aab" stroke-width="0.35"/>
<line x1="598.7" y1="366" x2="598.7" y2="369.6" stroke="#aab" stroke-width="0.35"/>
<line x1="600.8" y1="366" x2="600.8" y2="369.6" stroke="#aab" stroke-width="0.35"/>
<line x1="602.9" y1="366" x2="602.9" y2="369.6" stroke="#aab" stroke-width="0.35"/>
<line x1="607.1" y1="366" x2="607.1" y2="369.6" stroke="#aab" stroke-width="0.35"/>
<rect x="613.7" y="364" width="44.6" height="7.6" fill="#fff" stroke="#333" stroke-width="0.9"/>
<line x1="615.7" y1="367.8" x2="656.3" y2="367.8" stroke="#aaa" stroke-width="0.3"/>
<line x1="616.2" y1="366" x2="616.2" y2="369.6" stroke="#aab" stroke-width="0.35"/>
<line x1="618.3" y1="366" x2="618.3" y2="369.6" stroke="#aab" stroke-width="0.35"/>
<line x1="620.4" y1="366" x2="620.4" y2="369.6" stroke="#aab" stroke-width="0.35"/>
<line x1="624.6" y1="366" x2="624.6" y2="369.6" stroke="#aab" stroke-width="0.35"/>
<line x1="626.7" y1="366" x2="626.7" y2="369.6" stroke="#aab" stroke-width="0.35"/>
<line x1="628.8" y1="366" x2="628.8" y2="369.6" stroke="#aab" stroke-width="0.35"/>
<line x1="633" y1="366" x2="633" y2="369.6" stroke="#aab" stroke-width="0.35"/>
<line x1="635.1" y1="366" x2="635.1" y2="369.6" stroke="#aab" stroke-width="0.35"/>
<line x1="637.2" y1="366" x2="637.2" y2="369.6" stroke="#aab" stroke-width="0.35"/>
<line x1="641.4" y1="366" x2="641.4" y2="369.6" stroke="#aab" stroke-width="0.35"/>
<line x1="643.5" y1="366" x2="643.5" y2="369.6" stroke="#aab" stroke-width="0.35"/>
<line x1="645.6" y1="366" x2="645.6" y2="369.6" stroke="#aab" stroke-width="0.35"/>
<line x1="649.8" y1="366" x2="649.8" y2="369.6" stroke="#aab" stroke-width="0.35"/>
<line x1="651.9" y1="366" x2="651.9" y2="369.6" stroke="#aab" stroke-width="0.35"/>
<line x1="654" y1="366" x2="654" y2="369.6" stroke="#aab" stroke-width="0.35"/>
<rect x="571" y="393.7" width="41.3" height="7.3" fill="#fff" stroke="#333" stroke-width="0.9"/>
<line x1="573" y1="397.35" x2="610.3" y2="397.35" stroke="#aaa" stroke-width="0.3"/>
<line x1="573.5" y1="395.7" x2="573.5" y2="399" stroke="#aab" stroke-width="0.35"/>
<line x1="575.6" y1="395.7" x2="575.6" y2="399" stroke="#aab" stroke-width="0.35"/>
<line x1="577.7" y1="395.7" x2="577.7" y2="399" stroke="#aab" stroke-width="0.35"/>
<line x1="581.9" y1="395.7" x2="581.9" y2="399" stroke="#aab" stroke-width="0.35"/>
<line x1="584" y1="395.7" x2="584" y2="399" stroke="#aab" stroke-width="0.35"/>
<line x1="586.1" y1="395.7" x2="586.1" y2="399" stroke="#aab" stroke-width="0.35"/>
<line x1="590.3" y1="395.7" x2="590.3" y2="399" stroke="#aab" stroke-width="0.35"/>
<line x1="592.4" y1="395.7" x2="592.4" y2="399" stroke="#aab" stroke-width="0.35"/>
<line x1="594.5" y1="395.7" x2="594.5" y2="399" stroke="#aab" stroke-width="0.35"/>
<line x1="598.7" y1="395.7" x2="598.7" y2="399" stroke="#aab" stroke-width="0.35"/>
<line x1="600.8" y1="395.7" x2="600.8" y2="399" stroke="#aab" stroke-width="0.35"/>
<line x1="602.9" y1="395.7" x2="602.9" y2="399" stroke="#aab" stroke-width="0.35"/>
<line x1="607.1" y1="395.7" x2="607.1" y2="399" stroke="#aab" stroke-width="0.35"/>
<rect x="659" y="364" width="8.7" height="7.3" fill="#fff" stroke="#999" stroke-width="0.3"/>
<line x1="659" y1="364" x2="667.7" y2="371.3" stroke="#999" stroke-width="0.24"/>
<line x1="659" y1="371.3" x2="667.7" y2="364" stroke="#999" stroke-width="0.24"/>
<line x1="659" y1="371.3" x2="659" y2="393" stroke="#bbb" stroke-width="0.3" stroke-dasharray="1 0.7"/>
<rect x="655" y="379.3" width="4.7" height="6" fill="#fff" stroke="#555" stroke-width="0.6"/>
<text x="629" y="379.5" font-size="2.6" fill="#888">衣帽间</text>
<rect x="545" y="396.7" width="23.3" height="4.3" fill="#fff" stroke="#555" stroke-width="0.4"/>
<rect x="546.5" y="398" width="13.5" height="2" fill="#555"/>
<line x1="561" y1="398.3" x2="566" y2="400.3" stroke="#333" stroke-width="0.5"/>
<rect x="612.3" y="393" width="2.3" height="35" fill="#555"/>
<rect x="614.6" y="393" width="10.4" height="3" fill="#3c3c3c"/>
<rect x="644" y="393" width="35.7" height="3.7" fill="#3c3c3c"/>
<rect x="702.3" y="393" width="12.4" height="3.7" fill="#3c3c3c"/>
<line x1="626.5" y1="394.5" x2="631" y2="394.5" stroke="#333" stroke-width="0.5"/>
<line x1="638" y1="394.5" x2="643" y2="394.5" stroke="#333" stroke-width="0.5"/>
<polygon points="638,394.5 639.5,393.6 639.5,395.4" fill="#333"/>
<rect x="545" y="401" width="69" height="2" fill="#3c3c3c"/>
<rect x="545" y="403" width="67.3" height="23.5" fill="#ededed"/>
<line x1="569.5" y1="403" x2="569.5" y2="426.5" stroke="#999" stroke-width="0.35" stroke-dasharray="1 0.6"/>
<line x1="593.5" y1="403" x2="593.5" y2="426.5" stroke="#999" stroke-width="0.35"/>
<path d="M 549 423 L 561 404 M 561 404 L 572 423" fill="none" stroke="#c5c5c5" stroke-width="0.3"/>
<path d="M 600 406.7 L 606 406.7 L 606 412 A 3 3.3 0 0 1 600 412 Z" fill="#fff" stroke="#444" stroke-width="0.5"/>
<rect x="600" y="405.5" width="6" height="1.8" fill="#fff" stroke="#444" stroke-width="0.4"/>
<text x="558" y="413.5" font-size="2.4" fill="#888">淋浴</text>
<text x="558.5" y="419.5" font-size="2.4" fill="#888">马桶</text>
<text x="601.5" y="420" font-size="2.4" fill="#888">间</text>
<rect x="545" y="426.3" width="28.7" height="3" fill="#3c3c3c"/>
<rect x="590.3" y="426.3" width="24" height="3" fill="#3c3c3c"/>
<rect x="615.4" y="401.3" width="5.6" height="19.1" fill="#fff" stroke="#555" stroke-width="0.6" rx="1"/>
<rect x="614.6" y="425.3" width="10.4" height="3.1" fill="#3c3c3c"/>
<rect x="644" y="425.3" width="39.7" height="3.4" fill="#3c3c3c"/>
<rect x="698.3" y="425.3" width="9.4" height="3.4" fill="#3c3c3c"/>
<line x1="626.5" y1="427" x2="631" y2="427" stroke="#333" stroke-width="0.5"/>
<line x1="638" y1="427" x2="643" y2="427" stroke="#333" stroke-width="0.5"/>
<rect x="663" y="396.7" width="3" height="3.8" fill="#555"/>
<rect x="663" y="421.5" width="3" height="3.8" fill="#555"/>
<path d="M 664.5 400.5 A 8.5 10 0 0 0 656 410.7 A 8.5 10 0 0 0 664.5 421" fill="none" stroke="#888" stroke-width="0.35"/>
<line x1="656" y1="410.7" x2="663" y2="410.7" stroke="#999" stroke-width="0.3"/>
<text x="634.5" y="412.5" font-size="2.6" fill="#aaa">门厅</text>
<text x="681.5" y="412.5" font-size="2.8" fill="#888">过厅</text>
<line x1="690.5" y1="365" x2="690.5" y2="430" stroke="#d0d0d0" stroke-width="0.3"/>
<line x1="614" y1="410.7" x2="720" y2="410.7" stroke="#d8d8d8" stroke-width="0.3" stroke-dasharray="2 1"/>
<rect x="668" y="364" width="2" height="32" fill="#3c3c3c"/>
<rect x="670" y="364.4" width="42.3" height="4.9" fill="#fff" stroke="#666" stroke-width="0.4"/>
<rect x="670.3" y="369.7" width="5.4" height="23.3" fill="#fff" stroke="#666" stroke-width="0.4"/>
<rect x="706.3" y="369.7" width="5.7" height="23.6" fill="#fff" stroke="#666" stroke-width="0.4"/>
<line x1="672.5" y1="364.4" x2="672.5" y2="369.3" stroke="#c5c5c5" stroke-width="0.3"/>
<line x1="675" y1="364.4" x2="675" y2="369.3" stroke="#c5c5c5" stroke-width="0.3"/>
<line x1="677.5" y1="364.4" x2="677.5" y2="369.3" stroke="#c5c5c5" stroke-width="0.3"/>
<line x1="680" y1="364.4" x2="680" y2="369.3" stroke="#c5c5c5" stroke-width="0.3"/>
<line x1="682.5" y1="364.4" x2="682.5" y2="369.3" stroke="#c5c5c5" stroke-width="0.3"/>
<line x1="685" y1="364.4" x2="685" y2="369.3" stroke="#c5c5c5" stroke-width="0.3"/>
<line x1="687.5" y1="364.4" x2="687.5" y2="369.3" stroke="#c5c5c5" stroke-width="0.3"/>
<line x1="690" y1="364.4" x2="690" y2="369.3" stroke="#c5c5c5" stroke-width="0.3"/>
<line x1="692.5" y1="364.4" x2="692.5" y2="369.3" stroke="#c5c5c5" stroke-width="0.3"/>
<line x1="695" y1="364.4" x2="695" y2="369.3" stroke="#c5c5c5" stroke-width="0.3"/>
<line x1="697.5" y1="364.4" x2="697.5" y2="369.3" stroke="#c5c5c5" stroke-width="0.3"/>
<line x1="700" y1="364.4" x2="700" y2="369.3" stroke="#c5c5c5" stroke-width="0.3"/>
<line x1="702.5" y1="364.4" x2="702.5" y2="369.3" stroke="#c5c5c5" stroke-width="0.3"/>
<line x1="705" y1="364.4" x2="705" y2="369.3" stroke="#c5c5c5" stroke-width="0.3"/>
<line x1="707.5" y1="364.4" x2="707.5" y2="369.3" stroke="#c5c5c5" stroke-width="0.3"/>
<line x1="710" y1="364.4" x2="710" y2="369.3" stroke="#c5c5c5" stroke-width="0.3"/>
<line x1="670.3" y1="372.1" x2="675.7" y2="372.1" stroke="#c5c5c5" stroke-width="0.3"/>
<line x1="706.3" y1="372.1" x2="712" y2="372.1" stroke="#c5c5c5" stroke-width="0.3"/>
<line x1="670.3" y1="374.5" x2="675.7" y2="374.5" stroke="#c5c5c5" stroke-width="0.3"/>
<line x1="706.3" y1="374.5" x2="712" y2="374.5" stroke="#c5c5c5" stroke-width="0.3"/>
<line x1="670.3" y1="376.9" x2="675.7" y2="376.9" stroke="#c5c5c5" stroke-width="0.3"/>
<line x1="706.3" y1="376.9" x2="712" y2="376.9" stroke="#c5c5c5" stroke-width="0.3"/>
<line x1="670.3" y1="379.3" x2="675.7" y2="379.3" stroke="#c5c5c5" stroke-width="0.3"/>
<line x1="706.3" y1="379.3" x2="712" y2="379.3" stroke="#c5c5c5" stroke-width="0.3"/>
<line x1="670.3" y1="381.7" x2="675.7" y2="381.7" stroke="#c5c5c5" stroke-width="0.3"/>
<line x1="706.3" y1="381.7" x2="712" y2="381.7" stroke="#c5c5c5" stroke-width="0.3"/>
<line x1="670.3" y1="384.1" x2="675.7" y2="384.1" stroke="#c5c5c5" stroke-width="0.3"/>
<line x1="706.3" y1="384.1" x2="712" y2="384.1" stroke="#c5c5c5" stroke-width="0.3"/>
<line x1="670.3" y1="386.5" x2="675.7" y2="386.5" stroke="#c5c5c5" stroke-width="0.3"/>
<line x1="706.3" y1="386.5" x2="712" y2="386.5" stroke="#c5c5c5" stroke-width="0.3"/>
<line x1="670.3" y1="388.9" x2="675.7" y2="388.9" stroke="#c5c5c5" stroke-width="0.3"/>
<line x1="706.3" y1="388.9" x2="712" y2="388.9" stroke="#c5c5c5" stroke-width="0.3"/>
<line x1="670.3" y1="391.3" x2="675.7" y2="391.3" stroke="#c5c5c5" stroke-width="0.3"/>
<line x1="706.3" y1="391.3" x2="712" y2="391.3" stroke="#c5c5c5" stroke-width="0.3"/>
<rect x="712.3" y="364" width="2.4" height="32.7" fill="#555"/>
<text x="680" y="382.5" font-size="2.8" fill="#777">书房</text>
<path d="M 681 394.5 L 681 385 A 9.5 9.5 0 0 1 690.5 394.5" fill="none" stroke="#666" stroke-width="0.35"/>
<path d="M 700.5 394.5 L 700.5 385 A 9.5 9.5 0 0 0 691 394.5" fill="none" stroke="#666" stroke-width="0.35"/>
<rect x="546.3" y="431" width="8.3" height="7.3" fill="#fff" stroke="#999" stroke-width="0.3"/>
<line x1="546.3" y1="431" x2="554.6" y2="438.3" stroke="#999" stroke-width="0.24"/>
<line x1="546.3" y1="438.3" x2="554.6" y2="431" stroke="#999" stroke-width="0.24"/>
<rect x="545.3" y="441" width="9.7" height="37.3" fill="#fff" stroke="#555" stroke-width="0.5"/>
<rect x="547" y="448.3" width="6" height="8" fill="#c5dcea" stroke="#8fb0c4" stroke-width="0.4"/>
<rect x="547" y="463.7" width="6" height="8.6" fill="#c5dcea" stroke="#8fb0c4" stroke-width="0.4"/>
<line x1="545.3" y1="460" x2="555" y2="460" stroke="#888" stroke-width="0.35"/>
<text x="559.5" y="442.5" font-size="2" fill="#666">主卧淋浴间</text>
<text x="570" y="465" font-size="2.8" fill="#999">主卫</text>
<rect x="550.3" y="480.3" width="41.4" height="19.1" fill="#fff" stroke="#444" stroke-width="0.6"/>
<rect x="554" y="483.4" width="34.7" height="14.3" fill="#cfe1ec" stroke="#a9c3d3" stroke-width="0.4" rx="0.8"/>
<text x="568" y="492.5" font-size="2.6" fill="#9bb">浴缸</text>
<circle cx="584.6" cy="476.3" r="2.9" fill="#fff" stroke="#666" stroke-width="0.5"/>
<rect x="586.6" y="433.7" width="5.1" height="13.3" fill="#f9f9f9" stroke="#ddd" stroke-width="0.4"/>
<rect x="592.3" y="427.7" width="4" height="24" fill="#555"/>
<rect x="592.3" y="469.7" width="4" height="30.6" fill="#555"/>
<line x1="594.3" y1="452.5" x2="594.3" y2="456.5" stroke="#333" stroke-width="0.5"/>
<line x1="594.3" y1="465" x2="594.3" y2="469" stroke="#333" stroke-width="0.5"/>
<line x1="545" y1="460.7" x2="640" y2="460.7" stroke="#d5d5d5" stroke-width="0.3"/>
<circle cx="617" cy="443.4" r="2.9" fill="#fff" stroke="#666" stroke-width="0.5"/>
<rect x="613.4" y="453.7" width="8" height="14" fill="#fff" stroke="#333" stroke-width="0.8" rx="4"/>
<rect x="603.5" y="474.2" width="8.4" height="8.4" rx="1" fill="#fff" stroke="#222" stroke-width="0.9" transform="rotate(-38 607.7 478.4)"/>
<circle cx="615" cy="483" r="2" fill="#fff" stroke="#999" stroke-width="0.4"/>
<path d="M 598 495 L 602 492.5 L 604 495 M 604 497 L 606 492.5 L 606 497.5 L 603 497.5" fill="none" stroke="#777" stroke-width="0.4"/>
<rect x="629.7" y="448.7" width="9.3" height="23.6" fill="#fff" stroke="#333" stroke-width="0.7" rx="1"/>
<rect x="639.7" y="446.6" width="32" height="27.7" fill="#fff" stroke="#333" stroke-width="0.8"/>
<path d="M 640.5 447.5 L 670.5 460.5 L 640.5 473.5" fill="none" stroke="#999" stroke-width="0.35"/>
<rect x="664" y="435" width="7.7" height="10.7" fill="#fff" stroke="#888" stroke-width="0.4"/>
<circle cx="667.9" cy="440.3" r="2.2" fill="#f3e77d" stroke="#d8cc62" stroke-width="0.3"/>
<rect x="664" y="475.4" width="7.7" height="10.3" fill="#fff" stroke="#888" stroke-width="0.4"/>
<circle cx="667.9" cy="480.5" r="2.2" fill="#f3e77d" stroke="#d8cc62" stroke-width="0.3"/>
<text x="642.5" y="438.5" font-size="2.8" fill="#999">主卧</text>
<text x="646" y="463" font-size="2.8" fill="#aaa">主卧</text>
<rect x="672" y="427.7" width="3" height="64" fill="#555"/>
<rect x="675.4" y="428.3" width="6.3" height="20" fill="#fff" stroke="#888" stroke-width="0.35"/>
<line x1="675.4" y1="428.3" x2="681.7" y2="438.3" stroke="#aaa" stroke-width="0.3"/>
<line x1="675.4" y1="438.3" x2="681.7" y2="428.3" stroke="#aaa" stroke-width="0.3"/>
<line x1="675.4" y1="438.3" x2="681.7" y2="448.3" stroke="#aaa" stroke-width="0.3"/>
<line x1="675.4" y1="448.3" x2="681.7" y2="438.3" stroke="#aaa" stroke-width="0.3"/>
<line x1="675.4" y1="438.3" x2="681.7" y2="438.3" stroke="#888" stroke-width="0.3"/>
<rect x="675" y="448.7" width="16" height="2.3" fill="#3c3c3c"/>
<rect x="676.3" y="451.4" width="9.4" height="16" fill="#fff" stroke="#666" stroke-width="0.5"/>
<rect x="678.3" y="455" width="6.3" height="8" fill="#c5dcea" stroke="#8fb0c4" stroke-width="0.4"/>
<path d="M 679.5 472.3 L 684.5 472.3 A 3.2 3.15 0 0 1 684.5 478.6 L 679.5 478.6 Z" fill="#fff" stroke="#444" stroke-width="0.5"/>
<rect x="677.4" y="472.3" width="2.3" height="6.3" fill="#fff" stroke="#333" stroke-width="0.5"/>
<rect x="676.3" y="483.7" width="5.4" height="8" fill="#fff" stroke="#333" stroke-width="0.8"/>
<rect x="663.3" y="492.3" width="12.4" height="6.7" fill="#444"/>
<line x1="681.7" y1="483.5" x2="681.7" y2="499" stroke="#aaa" stroke-width="0.4"/>
<line x1="675.5" y1="483.5" x2="708" y2="483.5" stroke="#ddd" stroke-width="0.4"/>
<text x="691.5" y="471.5" font-size="2.8" fill="#999">次卫</text>
<path d="M 684 428.7 A 11 11 0 0 0 695 439.5" fill="none" stroke="#777" stroke-width="0.35"/>
<path d="M 691 451 A 13 13 0 0 0 704 464" fill="none" stroke="#777" stroke-width="0.35"/>
<path d="M 694 483.5 A 9.5 9.5 0 0 1 703.5 474" fill="none" stroke="#777" stroke-width="0.35"/>
<rect x="699" y="433" width="13" height="8" fill="#f6f6f6" stroke="#ddd" stroke-width="0.3"/>
<line x1="707.5" y1="430" x2="707.5" y2="447" stroke="#777" stroke-width="0.4"/>
<rect x="708" y="447" width="2.7" height="52.7" fill="#555"/>
<rect x="705.7" y="447" width="14.6" height="2" fill="#3c3c3c"/>
<rect x="707.7" y="417.3" width="43.3" height="12.7" fill="#fff" stroke="#444" stroke-width="0.5"/>
<rect x="707.7" y="417.3" width="43.3" height="3.5" fill="#444"/>
<rect x="711" y="421.7" width="38.7" height="7.6" fill="#fff" stroke="#222" stroke-width="0.7"/>
<line x1="713.5" y1="423.5" x2="713.5" y2="427.8" stroke="#889" stroke-width="0.35"/>
<line x1="715.6" y1="423.5" x2="715.6" y2="427.8" stroke="#889" stroke-width="0.35"/>
<line x1="717.7" y1="423.5" x2="717.7" y2="427.8" stroke="#889" stroke-width="0.35"/>
<line x1="721.9" y1="423.5" x2="721.9" y2="427.8" stroke="#889" stroke-width="0.35"/>
<line x1="724" y1="423.5" x2="724" y2="427.8" stroke="#889" stroke-width="0.35"/>
<line x1="726.1" y1="423.5" x2="726.1" y2="427.8" stroke="#889" stroke-width="0.35"/>
<line x1="730.3" y1="423.5" x2="730.3" y2="427.8" stroke="#889" stroke-width="0.35"/>
<line x1="732.4" y1="423.5" x2="732.4" y2="427.8" stroke="#889" stroke-width="0.35"/>
<line x1="734.5" y1="423.5" x2="734.5" y2="427.8" stroke="#889" stroke-width="0.35"/>
<line x1="738.7" y1="423.5" x2="738.7" y2="427.8" stroke="#889" stroke-width="0.35"/>
<line x1="740.8" y1="423.5" x2="740.8" y2="427.8" stroke="#889" stroke-width="0.35"/>
<line x1="742.9" y1="423.5" x2="742.9" y2="427.8" stroke="#889" stroke-width="0.35"/>
<line x1="747.1" y1="423.5" x2="747.1" y2="427.8" stroke="#889" stroke-width="0.35"/>
<rect x="698" y="424.8" width="9.7" height="1.8" fill="#3c3c3c"/>
<rect x="711.3" y="460.3" width="32.4" height="24" fill="#fff" stroke="#333" stroke-width="0.8"/>
<path d="M 712 461 L 742.5 472.3 L 712 483.6" fill="none" stroke="#999" stroke-width="0.35"/>
<line x1="712" y1="472.3" x2="742.5" y2="472.3" stroke="#ccc" stroke-width="0.3"/>
<circle cx="715" cy="456" r="3.6" fill="#f3f0bd" stroke="#b9b48a" stroke-width="0.4"/>
<circle cx="715" cy="456" r="1.98" fill="#ece79a"/>
<circle cx="715" cy="489" r="3.6" fill="#f3f0bd" stroke="#b9b48a" stroke-width="0.4"/>
<circle cx="715" cy="489" r="1.98" fill="#ece79a"/>
<text x="748" y="471" font-size="2.6" fill="#999">女儿房</text>
<rect x="750.1" y="432.1" width="8.4" height="8.4" rx="1" fill="#fff" stroke="#222" stroke-width="0.8" transform="rotate(45 754.3 436.3)"/>
<circle cx="754.5" cy="443.5" r="1.8" fill="#fff" stroke="#aaa" stroke-width="0.4"/>
<polygon points="836.5,438 838.3,436 840.1,438" fill="#444"/>
<polygon points="779.5,443.5 781.3,441.5 781.3,445.5" fill="#444"/>
<circle cx="817.8" cy="459.5" r="4.7" fill="#fff" stroke="#aaa" stroke-width="0.5"/>
<rect x="804.00" y="445.60" width="8.6" height="8.6" rx="2.8" fill="#fff" stroke="#333" stroke-width="0.7" transform="rotate(45 808.30 449.90)"/>
<rect x="823.40" y="445.60" width="8.6" height="8.6" rx="2.8" fill="#fff" stroke="#333" stroke-width="0.7" transform="rotate(45 827.70 449.90)"/>
<rect x="804.00" y="465.00" width="8.6" height="8.6" rx="2.8" fill="#fff" stroke="#333" stroke-width="0.7" transform="rotate(45 808.30 469.30)"/>
<rect x="823.40" y="465.00" width="8.6" height="8.6" rx="2.8" fill="#fff" stroke="#333" stroke-width="0.7" transform="rotate(45 827.70 469.30)"/>
<text x="838" y="462" font-size="2.8" fill="#999">露台</text>
<text x="797" y="459.5" font-size="2" fill="#999">洗衣</text>
<text x="887" y="396" font-size="2.8" fill="#999">露台</text>
</g>
<g id="p70_annot">
<text x="157" y="114.8" font-size="2.1" fill="#444" font-weight="bold">窗帘盒位</text>
<path d="M 166.5 113.8 L 172.5 113.8 L 178.5 121.5" fill="none" stroke="#888" stroke-width="0.3"/>
<text x="292.5" y="114.8" font-size="2.1" fill="#444" font-weight="bold">窗帘盒位</text>
<path d="M 291.8 114 L 286 114 L 281.5 121.5" fill="none" stroke="#888" stroke-width="0.3"/>
<text x="735.5" y="108.2" font-size="2.1" fill="#555">窗帘盒位</text>
<text x="735.5" y="111.3" font-size="2.1" fill="#555">详见立面图</text>
<path d="M 747 107.5 L 751 107.5 L 755.5 119.5" fill="none" stroke="#999" stroke-width="0.3"/>
<path d="M 736 110 L 732.5 110 L 728 119.5" fill="none" stroke="#bbb" stroke-width="0.3"/>
<path d="M 453 200.5 L 457.5 200.5 L 456.3 202.3" fill="none" stroke="#666" stroke-width="0.35"/>
<path d="M 452.5 218 L 455 218 M 452.5 243 L 455 243" fill="none" stroke="#444" stroke-width="0.5"/>
<path d="M 868.5 199.5 L 873.5 199.5 L 872 201.5" fill="none" stroke="#555" stroke-width="0.35"/>
<line x1="906" y1="289.5" x2="915" y2="289.5" stroke="#ddd" stroke-width="0.4"/>
<line x1="868.5" y1="289.5" x2="900" y2="289.5" stroke="#d8d8d8" stroke-width="0.35"/>
</g>
</svg></div>
</body></html>
